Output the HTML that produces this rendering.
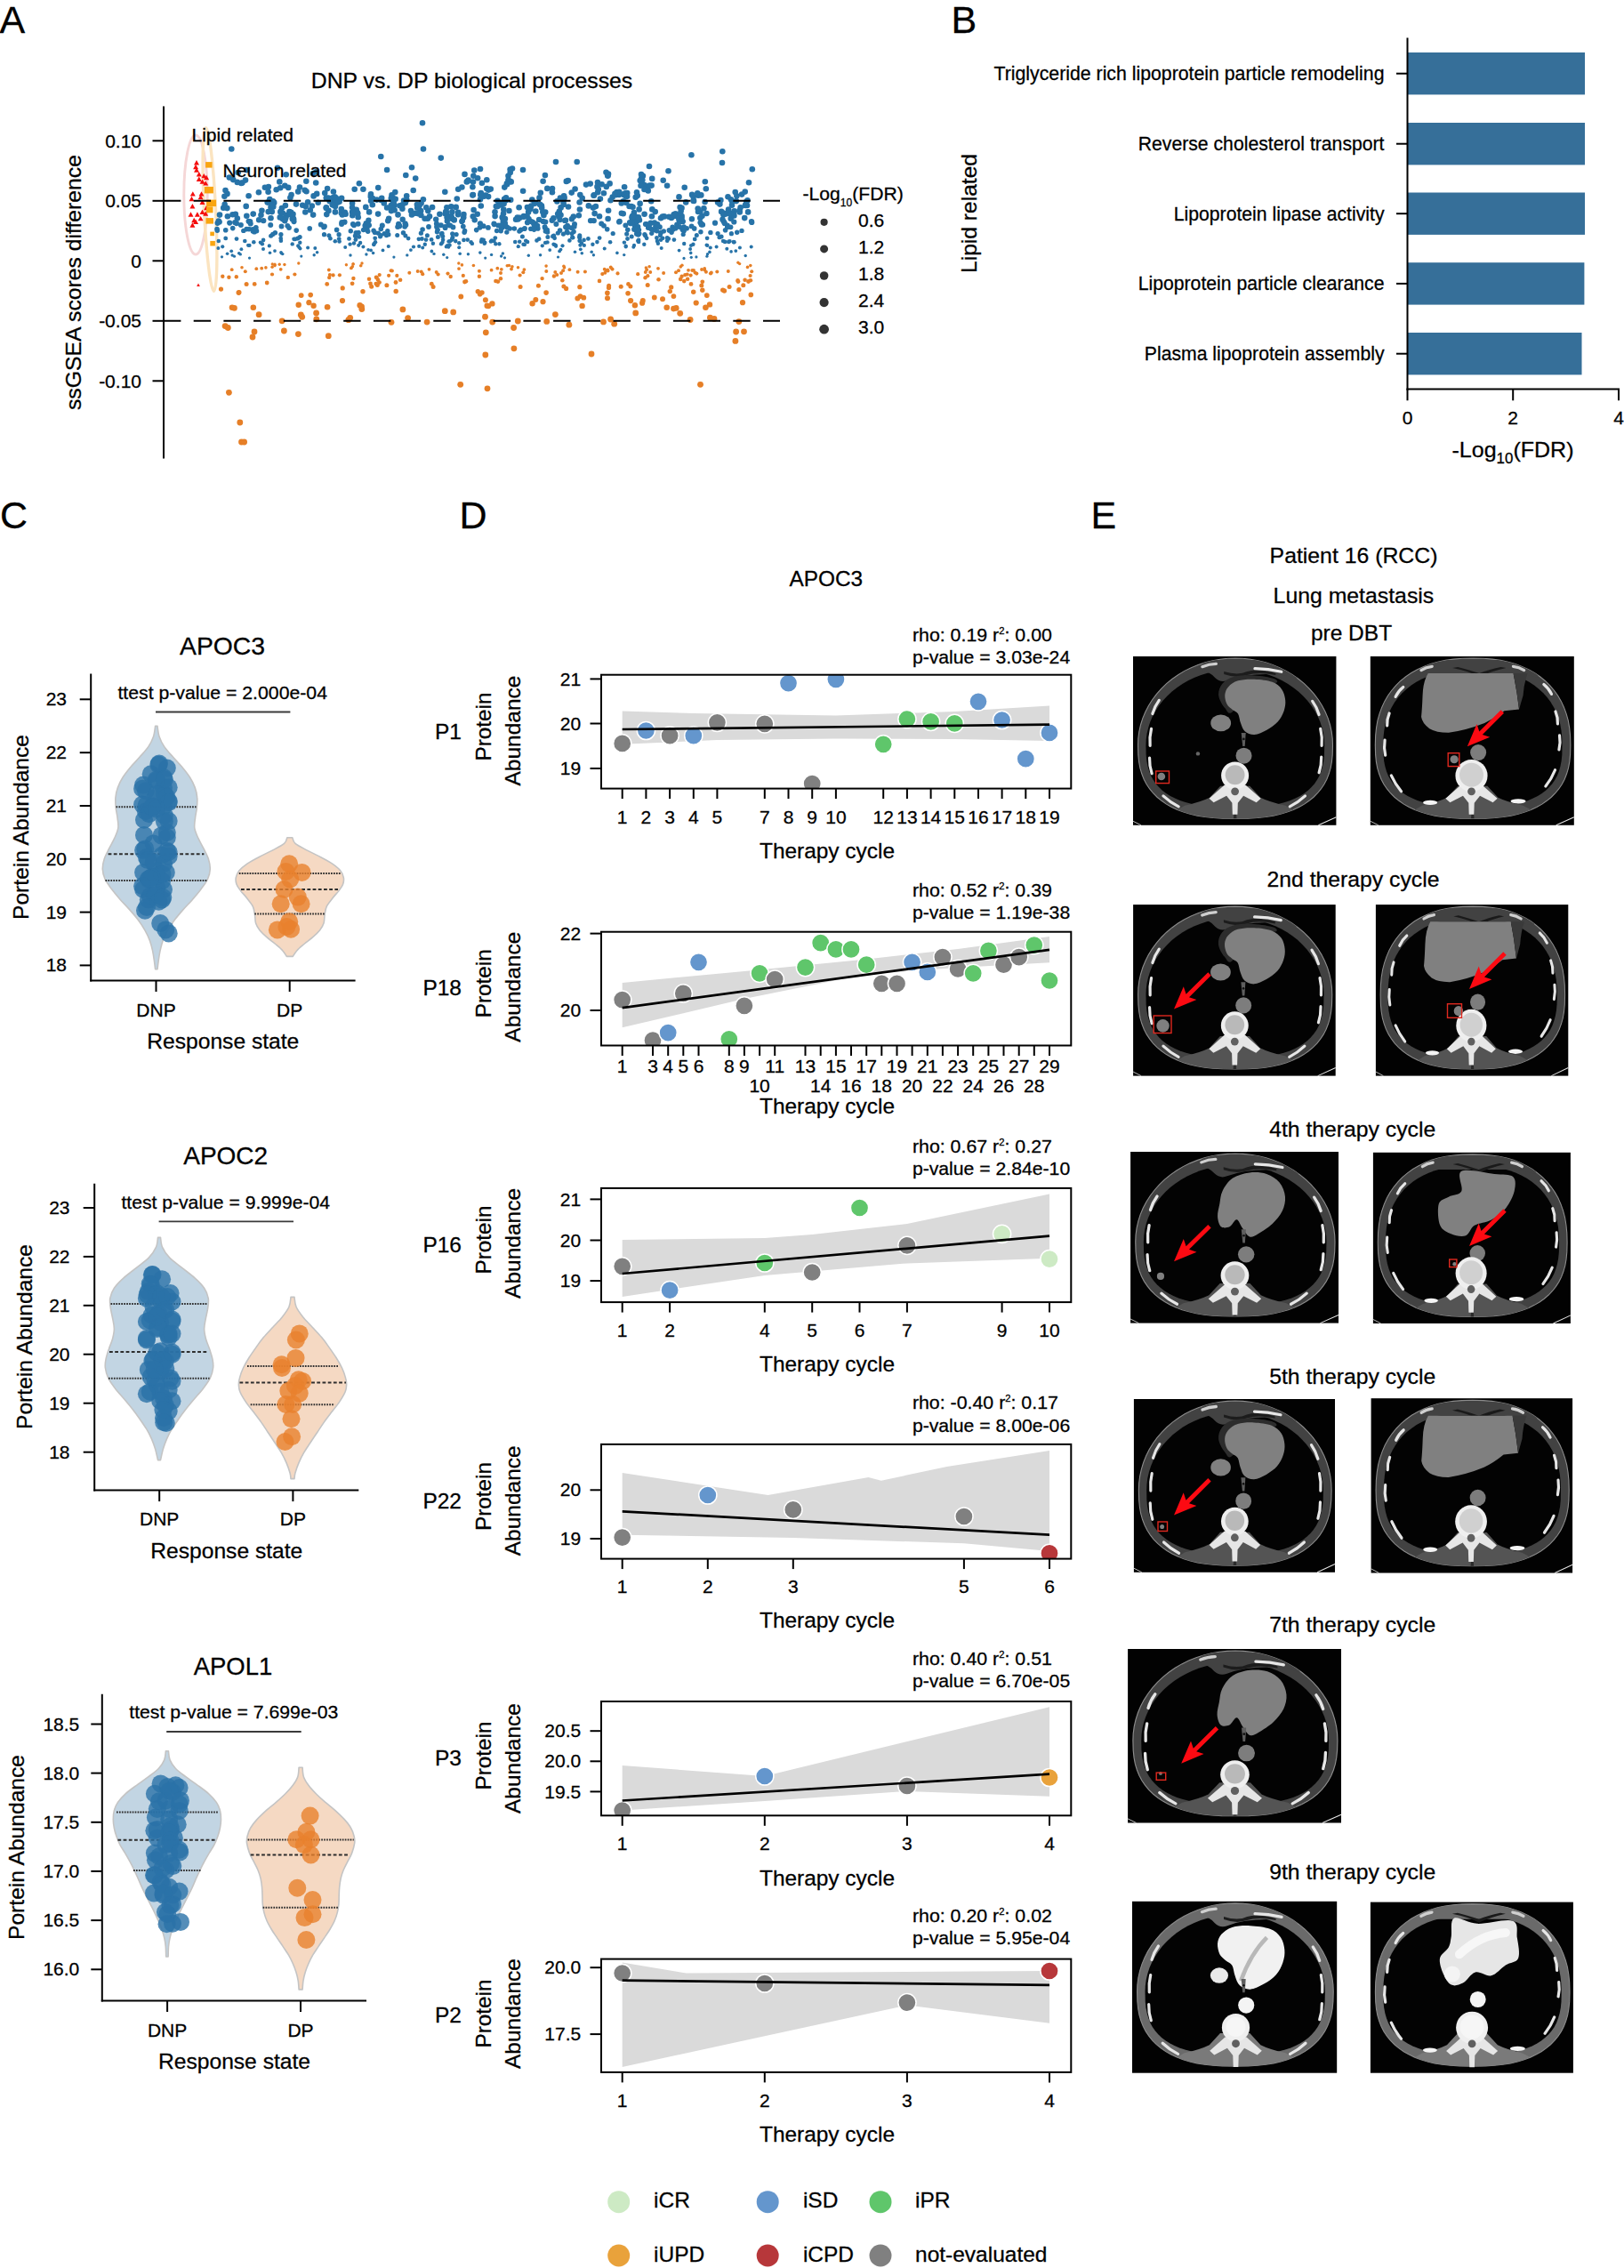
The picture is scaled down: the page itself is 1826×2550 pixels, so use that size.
<!DOCTYPE html>
<html lang="en"><head><meta charset="utf-8"><title>Figure</title>
<style>html,body{margin:0;padding:0;background:#fff}body{width:1826px;height:2550px;overflow:hidden}svg{display:block}text{font-family:"Liberation Sans",sans-serif;fill:#000;stroke:#000;stroke-width:.28px}</style></head><body>
<svg width="1826" height="2550" viewBox="0 0 1826 2550">
<defs><clipPath id="cp1"><rect x="676" y="758.7" width="528.3" height="127.9"/></clipPath><clipPath id="cp2"><rect x="676" y="1047.7" width="528.3" height="127.8"/></clipPath><clipPath id="cp3"><rect x="676" y="1335.9" width="528.3" height="128.2"/></clipPath><clipPath id="cp4"><rect x="676" y="1623.9" width="528.3" height="128.7"/></clipPath><clipPath id="cp5"><rect x="676" y="1913" width="528.3" height="128.3"/></clipPath><clipPath id="cp6"><rect x="676" y="2202.6" width="528.3" height="127.3"/></clipPath><clipPath id="ct1"><path d="M224.1 100L223.8 110.8L223 118.7L221.7 125.8L219.8 132.2L217.4 138.3L214.5 143.9L211 149.1L207.1 153.9L202.6 158.4L197.6 162.5L192.2 166.3L186.2 169.6L179.8 172.6L172.9 175.2L165.5 177.4L157.5 179.3L148.9 180.7L139.6 181.7L129.1 182.3L114.8 182.5L100.5 182.3L90 181.7L80.7 180.7L72.1 179.3L64.1 177.4L56.7 175.2L49.8 172.6L43.4 169.6L37.4 166.3L32 162.5L27 158.4L22.5 153.9L18.6 149.1L15.1 143.9L12.2 138.3L9.8 132.2L7.9 125.8L6.6 118.7L5.8 110.8L5.5 100L5.8 92.3L6.8 84.7L8.5 77.1L10.8 69.7L13.8 62.5L17.4 55.5L21.6 48.8L26.4 42.4L31.7 36.4L37.5 30.7L43.8 25.5L50.6 20.7L57.7 16.4L65.2 12.7L73 9.5L81 6.8L89.3 4.7L97.7 3.2L106.2 2.3L114.8 2L123.4 2.3L131.9 3.2L140.3 4.7L148.6 6.8L156.6 9.5L164.4 12.7L171.9 16.4L179 20.7L185.8 25.5L192.1 30.7L197.9 36.4L203.2 42.4L208 48.8L212.2 55.5L215.8 62.5L218.8 69.7L221.1 77.1L222.8 84.7L223.8 92.3Z"/></clipPath><clipPath id="ct2"><path d="M224.1 100L223.8 110.8L223 118.7L221.7 125.8L219.8 132.2L217.4 138.3L214.5 143.9L211 149.1L207.1 153.9L202.6 158.4L197.6 162.5L192.2 166.3L186.2 169.6L179.8 172.6L172.9 175.2L165.5 177.4L157.5 179.3L148.9 180.7L139.6 181.7L129.1 182.3L114.8 182.5L100.5 182.3L90 181.7L80.7 180.7L72.1 179.3L64.1 177.4L56.7 175.2L49.8 172.6L43.4 169.6L37.4 166.3L32 162.5L27 158.4L22.5 153.9L18.6 149.1L15.1 143.9L12.2 138.3L9.8 132.2L7.9 125.8L6.6 118.7L5.8 110.8L5.5 100L5.8 89.3L6.7 80.5L8.1 72.3L10.2 64.7L12.8 57.5L15.9 50.7L19.6 44.3L23.9 38.3L28.7 32.7L33.9 27.5L39.7 22.8L45.9 18.5L52.6 14.7L59.8 11.4L67.4 8.5L75.4 6.2L84 4.4L93 3.1L102.8 2.3L114.8 2L126.8 2.3L136.6 3.1L145.6 4.4L154.2 6.2L162.2 8.5L169.8 11.4L177 14.7L183.7 18.5L189.9 22.8L195.7 27.5L200.9 32.7L205.7 38.3L210 44.3L213.7 50.7L216.8 57.5L219.4 64.7L221.5 72.3L222.9 80.5L223.8 89.3Z"/></clipPath><clipPath id="ct3"><path d="M224.1 100L223.8 110.8L223 118.7L221.7 125.8L219.8 132.2L217.4 138.3L214.5 143.9L211 149.1L207.1 153.9L202.6 158.4L197.6 162.5L192.2 166.3L186.2 169.6L179.8 172.6L172.9 175.2L165.5 177.4L157.5 179.3L148.9 180.7L139.6 181.7L129.1 182.3L114.8 182.5L100.5 182.3L90 181.7L80.7 180.7L72.1 179.3L64.1 177.4L56.7 175.2L49.8 172.6L43.4 169.6L37.4 166.3L32 162.5L27 158.4L22.5 153.9L18.6 149.1L15.1 143.9L12.2 138.3L9.8 132.2L7.9 125.8L6.6 118.7L5.8 110.8L5.5 100L5.8 92.3L6.8 84.7L8.5 77.1L10.8 69.7L13.8 62.5L17.4 55.5L21.6 48.8L26.4 42.4L31.7 36.4L37.5 30.7L43.8 25.5L50.6 20.7L57.7 16.4L65.2 12.7L73 9.5L81 6.8L89.3 4.7L97.7 3.2L106.2 2.3L114.8 2L123.4 2.3L131.9 3.2L140.3 4.7L148.6 6.8L156.6 9.5L164.4 12.7L171.9 16.4L179 20.7L185.8 25.5L192.1 30.7L197.9 36.4L203.2 42.4L208 48.8L212.2 55.5L215.8 62.5L218.8 69.7L221.1 77.1L222.8 84.7L223.8 92.3Z"/></clipPath><clipPath id="ct4"><path d="M224.1 100L223.8 110.8L223 118.7L221.7 125.8L219.8 132.2L217.4 138.3L214.5 143.9L211 149.1L207.1 153.9L202.6 158.4L197.6 162.5L192.2 166.3L186.2 169.6L179.8 172.6L172.9 175.2L165.5 177.4L157.5 179.3L148.9 180.7L139.6 181.7L129.1 182.3L114.8 182.5L100.5 182.3L90 181.7L80.7 180.7L72.1 179.3L64.1 177.4L56.7 175.2L49.8 172.6L43.4 169.6L37.4 166.3L32 162.5L27 158.4L22.5 153.9L18.6 149.1L15.1 143.9L12.2 138.3L9.8 132.2L7.9 125.8L6.6 118.7L5.8 110.8L5.5 100L5.8 89.3L6.7 80.5L8.1 72.3L10.2 64.7L12.8 57.5L15.9 50.7L19.6 44.3L23.9 38.3L28.7 32.7L33.9 27.5L39.7 22.8L45.9 18.5L52.6 14.7L59.8 11.4L67.4 8.5L75.4 6.2L84 4.4L93 3.1L102.8 2.3L114.8 2L126.8 2.3L136.6 3.1L145.6 4.4L154.2 6.2L162.2 8.5L169.8 11.4L177 14.7L183.7 18.5L189.9 22.8L195.7 27.5L200.9 32.7L205.7 38.3L210 44.3L213.7 50.7L216.8 57.5L219.4 64.7L221.5 72.3L222.9 80.5L223.8 89.3Z"/></clipPath><clipPath id="ct5"><path d="M224.1 100L223.8 110.8L223 118.7L221.7 125.8L219.8 132.2L217.4 138.3L214.5 143.9L211 149.1L207.1 153.9L202.6 158.4L197.6 162.5L192.2 166.3L186.2 169.6L179.8 172.6L172.9 175.2L165.5 177.4L157.5 179.3L148.9 180.7L139.6 181.7L129.1 182.3L114.8 182.5L100.5 182.3L90 181.7L80.7 180.7L72.1 179.3L64.1 177.4L56.7 175.2L49.8 172.6L43.4 169.6L37.4 166.3L32 162.5L27 158.4L22.5 153.9L18.6 149.1L15.1 143.9L12.2 138.3L9.8 132.2L7.9 125.8L6.6 118.7L5.8 110.8L5.5 100L5.8 92.3L6.8 84.7L8.5 77.1L10.8 69.7L13.8 62.5L17.4 55.5L21.6 48.8L26.4 42.4L31.7 36.4L37.5 30.7L43.8 25.5L50.6 20.7L57.7 16.4L65.2 12.7L73 9.5L81 6.8L89.3 4.7L97.7 3.2L106.2 2.3L114.8 2L123.4 2.3L131.9 3.2L140.3 4.7L148.6 6.8L156.6 9.5L164.4 12.7L171.9 16.4L179 20.7L185.8 25.5L192.1 30.7L197.9 36.4L203.2 42.4L208 48.8L212.2 55.5L215.8 62.5L218.8 69.7L221.1 77.1L222.8 84.7L223.8 92.3Z"/></clipPath><clipPath id="ct6"><path d="M224.1 100L223.8 110.8L223 118.7L221.7 125.8L219.8 132.2L217.4 138.3L214.5 143.9L211 149.1L207.1 153.9L202.6 158.4L197.6 162.5L192.2 166.3L186.2 169.6L179.8 172.6L172.9 175.2L165.5 177.4L157.5 179.3L148.9 180.7L139.6 181.7L129.1 182.3L114.8 182.5L100.5 182.3L90 181.7L80.7 180.7L72.1 179.3L64.1 177.4L56.7 175.2L49.8 172.6L43.4 169.6L37.4 166.3L32 162.5L27 158.4L22.5 153.9L18.6 149.1L15.1 143.9L12.2 138.3L9.8 132.2L7.9 125.8L6.6 118.7L5.8 110.8L5.5 100L5.8 89.3L6.7 80.5L8.1 72.3L10.2 64.7L12.8 57.5L15.9 50.7L19.6 44.3L23.9 38.3L28.7 32.7L33.9 27.5L39.7 22.8L45.9 18.5L52.6 14.7L59.8 11.4L67.4 8.5L75.4 6.2L84 4.4L93 3.1L102.8 2.3L114.8 2L126.8 2.3L136.6 3.1L145.6 4.4L154.2 6.2L162.2 8.5L169.8 11.4L177 14.7L183.7 18.5L189.9 22.8L195.7 27.5L200.9 32.7L205.7 38.3L210 44.3L213.7 50.7L216.8 57.5L219.4 64.7L221.5 72.3L222.9 80.5L223.8 89.3Z"/></clipPath><clipPath id="ct7"><path d="M224.1 100L223.8 110.8L223 118.7L221.7 125.8L219.8 132.2L217.4 138.3L214.5 143.9L211 149.1L207.1 153.9L202.6 158.4L197.6 162.5L192.2 166.3L186.2 169.6L179.8 172.6L172.9 175.2L165.5 177.4L157.5 179.3L148.9 180.7L139.6 181.7L129.1 182.3L114.8 182.5L100.5 182.3L90 181.7L80.7 180.7L72.1 179.3L64.1 177.4L56.7 175.2L49.8 172.6L43.4 169.6L37.4 166.3L32 162.5L27 158.4L22.5 153.9L18.6 149.1L15.1 143.9L12.2 138.3L9.8 132.2L7.9 125.8L6.6 118.7L5.8 110.8L5.5 100L5.8 92.3L6.8 84.7L8.5 77.1L10.8 69.7L13.8 62.5L17.4 55.5L21.6 48.8L26.4 42.4L31.7 36.4L37.5 30.7L43.8 25.5L50.6 20.7L57.7 16.4L65.2 12.7L73 9.5L81 6.8L89.3 4.7L97.7 3.2L106.2 2.3L114.8 2L123.4 2.3L131.9 3.2L140.3 4.7L148.6 6.8L156.6 9.5L164.4 12.7L171.9 16.4L179 20.7L185.8 25.5L192.1 30.7L197.9 36.4L203.2 42.4L208 48.8L212.2 55.5L215.8 62.5L218.8 69.7L221.1 77.1L222.8 84.7L223.8 92.3Z"/></clipPath><clipPath id="ct8"><path d="M224.1 100L223.8 110.8L223 118.7L221.7 125.8L219.8 132.2L217.4 138.3L214.5 143.9L211 149.1L207.1 153.9L202.6 158.4L197.6 162.5L192.2 166.3L186.2 169.6L179.8 172.6L172.9 175.2L165.5 177.4L157.5 179.3L148.9 180.7L139.6 181.7L129.1 182.3L114.8 182.5L100.5 182.3L90 181.7L80.7 180.7L72.1 179.3L64.1 177.4L56.7 175.2L49.8 172.6L43.4 169.6L37.4 166.3L32 162.5L27 158.4L22.5 153.9L18.6 149.1L15.1 143.9L12.2 138.3L9.8 132.2L7.9 125.8L6.6 118.7L5.8 110.8L5.5 100L5.8 89.3L6.7 80.5L8.1 72.3L10.2 64.7L12.8 57.5L15.9 50.7L19.6 44.3L23.9 38.3L28.7 32.7L33.9 27.5L39.7 22.8L45.9 18.5L52.6 14.7L59.8 11.4L67.4 8.5L75.4 6.2L84 4.4L93 3.1L102.8 2.3L114.8 2L126.8 2.3L136.6 3.1L145.6 4.4L154.2 6.2L162.2 8.5L169.8 11.4L177 14.7L183.7 18.5L189.9 22.8L195.7 27.5L200.9 32.7L205.7 38.3L210 44.3L213.7 50.7L216.8 57.5L219.4 64.7L221.5 72.3L222.9 80.5L223.8 89.3Z"/></clipPath><clipPath id="ct9"><path d="M224.1 100L223.8 110.8L223 118.7L221.7 125.8L219.8 132.2L217.4 138.3L214.5 143.9L211 149.1L207.1 153.9L202.6 158.4L197.6 162.5L192.2 166.3L186.2 169.6L179.8 172.6L172.9 175.2L165.5 177.4L157.5 179.3L148.9 180.7L139.6 181.7L129.1 182.3L114.8 182.5L100.5 182.3L90 181.7L80.7 180.7L72.1 179.3L64.1 177.4L56.7 175.2L49.8 172.6L43.4 169.6L37.4 166.3L32 162.5L27 158.4L22.5 153.9L18.6 149.1L15.1 143.9L12.2 138.3L9.8 132.2L7.9 125.8L6.6 118.7L5.8 110.8L5.5 100L5.8 92.3L6.8 84.7L8.5 77.1L10.8 69.7L13.8 62.5L17.4 55.5L21.6 48.8L26.4 42.4L31.7 36.4L37.5 30.7L43.8 25.5L50.6 20.7L57.7 16.4L65.2 12.7L73 9.5L81 6.8L89.3 4.7L97.7 3.2L106.2 2.3L114.8 2L123.4 2.3L131.9 3.2L140.3 4.7L148.6 6.8L156.6 9.5L164.4 12.7L171.9 16.4L179 20.7L185.8 25.5L192.1 30.7L197.9 36.4L203.2 42.4L208 48.8L212.2 55.5L215.8 62.5L218.8 69.7L221.1 77.1L222.8 84.7L223.8 92.3Z"/></clipPath><clipPath id="ct10"><path d="M224.1 100L223.8 110.8L223 118.7L221.7 125.8L219.8 132.2L217.4 138.3L214.5 143.9L211 149.1L207.1 153.9L202.6 158.4L197.6 162.5L192.2 166.3L186.2 169.6L179.8 172.6L172.9 175.2L165.5 177.4L157.5 179.3L148.9 180.7L139.6 181.7L129.1 182.3L114.8 182.5L100.5 182.3L90 181.7L80.7 180.7L72.1 179.3L64.1 177.4L56.7 175.2L49.8 172.6L43.4 169.6L37.4 166.3L32 162.5L27 158.4L22.5 153.9L18.6 149.1L15.1 143.9L12.2 138.3L9.8 132.2L7.9 125.8L6.6 118.7L5.8 110.8L5.5 100L5.8 92.3L6.8 84.7L8.5 77.1L10.8 69.7L13.8 62.5L17.4 55.5L21.6 48.8L26.4 42.4L31.7 36.4L37.5 30.7L43.8 25.5L50.6 20.7L57.7 16.4L65.2 12.7L73 9.5L81 6.8L89.3 4.7L97.7 3.2L106.2 2.3L114.8 2L123.4 2.3L131.9 3.2L140.3 4.7L148.6 6.8L156.6 9.5L164.4 12.7L171.9 16.4L179 20.7L185.8 25.5L192.1 30.7L197.9 36.4L203.2 42.4L208 48.8L212.2 55.5L215.8 62.5L218.8 69.7L221.1 77.1L222.8 84.7L223.8 92.3Z"/></clipPath><clipPath id="ct11"><path d="M224.1 100L223.8 110.8L223 118.7L221.7 125.8L219.8 132.2L217.4 138.3L214.5 143.9L211 149.1L207.1 153.9L202.6 158.4L197.6 162.5L192.2 166.3L186.2 169.6L179.8 172.6L172.9 175.2L165.5 177.4L157.5 179.3L148.9 180.7L139.6 181.7L129.1 182.3L114.8 182.5L100.5 182.3L90 181.7L80.7 180.7L72.1 179.3L64.1 177.4L56.7 175.2L49.8 172.6L43.4 169.6L37.4 166.3L32 162.5L27 158.4L22.5 153.9L18.6 149.1L15.1 143.9L12.2 138.3L9.8 132.2L7.9 125.8L6.6 118.7L5.8 110.8L5.5 100L5.8 89.3L6.7 80.5L8.1 72.3L10.2 64.7L12.8 57.5L15.9 50.7L19.6 44.3L23.9 38.3L28.7 32.7L33.9 27.5L39.7 22.8L45.9 18.5L52.6 14.7L59.8 11.4L67.4 8.5L75.4 6.2L84 4.4L93 3.1L102.8 2.3L114.8 2L126.8 2.3L136.6 3.1L145.6 4.4L154.2 6.2L162.2 8.5L169.8 11.4L177 14.7L183.7 18.5L189.9 22.8L195.7 27.5L200.9 32.7L205.7 38.3L210 44.3L213.7 50.7L216.8 57.5L219.4 64.7L221.5 72.3L222.9 80.5L223.8 89.3Z"/></clipPath></defs>
<rect width="1826" height="2550" fill="#fff"/>
<g id="panelA">
<text x="-0.5" y="36.5" font-size="43">A</text>
<text x="530.5" y="98.5" font-size="24.5" text-anchor="middle" textLength="361.5" lengthAdjust="spacingAndGlyphs">DNP vs. DP biological processes</text>
<ellipse cx="220" cy="219" rx="13.2" ry="67" fill="none" stroke="#f5d7d7" stroke-width="2.9"/>
<ellipse cx="236" cy="235.5" rx="6.5" ry="92" fill="none" stroke="#fbe4c0" stroke-width="3.4" transform="rotate(-2.8 236 235.5)"/>
<g fill="#2773a8"><circle cx="251.2" cy="233.7" r="3.3"/><circle cx="244.3" cy="259.3" r="2.7"/><circle cx="252.7" cy="229.9" r="3.3"/><circle cx="244.6" cy="250.8" r="3.1"/><circle cx="261.5" cy="241.3" r="3.3"/><circle cx="245.8" cy="248.4" r="3.2"/><circle cx="264.2" cy="250" r="3.1"/><circle cx="255.9" cy="243.3" r="3.3"/><circle cx="255.5" cy="217.9" r="3.3"/><circle cx="257.8" cy="199.6" r="3.3"/><circle cx="272.4" cy="205.6" r="3.3"/><circle cx="271.2" cy="205.9" r="3.3"/><circle cx="253.5" cy="214" r="3.3"/><circle cx="276" cy="202.6" r="3.3"/><circle cx="266.8" cy="204.9" r="3.3"/><circle cx="267.7" cy="194" r="3.3"/><circle cx="262.2" cy="202.1" r="3.3"/><circle cx="288.6" cy="259.8" r="2.7"/><circle cx="270.9" cy="253.1" r="3"/><circle cx="279.6" cy="248.8" r="3.1"/><circle cx="281.7" cy="251.4" r="3"/><circle cx="268.7" cy="284.7" r="1.8"/><circle cx="284.1" cy="257.7" r="2.8"/><circle cx="292.9" cy="272.6" r="2.2"/><circle cx="284.7" cy="240.6" r="3.3"/><circle cx="284.3" cy="260.1" r="2.7"/><circle cx="294.9" cy="274.2" r="2.2"/><circle cx="281.2" cy="249.1" r="3.1"/><circle cx="287.8" cy="255.8" r="2.9"/><circle cx="286" cy="260.9" r="2.7"/><circle cx="303.5" cy="227.7" r="3.3"/><circle cx="287.5" cy="258.6" r="2.8"/><circle cx="315.7" cy="237.7" r="3.3"/><circle cx="300.7" cy="227.6" r="3.3"/><circle cx="319.8" cy="246" r="3.2"/><circle cx="307" cy="226.2" r="3.3"/><circle cx="320.3" cy="248.2" r="3.2"/><circle cx="296.2" cy="248.1" r="3.2"/><circle cx="301.7" cy="238.1" r="3.3"/><circle cx="323.3" cy="253.9" r="2.9"/><circle cx="291.1" cy="247.2" r="3.2"/><circle cx="294.4" cy="236.8" r="3.3"/><circle cx="304.5" cy="233" r="3.3"/><circle cx="285.3" cy="272.3" r="2.3"/><circle cx="320.3" cy="208.7" r="3.3"/><circle cx="321.7" cy="196.2" r="3.3"/><circle cx="324.2" cy="210.9" r="3.3"/><circle cx="326.4" cy="222.3" r="3.3"/><circle cx="315.2" cy="211.3" r="3.3"/><circle cx="308.2" cy="227.9" r="3.3"/><circle cx="307.3" cy="232.4" r="3.3"/><circle cx="310.7" cy="213.2" r="3.3"/><circle cx="307" cy="227.9" r="3.3"/><circle cx="305.8" cy="238.1" r="3.3"/><circle cx="314.3" cy="204.4" r="3.3"/><circle cx="306.4" cy="230.3" r="3.3"/><circle cx="317.9" cy="246.2" r="3.2"/><circle cx="325" cy="256.1" r="2.9"/><circle cx="325.4" cy="238" r="3.3"/><circle cx="322.5" cy="241.9" r="3.3"/><circle cx="320.9" cy="245.3" r="3.3"/><circle cx="315.9" cy="270.8" r="2.3"/><circle cx="335" cy="268.1" r="2.4"/><circle cx="326.6" cy="241.2" r="3.3"/><circle cx="316" cy="283.7" r="1.8"/><circle cx="333.2" cy="259.1" r="2.8"/><circle cx="344.5" cy="215.3" r="3.3"/><circle cx="335.2" cy="215.4" r="3.3"/><circle cx="348.8" cy="236.3" r="3.3"/><circle cx="346.1" cy="227.3" r="3.3"/><circle cx="343.7" cy="232" r="3.3"/><circle cx="333" cy="229.6" r="3.3"/><circle cx="328.9" cy="246" r="3.3"/><circle cx="328.9" cy="246.3" r="3.2"/><circle cx="342.7" cy="213.8" r="3.3"/><circle cx="348.2" cy="256.9" r="2.8"/><circle cx="352.6" cy="220.4" r="3.3"/><circle cx="368.1" cy="212.1" r="3.3"/><circle cx="378.8" cy="226.4" r="3.3"/><circle cx="369.2" cy="222.6" r="3.3"/><circle cx="374.9" cy="215.5" r="3.3"/><circle cx="379.2" cy="226.4" r="3.3"/><circle cx="374.2" cy="222.2" r="3.3"/><circle cx="350.8" cy="231.5" r="3.3"/><circle cx="374.5" cy="228" r="3.3"/><circle cx="381.6" cy="226.8" r="3.3"/><circle cx="367.3" cy="241.1" r="3.3"/><circle cx="385.7" cy="239.8" r="3.3"/><circle cx="383.8" cy="239.4" r="3.3"/><circle cx="387.5" cy="249.7" r="3.1"/><circle cx="377" cy="232.1" r="3.3"/><circle cx="366.8" cy="222.6" r="3.3"/><circle cx="379.4" cy="227.7" r="3.3"/><circle cx="376.4" cy="221.4" r="3.3"/><circle cx="384.9" cy="241.5" r="3.3"/><circle cx="383.8" cy="235" r="3.3"/><circle cx="370.7" cy="226.3" r="3.3"/><circle cx="369.4" cy="236.9" r="3.3"/><circle cx="373.8" cy="230.2" r="3.3"/><circle cx="366.8" cy="233.9" r="3.3"/><circle cx="374.8" cy="230.4" r="3.3"/><circle cx="377.8" cy="222.6" r="3.3"/><circle cx="381.6" cy="271.5" r="2.3"/><circle cx="381.2" cy="268.6" r="2.4"/><circle cx="402.7" cy="244.2" r="3.3"/><circle cx="400.7" cy="235.8" r="3.3"/><circle cx="396.1" cy="238.4" r="3.3"/><circle cx="396.1" cy="228.5" r="3.3"/><circle cx="402.3" cy="240.1" r="3.3"/><circle cx="387.8" cy="238.9" r="3.3"/><circle cx="388.6" cy="240.7" r="3.3"/><circle cx="396.3" cy="242.3" r="3.3"/><circle cx="401.6" cy="238.7" r="3.3"/><circle cx="397.7" cy="239.8" r="3.3"/><circle cx="421.7" cy="267.8" r="2.4"/><circle cx="415.1" cy="238.4" r="3.3"/><circle cx="403.1" cy="261.4" r="2.7"/><circle cx="411.3" cy="232.9" r="3.3"/><circle cx="399.8" cy="265.4" r="2.5"/><circle cx="399.3" cy="265.1" r="2.5"/><circle cx="402.6" cy="251.7" r="3"/><circle cx="398" cy="273.5" r="2.2"/><circle cx="420.5" cy="274.2" r="2.2"/><circle cx="400.2" cy="261.6" r="2.7"/><circle cx="399.9" cy="269.5" r="2.4"/><circle cx="420.1" cy="259.2" r="2.7"/><circle cx="422" cy="272.3" r="2.3"/><circle cx="423.7" cy="224.6" r="3.3"/><circle cx="419" cy="223" r="3.3"/><circle cx="429.2" cy="222.8" r="3.3"/><circle cx="410.5" cy="257.6" r="2.8"/><circle cx="410.4" cy="253.8" r="3"/><circle cx="418.8" cy="230.3" r="3.3"/><circle cx="411.6" cy="251.2" r="3.1"/><circle cx="436.2" cy="248.2" r="3.2"/><circle cx="412.7" cy="257.5" r="2.8"/><circle cx="417" cy="218.4" r="3.3"/><circle cx="417.1" cy="225.7" r="3.3"/><circle cx="413.4" cy="251.1" r="3.1"/><circle cx="431.8" cy="228.4" r="3.3"/><circle cx="416.8" cy="221" r="3.3"/><circle cx="425.2" cy="211.1" r="3.3"/><circle cx="428.6" cy="224.9" r="3.3"/><circle cx="442.5" cy="226" r="3.3"/><circle cx="448.1" cy="251.7" r="3"/><circle cx="428.3" cy="257.5" r="2.8"/><circle cx="435.1" cy="233.5" r="3.3"/><circle cx="440.5" cy="219.4" r="3.3"/><circle cx="429.8" cy="253.6" r="3"/><circle cx="439.8" cy="223" r="3.3"/><circle cx="441.7" cy="222.6" r="3.3"/><circle cx="444.7" cy="223.7" r="3.3"/><circle cx="439.7" cy="231" r="3.3"/><circle cx="440.8" cy="224.7" r="3.3"/><circle cx="437.2" cy="245.8" r="3.3"/><circle cx="439.9" cy="237.1" r="3.3"/><circle cx="444.3" cy="216.1" r="3.3"/><circle cx="449.5" cy="231.2" r="3.3"/><circle cx="443.6" cy="230.7" r="3.3"/><circle cx="454.1" cy="225.5" r="3.3"/><circle cx="462" cy="237.1" r="3.3"/><circle cx="455.8" cy="228" r="3.3"/><circle cx="448.3" cy="252.5" r="3"/><circle cx="446.7" cy="264.5" r="2.5"/><circle cx="449.2" cy="253.8" r="3"/><circle cx="447.1" cy="255.1" r="2.9"/><circle cx="463" cy="241.4" r="3.3"/><circle cx="452.4" cy="234.8" r="3.3"/><circle cx="457.2" cy="220.2" r="3.3"/><circle cx="449" cy="254.4" r="2.9"/><circle cx="470.9" cy="268.8" r="2.4"/><circle cx="471.2" cy="276.9" r="2.1"/><circle cx="473.2" cy="237" r="3.3"/><circle cx="469.2" cy="233.7" r="3.3"/><circle cx="475.9" cy="224.3" r="3.3"/><circle cx="466.7" cy="239.8" r="3.3"/><circle cx="473.6" cy="228.4" r="3.3"/><circle cx="471.5" cy="231.2" r="3.3"/><circle cx="469.9" cy="240.1" r="3.3"/><circle cx="481.3" cy="236.9" r="3.3"/><circle cx="479.3" cy="233.3" r="3.3"/><circle cx="473.4" cy="242" r="3.3"/><circle cx="508.4" cy="245.9" r="3.3"/><circle cx="510.7" cy="247.1" r="3.2"/><circle cx="507.5" cy="243.3" r="3.3"/><circle cx="480.9" cy="245.7" r="3.3"/><circle cx="508.4" cy="238.3" r="3.3"/><circle cx="507.2" cy="232.2" r="3.3"/><circle cx="510.7" cy="247.4" r="3.2"/><circle cx="502.4" cy="233.2" r="3.3"/><circle cx="504.3" cy="252.9" r="3"/><circle cx="500.7" cy="240.2" r="3.3"/><circle cx="501.6" cy="239" r="3.3"/><circle cx="503.6" cy="243" r="3.3"/><circle cx="502.8" cy="248.4" r="3.2"/><circle cx="501.2" cy="238" r="3.3"/><circle cx="490.9" cy="251.4" r="3"/><circle cx="491" cy="255.1" r="2.9"/><circle cx="494.4" cy="240.8" r="3.3"/><circle cx="502.6" cy="244.6" r="3.3"/><circle cx="519.2" cy="249" r="3.1"/><circle cx="519.9" cy="248.1" r="3.2"/><circle cx="509.5" cy="255.5" r="2.9"/><circle cx="522.6" cy="259.5" r="2.7"/><circle cx="503" cy="276" r="2.1"/><circle cx="504.3" cy="277.8" r="2"/><circle cx="521.2" cy="244.6" r="3.3"/><circle cx="520.8" cy="254.6" r="2.9"/><circle cx="515.1" cy="241.2" r="3.3"/><circle cx="515.2" cy="238.8" r="3.3"/><circle cx="532.3" cy="197.8" r="3.3"/><circle cx="531.9" cy="219.1" r="3.3"/><circle cx="524.8" cy="204.4" r="3.3"/><circle cx="522.5" cy="195.9" r="3.3"/><circle cx="537.1" cy="200.3" r="3.3"/><circle cx="551.7" cy="212.6" r="3.3"/><circle cx="519.4" cy="210.5" r="3.3"/><circle cx="549.1" cy="221.1" r="3.3"/><circle cx="541.9" cy="205.8" r="3.3"/><circle cx="533.3" cy="191.6" r="3.3"/><circle cx="515.2" cy="212.7" r="3.3"/><circle cx="532" cy="204.5" r="3.3"/><circle cx="526.1" cy="203.6" r="3.3"/><circle cx="526.6" cy="202.5" r="3.3"/><circle cx="547.3" cy="202.2" r="3.3"/><circle cx="547.3" cy="212.1" r="3.3"/><circle cx="544.8" cy="220.1" r="3.3"/><circle cx="567.9" cy="250.8" r="3.1"/><circle cx="546.2" cy="219.5" r="3.3"/><circle cx="540.4" cy="219.2" r="3.3"/><circle cx="561.7" cy="228.5" r="3.3"/><circle cx="540.8" cy="217.1" r="3.3"/><circle cx="540" cy="224.2" r="3.3"/><circle cx="549.3" cy="213.6" r="3.3"/><circle cx="566.3" cy="235.5" r="3.3"/><circle cx="563.6" cy="230.4" r="3.3"/><circle cx="564.7" cy="244.4" r="3.3"/><circle cx="565.7" cy="248.5" r="3.2"/><circle cx="531.8" cy="243.3" r="3.3"/><circle cx="557.8" cy="232" r="3.3"/><circle cx="555.8" cy="252.2" r="3"/><circle cx="559.4" cy="225.7" r="3.3"/><circle cx="568.9" cy="225.3" r="3.3"/><circle cx="567.1" cy="223.9" r="3.3"/><circle cx="559.5" cy="232.1" r="3.3"/><circle cx="556.6" cy="243.1" r="3.3"/><circle cx="556.5" cy="238.3" r="3.3"/><circle cx="573.7" cy="194.1" r="3.3"/><circle cx="566.6" cy="229.1" r="3.3"/><circle cx="571.5" cy="197.7" r="3.3"/><circle cx="569.9" cy="206.2" r="3.3"/><circle cx="576" cy="189.5" r="3.3"/><circle cx="572.9" cy="204.3" r="3.3"/><circle cx="573" cy="203.5" r="3.3"/><circle cx="571.5" cy="202.6" r="3.3"/><circle cx="566" cy="240.2" r="3.3"/><circle cx="567.3" cy="210.6" r="3.3"/><circle cx="574.7" cy="204.4" r="3.3"/><circle cx="569" cy="222.3" r="3.3"/><circle cx="570.1" cy="207.3" r="3.3"/><circle cx="573.6" cy="190.6" r="3.3"/><circle cx="583.6" cy="233.3" r="3.3"/><circle cx="565.2" cy="255.4" r="2.9"/><circle cx="584.6" cy="244.7" r="3.3"/><circle cx="602" cy="251.6" r="3"/><circle cx="603.5" cy="270.4" r="2.3"/><circle cx="580" cy="246.7" r="3.2"/><circle cx="588.9" cy="243.1" r="3.3"/><circle cx="594.1" cy="238.4" r="3.3"/><circle cx="593" cy="250.2" r="3.1"/><circle cx="596.8" cy="257.2" r="2.8"/><circle cx="573.2" cy="257" r="2.8"/><circle cx="597.3" cy="249" r="3.1"/><circle cx="592.9" cy="233.1" r="3.3"/><circle cx="581.8" cy="244.6" r="3.3"/><circle cx="592.6" cy="243.1" r="3.3"/><circle cx="594.6" cy="246.1" r="3.2"/><circle cx="589" cy="243.8" r="3.3"/><circle cx="602" cy="228.2" r="3.3"/><circle cx="614" cy="258.5" r="2.8"/><circle cx="602.3" cy="237.5" r="3.3"/><circle cx="596.5" cy="235" r="3.3"/><circle cx="607.8" cy="216.7" r="3.3"/><circle cx="598.3" cy="224.6" r="3.3"/><circle cx="607.1" cy="229.9" r="3.3"/><circle cx="601" cy="228.7" r="3.3"/><circle cx="613.2" cy="238.5" r="3.3"/><circle cx="613.3" cy="249.5" r="3.1"/><circle cx="612.5" cy="255.1" r="2.9"/><circle cx="615.9" cy="266.6" r="2.5"/><circle cx="606.1" cy="247" r="3.2"/><circle cx="604.8" cy="256.9" r="2.8"/><circle cx="612.8" cy="256.1" r="2.9"/><circle cx="608.9" cy="231.2" r="3.3"/><circle cx="604.3" cy="253.8" r="3"/><circle cx="611.4" cy="241.9" r="3.3"/><circle cx="615.6" cy="261" r="2.7"/><circle cx="610.3" cy="238.2" r="3.3"/><circle cx="642.7" cy="216.6" r="3.3"/><circle cx="636.8" cy="203.9" r="3.3"/><circle cx="620.9" cy="216.3" r="3.3"/><circle cx="615.3" cy="211.9" r="3.3"/><circle cx="609.2" cy="233.8" r="3.3"/><circle cx="634.1" cy="220.2" r="3.3"/><circle cx="621" cy="212" r="3.3"/><circle cx="638" cy="253.7" r="3"/><circle cx="627.3" cy="262" r="2.6"/><circle cx="636" cy="247.7" r="3.2"/><circle cx="630.5" cy="241.7" r="3.3"/><circle cx="629.6" cy="247.1" r="3.2"/><circle cx="637.3" cy="260.5" r="2.7"/><circle cx="637" cy="255.6" r="2.9"/><circle cx="624.8" cy="275.7" r="2.1"/><circle cx="635.2" cy="247.9" r="3.2"/><circle cx="642.9" cy="246.3" r="3.2"/><circle cx="634.6" cy="222.5" r="3.3"/><circle cx="638.7" cy="203.1" r="3.3"/><circle cx="633.5" cy="226.9" r="3.3"/><circle cx="633.7" cy="229.9" r="3.3"/><circle cx="629.6" cy="259.1" r="2.8"/><circle cx="639" cy="232.5" r="3.3"/><circle cx="646" cy="252.1" r="3"/><circle cx="644.1" cy="267.2" r="2.4"/><circle cx="654" cy="273.5" r="2.2"/><circle cx="643.1" cy="262.6" r="2.6"/><circle cx="652.4" cy="275.7" r="2.1"/><circle cx="651.7" cy="266.7" r="2.5"/><circle cx="645.1" cy="260.4" r="2.7"/><circle cx="645.7" cy="254.8" r="2.9"/><circle cx="643.3" cy="267.1" r="2.4"/><circle cx="669.9" cy="232.1" r="3.3"/><circle cx="668" cy="219.4" r="3.3"/><circle cx="651.6" cy="227.5" r="3.3"/><circle cx="651.9" cy="235.5" r="3.3"/><circle cx="659" cy="207.6" r="3.3"/><circle cx="654.7" cy="222.8" r="3.3"/><circle cx="663.7" cy="206.6" r="3.3"/><circle cx="683.6" cy="197.6" r="3.3"/><circle cx="676.6" cy="207.3" r="3.3"/><circle cx="672.1" cy="216.2" r="3.3"/><circle cx="672" cy="205.1" r="3.3"/><circle cx="684" cy="195.5" r="3.3"/><circle cx="674.9" cy="223.6" r="3.3"/><circle cx="681.5" cy="193.7" r="3.3"/><circle cx="671.5" cy="209.9" r="3.3"/><circle cx="698.9" cy="239.8" r="3.3"/><circle cx="666.9" cy="233.6" r="3.3"/><circle cx="693.5" cy="216.1" r="3.3"/><circle cx="696.1" cy="219" r="3.3"/><circle cx="667.5" cy="219.8" r="3.3"/><circle cx="696.2" cy="215.8" r="3.3"/><circle cx="688.7" cy="221.6" r="3.3"/><circle cx="682.7" cy="257.7" r="2.8"/><circle cx="701.9" cy="217.7" r="3.3"/><circle cx="693" cy="219.1" r="3.3"/><circle cx="684.1" cy="236.7" r="3.3"/><circle cx="702.1" cy="210.3" r="3.3"/><circle cx="704.1" cy="217.1" r="3.3"/><circle cx="691.4" cy="217.8" r="3.3"/><circle cx="705.2" cy="217" r="3.3"/><circle cx="686.5" cy="225.2" r="3.3"/><circle cx="709.8" cy="232" r="3.3"/><circle cx="696.1" cy="249.5" r="3.1"/><circle cx="703.8" cy="220.7" r="3.3"/><circle cx="700.7" cy="240.3" r="3.3"/><circle cx="701.4" cy="219" r="3.3"/><circle cx="707.6" cy="232" r="3.3"/><circle cx="714.8" cy="243.9" r="3.3"/><circle cx="718.1" cy="269.9" r="2.3"/><circle cx="711.5" cy="232.8" r="3.3"/><circle cx="698.8" cy="228.5" r="3.3"/><circle cx="704.2" cy="227.9" r="3.3"/><circle cx="713.8" cy="254.4" r="2.9"/><circle cx="705.1" cy="220.7" r="3.3"/><circle cx="712.9" cy="257.9" r="2.8"/><circle cx="709.3" cy="251.2" r="3.1"/><circle cx="708" cy="250.2" r="3.1"/><circle cx="711.4" cy="243.9" r="3.3"/><circle cx="711" cy="247.8" r="3.2"/><circle cx="715.5" cy="249.8" r="3.1"/><circle cx="705.8" cy="258.2" r="2.8"/><circle cx="717.5" cy="254.9" r="2.9"/><circle cx="704.7" cy="263.1" r="2.6"/><circle cx="717.3" cy="270.7" r="2.3"/><circle cx="712.9" cy="239.1" r="3.3"/><circle cx="715.8" cy="249" r="3.1"/><circle cx="714.7" cy="221.7" r="3.3"/><circle cx="722.9" cy="197.8" r="3.3"/><circle cx="719.7" cy="203.1" r="3.3"/><circle cx="728" cy="210.2" r="3.3"/><circle cx="732.2" cy="226.2" r="3.3"/><circle cx="728.8" cy="214.4" r="3.3"/><circle cx="711.2" cy="242.7" r="3.3"/><circle cx="724.9" cy="208.2" r="3.3"/><circle cx="723.7" cy="207.9" r="3.3"/><circle cx="720.5" cy="208.7" r="3.3"/><circle cx="724.5" cy="213" r="3.3"/><circle cx="721.2" cy="200.3" r="3.3"/><circle cx="721" cy="196.1" r="3.3"/><circle cx="722.3" cy="202.6" r="3.3"/><circle cx="716" cy="216.2" r="3.3"/><circle cx="725.7" cy="265.1" r="2.5"/><circle cx="731.6" cy="250.7" r="3.1"/><circle cx="732.9" cy="243.2" r="3.3"/><circle cx="724.9" cy="263.5" r="2.6"/><circle cx="737" cy="254.7" r="2.9"/><circle cx="724.3" cy="274.8" r="2.2"/><circle cx="732.7" cy="262.3" r="2.6"/><circle cx="725.9" cy="251.9" r="3"/><circle cx="739.3" cy="252" r="3"/><circle cx="738.5" cy="259.8" r="2.7"/><circle cx="726.9" cy="252.1" r="3"/><circle cx="772.2" cy="256.7" r="2.8"/><circle cx="765.6" cy="237.6" r="3.3"/><circle cx="743" cy="245.3" r="3.3"/><circle cx="767.8" cy="249.1" r="3.1"/><circle cx="742.4" cy="264.8" r="2.5"/><circle cx="744.9" cy="243.6" r="3.3"/><circle cx="746.9" cy="243.4" r="3.3"/><circle cx="738.4" cy="267.5" r="2.4"/><circle cx="767.3" cy="258.3" r="2.8"/><circle cx="755.1" cy="261.2" r="2.7"/><circle cx="759.5" cy="242.7" r="3.3"/><circle cx="768.9" cy="259.4" r="2.7"/><circle cx="769" cy="255.2" r="2.9"/><circle cx="754.9" cy="244.9" r="3.3"/><circle cx="760.2" cy="240.7" r="3.3"/><circle cx="767.5" cy="249" r="3.1"/><circle cx="763.5" cy="221.4" r="3.3"/><circle cx="759.5" cy="240.5" r="3.3"/><circle cx="756.2" cy="255.3" r="2.9"/><circle cx="766.5" cy="233.9" r="3.3"/><circle cx="757.6" cy="241.4" r="3.3"/><circle cx="764.6" cy="233" r="3.3"/><circle cx="765.1" cy="242.5" r="3.3"/><circle cx="758.7" cy="240.9" r="3.3"/><circle cx="787.3" cy="245.1" r="3.3"/><circle cx="780.1" cy="225.9" r="3.3"/><circle cx="761.1" cy="252.5" r="3"/><circle cx="763.6" cy="247.7" r="3.2"/><circle cx="771.2" cy="227.4" r="3.3"/><circle cx="778.1" cy="218.9" r="3.3"/><circle cx="766.6" cy="243.1" r="3.3"/><circle cx="764.5" cy="249.6" r="3.1"/><circle cx="788.6" cy="252.7" r="3"/><circle cx="763.3" cy="245.6" r="3.3"/><circle cx="779.6" cy="221.2" r="3.3"/><circle cx="787.5" cy="250.3" r="3.1"/><circle cx="785" cy="238" r="3.3"/><circle cx="795.3" cy="276" r="2.1"/><circle cx="794.6" cy="275.5" r="2.1"/><circle cx="776.7" cy="284.4" r="1.8"/><circle cx="780.7" cy="256.9" r="2.8"/><circle cx="777" cy="276" r="2.1"/><circle cx="811.1" cy="237.9" r="3.3"/><circle cx="819" cy="237.8" r="3.3"/><circle cx="794.4" cy="240" r="3.3"/><circle cx="789.5" cy="242.7" r="3.3"/><circle cx="821.9" cy="240.5" r="3.3"/><circle cx="787.9" cy="260.7" r="2.7"/><circle cx="820.2" cy="239.6" r="3.3"/><circle cx="816.2" cy="240.4" r="3.3"/><circle cx="823" cy="230.8" r="3.3"/><circle cx="821.9" cy="224.3" r="3.3"/><circle cx="813.4" cy="239.6" r="3.3"/><circle cx="819.1" cy="235.5" r="3.3"/><circle cx="818.5" cy="221.2" r="3.3"/><circle cx="813.4" cy="241.6" r="3.3"/><circle cx="812.4" cy="246.8" r="3.2"/><circle cx="825.6" cy="237.3" r="3.3"/><circle cx="827.8" cy="226.1" r="3.3"/><circle cx="824.9" cy="240.5" r="3.3"/><circle cx="838" cy="230.9" r="3.3"/><circle cx="832.6" cy="233.3" r="3.3"/><circle cx="844.9" cy="249.1" r="3.1"/><circle cx="831.5" cy="236.7" r="3.3"/><circle cx="841.1" cy="238.4" r="3.3"/><circle cx="824" cy="241.7" r="3.3"/><circle cx="837.7" cy="215.6" r="3.3"/><circle cx="821.8" cy="240.9" r="3.3"/><circle cx="817.8" cy="253.5" r="3"/><circle cx="828.4" cy="220.3" r="3.3"/><circle cx="821.7" cy="245.7" r="3.3"/><circle cx="840" cy="231" r="3.3"/><circle cx="839.2" cy="226.9" r="3.3"/><circle cx="840.5" cy="225.3" r="3.3"/><circle cx="838.2" cy="230.7" r="3.3"/><circle cx="303.3" cy="224" r="3.3"/><circle cx="366.8" cy="233.2" r="3.3"/><circle cx="435.8" cy="259.7" r="2.7"/><circle cx="398" cy="253.3" r="3"/><circle cx="413.7" cy="260.2" r="2.7"/><circle cx="436.8" cy="277" r="2.1"/><circle cx="825.3" cy="249.5" r="3.1"/><circle cx="261.7" cy="256.6" r="2.8"/><circle cx="492.4" cy="266.4" r="2.5"/><circle cx="668.6" cy="240.1" r="3.3"/><circle cx="567.9" cy="246" r="3.3"/><circle cx="297.9" cy="210.8" r="3.3"/><circle cx="738.2" cy="254.9" r="2.9"/><circle cx="365" cy="254.5" r="2.9"/><circle cx="703.4" cy="253.4" r="3"/><circle cx="539.5" cy="255.8" r="2.9"/><circle cx="539.9" cy="251.3" r="3.1"/><circle cx="541.7" cy="269.5" r="2.4"/><circle cx="452.7" cy="246.7" r="3.2"/><circle cx="813.1" cy="271" r="2.3"/><circle cx="414.4" cy="247.7" r="3.2"/><circle cx="544" cy="220.8" r="3.3"/><circle cx="309.4" cy="261.7" r="2.7"/><circle cx="718.9" cy="262.6" r="2.6"/><circle cx="664.1" cy="248.1" r="3.2"/><circle cx="457.8" cy="286.9" r="1.7"/><circle cx="485.4" cy="282.5" r="1.9"/><circle cx="779.6" cy="225.8" r="3.3"/><circle cx="258.2" cy="250.6" r="3.1"/><circle cx="787.3" cy="238.2" r="3.3"/><circle cx="545.7" cy="290.1" r="1.6"/><circle cx="384.1" cy="222.7" r="3.3"/><circle cx="521.4" cy="241.1" r="3.3"/><circle cx="633.4" cy="263.1" r="2.6"/><circle cx="453.5" cy="261.7" r="2.7"/><circle cx="752.2" cy="243.7" r="3.3"/><circle cx="642.9" cy="256.2" r="2.9"/><circle cx="508" cy="269.5" r="2.4"/><circle cx="710.2" cy="266" r="2.5"/><circle cx="522.1" cy="261.2" r="2.7"/><circle cx="777.6" cy="254.4" r="2.9"/><circle cx="425.1" cy="240.6" r="3.3"/><circle cx="667.7" cy="248.1" r="3.2"/><circle cx="337.2" cy="266.6" r="2.5"/><circle cx="392.5" cy="268.4" r="2.4"/><circle cx="340.2" cy="230.8" r="3.3"/><circle cx="441.2" cy="232.3" r="3.3"/><circle cx="683.2" cy="197.6" r="3.3"/><circle cx="304.5" cy="245.2" r="3.3"/><circle cx="475.1" cy="258" r="2.8"/><circle cx="837.2" cy="245.1" r="3.3"/><circle cx="505.7" cy="275.7" r="2.1"/><circle cx="628.3" cy="243.3" r="3.3"/><circle cx="477.6" cy="245.8" r="3.3"/><circle cx="263.5" cy="288.2" r="1.6"/><circle cx="661.8" cy="231.4" r="3.3"/><circle cx="545.3" cy="272.7" r="2.2"/><circle cx="328.7" cy="274.4" r="2.2"/><circle cx="607.6" cy="286.7" r="1.7"/><circle cx="791.4" cy="234.2" r="3.3"/><circle cx="502.7" cy="289.6" r="1.6"/><circle cx="497.4" cy="272.6" r="2.2"/><circle cx="381.1" cy="263.7" r="2.6"/><circle cx="710.5" cy="244.4" r="3.3"/><circle cx="757.9" cy="269.6" r="2.4"/><circle cx="517.2" cy="285.2" r="1.8"/><circle cx="432.1" cy="262.7" r="2.6"/><circle cx="496.4" cy="263" r="2.6"/><circle cx="715.6" cy="262.9" r="2.6"/><circle cx="394" cy="287" r="1.7"/><circle cx="498.8" cy="286.2" r="1.7"/><circle cx="490.2" cy="246.6" r="3.2"/><circle cx="650.8" cy="242.3" r="3.3"/><circle cx="638.3" cy="261.7" r="2.7"/><circle cx="713" cy="275.9" r="2.1"/><circle cx="831.7" cy="238.4" r="3.3"/><circle cx="266" cy="268.6" r="2.4"/><circle cx="715.2" cy="259.2" r="2.7"/><circle cx="811.1" cy="266" r="2.5"/><circle cx="590" cy="256.8" r="2.8"/><circle cx="569.8" cy="261.1" r="2.7"/><circle cx="629.1" cy="282.4" r="1.9"/><circle cx="743.7" cy="278.9" r="2"/><circle cx="815.6" cy="258.7" r="2.8"/><circle cx="369.9" cy="264.7" r="2.5"/><circle cx="703.7" cy="276.5" r="2.1"/><circle cx="316.9" cy="234.1" r="3.3"/><circle cx="277.2" cy="257.6" r="2.8"/><circle cx="408.7" cy="258.5" r="2.8"/><circle cx="495.8" cy="253.3" r="3"/><circle cx="497" cy="262.3" r="2.6"/><circle cx="403.2" cy="275.8" r="2.1"/><circle cx="378.6" cy="258.4" r="2.8"/><circle cx="561.4" cy="274.3" r="2.2"/><circle cx="727.1" cy="267.8" r="2.4"/><circle cx="321.1" cy="245.6" r="3.3"/><circle cx="712.1" cy="243.6" r="3.3"/><circle cx="526.4" cy="285.8" r="1.7"/><circle cx="582.5" cy="246.6" r="3.2"/><circle cx="456.3" cy="197" r="3.3"/><circle cx="628.8" cy="237.8" r="3.3"/><circle cx="525.7" cy="269.6" r="2.4"/><circle cx="574.2" cy="224.8" r="3.3"/><circle cx="457.3" cy="224.7" r="3.3"/><circle cx="756.8" cy="257.9" r="2.8"/><circle cx="396.1" cy="233.3" r="3.3"/><circle cx="500.4" cy="254.8" r="2.9"/><circle cx="679" cy="253.9" r="2.9"/><circle cx="412.9" cy="254.9" r="2.9"/><circle cx="532.6" cy="236.1" r="3.3"/><circle cx="501.8" cy="277.4" r="2.1"/><circle cx="461.9" cy="281.1" r="1.9"/><circle cx="804" cy="250.7" r="3.1"/><circle cx="743.1" cy="261.7" r="2.7"/><circle cx="790.1" cy="252.8" r="3"/><circle cx="745.1" cy="267.8" r="2.4"/><circle cx="625.4" cy="252" r="3"/><circle cx="817.9" cy="255.2" r="2.9"/><circle cx="639.2" cy="255.5" r="2.9"/><circle cx="329.2" cy="244.9" r="3.3"/><circle cx="384.1" cy="252" r="3"/><circle cx="335.2" cy="276.4" r="2.1"/><circle cx="789.1" cy="251.9" r="3"/><circle cx="781.2" cy="268.9" r="2.4"/><circle cx="610.5" cy="248.8" r="3.1"/><circle cx="782.9" cy="288.9" r="1.6"/><circle cx="719" cy="247.4" r="3.2"/><circle cx="661.4" cy="268.4" r="2.4"/><circle cx="563.6" cy="256.8" r="2.8"/><circle cx="776.1" cy="280.1" r="2"/><circle cx="578.3" cy="257" r="2.8"/><circle cx="327.2" cy="238.8" r="3.3"/><circle cx="540.8" cy="231.5" r="3.3"/><circle cx="330.2" cy="246.3" r="3.2"/><circle cx="539.8" cy="284.1" r="1.8"/><circle cx="764.2" cy="255.2" r="2.9"/><circle cx="247" cy="241.6" r="3.3"/><circle cx="582.8" cy="277.2" r="2.1"/><circle cx="644.8" cy="243.5" r="3.3"/><circle cx="496" cy="274.2" r="2.2"/><circle cx="823.2" cy="226.4" r="3.3"/><circle cx="627.2" cy="240.6" r="3.3"/><circle cx="260.2" cy="282.3" r="1.9"/><circle cx="805.6" cy="277.6" r="2"/><circle cx="442.6" cy="228.2" r="3.3"/><circle cx="535.7" cy="258.6" r="2.8"/><circle cx="785.1" cy="219.8" r="3.3"/><circle cx="620.7" cy="247.8" r="3.2"/><circle cx="447.5" cy="241.4" r="3.3"/><circle cx="529.6" cy="272.2" r="2.3"/><circle cx="560.4" cy="253.5" r="3"/><circle cx="505.9" cy="271.2" r="2.3"/><circle cx="498.1" cy="269.7" r="2.3"/><circle cx="743" cy="269.8" r="2.3"/><circle cx="486.9" cy="273.8" r="2.2"/><circle cx="548.9" cy="255.9" r="2.9"/><circle cx="831.9" cy="278.5" r="2"/><circle cx="442.9" cy="289.1" r="1.6"/><circle cx="434.5" cy="264.8" r="2.5"/><circle cx="626.4" cy="226.4" r="3.3"/><circle cx="716.7" cy="219.9" r="3.3"/><circle cx="777.9" cy="246.3" r="3.2"/><circle cx="572.4" cy="237" r="3.3"/><circle cx="246.8" cy="249.5" r="3.1"/><circle cx="357.7" cy="227.8" r="3.3"/><circle cx="640.4" cy="270.4" r="2.3"/><circle cx="719.6" cy="228.9" r="3.3"/><circle cx="615.5" cy="272.4" r="2.2"/><circle cx="621.6" cy="265.7" r="2.5"/><circle cx="654.3" cy="284.7" r="1.8"/><circle cx="371.4" cy="268.2" r="2.4"/><circle cx="703.7" cy="277.5" r="2.1"/><circle cx="304.2" cy="252.9" r="3"/><circle cx="710.8" cy="249.8" r="3.1"/><circle cx="795.1" cy="267.8" r="2.4"/><circle cx="739.9" cy="273.8" r="2.2"/><circle cx="718.1" cy="271.9" r="2.3"/><circle cx="425.4" cy="262.2" r="2.6"/><circle cx="497.8" cy="265.7" r="2.5"/><circle cx="630.6" cy="233.4" r="3.3"/><circle cx="807.1" cy="227.5" r="3.3"/><circle cx="266.8" cy="245.5" r="3.3"/><circle cx="314.8" cy="244.4" r="3.3"/><circle cx="797.9" cy="283.4" r="1.8"/><circle cx="512.7" cy="232.9" r="3.3"/><circle cx="600.6" cy="253.5" r="3"/><circle cx="809.4" cy="229.6" r="3.3"/><circle cx="492.1" cy="258.6" r="2.8"/><circle cx="304.6" cy="265.3" r="2.5"/><circle cx="334.7" cy="268" r="2.4"/><circle cx="252.4" cy="220.7" r="3.3"/><circle cx="316.5" cy="254.5" r="2.9"/><circle cx="826.7" cy="216.1" r="3.3"/><circle cx="320.9" cy="231.1" r="3.3"/><circle cx="253.7" cy="258.8" r="2.8"/><circle cx="686.1" cy="272.3" r="2.3"/><circle cx="356.2" cy="217.9" r="3.3"/><circle cx="674" cy="243.2" r="3.3"/><circle cx="759.7" cy="256.7" r="2.8"/><circle cx="622.7" cy="265.1" r="2.5"/><circle cx="671.4" cy="272.1" r="2.3"/><circle cx="825.4" cy="242.4" r="3.3"/><circle cx="676.2" cy="251.6" r="3"/><circle cx="636" cy="255.2" r="2.9"/><circle cx="736.7" cy="238.1" r="3.3"/><circle cx="683.6" cy="246" r="3.3"/><circle cx="343.3" cy="238.5" r="3.3"/><circle cx="279.1" cy="275.8" r="2.1"/><circle cx="465" cy="277.5" r="2.1"/><circle cx="651.8" cy="266.7" r="2.5"/><circle cx="330.5" cy="249.1" r="3.1"/><circle cx="632.5" cy="276.3" r="2.1"/><circle cx="623.3" cy="275.2" r="2.1"/><circle cx="717.9" cy="244.3" r="3.3"/><circle cx="813.7" cy="249.1" r="3.1"/><circle cx="419.6" cy="284.5" r="1.8"/><circle cx="279.6" cy="220.2" r="3.3"/><circle cx="742.8" cy="261.3" r="2.7"/><circle cx="443.6" cy="236.3" r="3.3"/><circle cx="606.1" cy="268.7" r="2.4"/><circle cx="501.9" cy="238.5" r="3.3"/><circle cx="656.6" cy="269.9" r="2.3"/><circle cx="606.5" cy="222.4" r="3.3"/><circle cx="414.1" cy="280.8" r="1.9"/><circle cx="244" cy="257.5" r="2.8"/><circle cx="597.3" cy="231.5" r="3.3"/><circle cx="735.9" cy="250.4" r="3.1"/><circle cx="746.3" cy="259.9" r="2.7"/><circle cx="733.3" cy="235.4" r="3.3"/><circle cx="408.4" cy="277.6" r="2"/><circle cx="757.1" cy="243.3" r="3.3"/><circle cx="794.9" cy="288.2" r="1.6"/><circle cx="452.5" cy="230.4" r="3.3"/><circle cx="724.6" cy="240.7" r="3.3"/><circle cx="364.1" cy="255.4" r="2.9"/><circle cx="384.4" cy="250.2" r="3.1"/><circle cx="652.3" cy="270.7" r="2.3"/><circle cx="396.9" cy="252.1" r="3"/><circle cx="696.7" cy="248.9" r="3.1"/><circle cx="296" cy="280.1" r="2"/><circle cx="730.2" cy="253.2" r="3"/><circle cx="593.1" cy="272" r="2.3"/><circle cx="784.7" cy="234.6" r="3.3"/><circle cx="530.9" cy="273.9" r="2.2"/><circle cx="599" cy="249.9" r="3.1"/><circle cx="352.1" cy="241.6" r="3.3"/><circle cx="666.4" cy="274.8" r="2.2"/><circle cx="486.1" cy="233" r="3.3"/><circle cx="555.4" cy="251.4" r="3"/><circle cx="845.3" cy="249.9" r="3.1"/><circle cx="468.9" cy="230" r="3.3"/><circle cx="718.6" cy="235.4" r="3.3"/><circle cx="337.3" cy="272.8" r="2.2"/><circle cx="556.8" cy="267.6" r="2.4"/><circle cx="255.4" cy="234.1" r="3.3"/><circle cx="536.7" cy="240.8" r="3.3"/><circle cx="585.6" cy="258.4" r="2.8"/><circle cx="500.3" cy="215.7" r="3.3"/><circle cx="814.7" cy="250.9" r="3.1"/><circle cx="824.9" cy="272.1" r="2.3"/><circle cx="265.9" cy="251.1" r="3.1"/><circle cx="293.5" cy="241.7" r="3.3"/><circle cx="273.8" cy="259.4" r="2.7"/><circle cx="815.1" cy="271.9" r="2.3"/><circle cx="792.6" cy="227" r="3.3"/><circle cx="483" cy="243.3" r="3.3"/><circle cx="315.4" cy="238.4" r="3.3"/><circle cx="583.9" cy="260" r="2.7"/><circle cx="629.9" cy="222.6" r="3.3"/><circle cx="480.4" cy="264.7" r="2.5"/><circle cx="513.8" cy="223.5" r="3.3"/><circle cx="842" cy="205.2" r="3.3"/><circle cx="376.9" cy="238.4" r="3.3"/><circle cx="455.6" cy="251.3" r="3.1"/><circle cx="788.3" cy="219.4" r="3.3"/><circle cx="271.4" cy="280.2" r="1.9"/><circle cx="718" cy="263.8" r="2.6"/><circle cx="838.2" cy="287.5" r="1.7"/><circle cx="276.7" cy="231.9" r="3.3"/><circle cx="810.4" cy="225.1" r="3.3"/><circle cx="651.8" cy="264.8" r="2.5"/><circle cx="700.8" cy="226.2" r="3.3"/><circle cx="306.7" cy="263.4" r="2.6"/><circle cx="318" cy="239.7" r="3.3"/><circle cx="533.7" cy="247.2" r="3.2"/><circle cx="329.5" cy="240.7" r="3.3"/><circle cx="652.3" cy="219.1" r="3.3"/><circle cx="360.8" cy="252.6" r="3"/><circle cx="264.8" cy="240.9" r="3.3"/><circle cx="807.1" cy="262.6" r="2.6"/><circle cx="766.5" cy="245.9" r="3.3"/><circle cx="513.1" cy="263.6" r="2.6"/><circle cx="301.6" cy="215.7" r="3.3"/><circle cx="622.5" cy="274.6" r="2.2"/><circle cx="516.2" cy="278.3" r="2"/><circle cx="531.4" cy="219.4" r="3.3"/><circle cx="622.4" cy="245.4" r="3.3"/><circle cx="277.3" cy="242.8" r="3.3"/><circle cx="674.1" cy="267.6" r="2.4"/><circle cx="768.9" cy="259.7" r="2.7"/><circle cx="403.9" cy="206.3" r="3.3"/><circle cx="337" cy="210.6" r="3.3"/><circle cx="750.1" cy="208.7" r="3.3"/><circle cx="344.3" cy="203.8" r="3.3"/><circle cx="435.1" cy="191" r="3.3"/><circle cx="312" cy="188.7" r="3.3"/><circle cx="277.3" cy="191.3" r="3.3"/><circle cx="646.6" cy="212.5" r="3.3"/><circle cx="531.4" cy="210.2" r="3.3"/><circle cx="398.7" cy="212.8" r="3.3"/><circle cx="463" cy="188.3" r="3.3"/><circle cx="845.8" cy="190.3" r="3.3"/><circle cx="301.9" cy="210.1" r="3.3"/><circle cx="784.3" cy="217.3" r="3.3"/><circle cx="681.8" cy="209.9" r="3.3"/><circle cx="834.1" cy="218.6" r="3.3"/><circle cx="730.4" cy="208.5" r="3.3"/><circle cx="327.6" cy="219" r="3.3"/><circle cx="745.7" cy="202.7" r="3.3"/><circle cx="355.2" cy="205.5" r="3.3"/><circle cx="793.8" cy="212.3" r="3.3"/><circle cx="588.1" cy="214.8" r="3.3"/><circle cx="351.8" cy="195.1" r="3.3"/><circle cx="672.8" cy="212.9" r="3.3"/><circle cx="290.9" cy="216.3" r="3.3"/><circle cx="610.6" cy="203.7" r="3.3"/><circle cx="408.4" cy="212.7" r="3.3"/><circle cx="612.9" cy="197.1" r="3.3"/><circle cx="733.2" cy="200.9" r="3.3"/><circle cx="365.2" cy="217" r="3.3"/><circle cx="685.6" cy="206.4" r="3.3"/><circle cx="678.9" cy="217.3" r="3.3"/><circle cx="732.6" cy="208.6" r="3.3"/><circle cx="751.5" cy="192.2" r="3.3"/><circle cx="540.8" cy="218.6" r="3.3"/><circle cx="792.8" cy="204.3" r="3.3"/><circle cx="769.7" cy="210.8" r="3.3"/><circle cx="355.4" cy="193.2" r="3.3"/><circle cx="464.7" cy="214" r="3.3"/><circle cx="467.2" cy="200.6" r="3.3"/><circle cx="245.8" cy="271" r="2.3"/><circle cx="512.2" cy="271.1" r="2.3"/><circle cx="315.9" cy="263.6" r="2.6"/><circle cx="736.2" cy="257.9" r="2.8"/><circle cx="436.9" cy="263.7" r="2.6"/><circle cx="473.4" cy="262.2" r="2.6"/><circle cx="280" cy="257.6" r="2.8"/><circle cx="819.2" cy="271.9" r="2.3"/><circle cx="553" cy="270.5" r="2.3"/><circle cx="567.5" cy="289.8" r="1.6"/><circle cx="827.3" cy="282.1" r="1.9"/><circle cx="353.2" cy="286.7" r="1.7"/><circle cx="394.3" cy="259.7" r="2.7"/><circle cx="261.2" cy="287" r="1.7"/><circle cx="665.2" cy="283.2" r="1.8"/><circle cx="253.7" cy="267.9" r="2.4"/><circle cx="591.2" cy="270.8" r="2.3"/><circle cx="667.4" cy="286.7" r="1.7"/><circle cx="768.2" cy="263.5" r="2.6"/><circle cx="270.3" cy="285.9" r="1.7"/><circle cx="541.1" cy="271.7" r="2.3"/><circle cx="411.9" cy="286" r="1.7"/><circle cx="488" cy="285.4" r="1.7"/><circle cx="600.5" cy="258.1" r="2.8"/><circle cx="331.9" cy="268.9" r="2.4"/><circle cx="693.9" cy="284.4" r="1.8"/><circle cx="741.9" cy="255.2" r="2.9"/><circle cx="477.8" cy="274.7" r="2.2"/><circle cx="750.2" cy="270.7" r="2.3"/><circle cx="482" cy="255" r="2.9"/><circle cx="712.3" cy="277.8" r="2"/><circle cx="388.2" cy="277.9" r="2"/><circle cx="506.1" cy="253.5" r="3"/><circle cx="728.8" cy="256.1" r="2.9"/><circle cx="735.3" cy="258.6" r="2.8"/><circle cx="275.3" cy="271" r="2.3"/><circle cx="821.5" cy="255.3" r="2.9"/><circle cx="393.6" cy="274.6" r="2.2"/><circle cx="625.1" cy="276.8" r="2.1"/><circle cx="563.6" cy="288" r="1.7"/><circle cx="504.6" cy="271.5" r="2.3"/><circle cx="255.6" cy="285.3" r="1.8"/><circle cx="828.7" cy="261.2" r="2.7"/><circle cx="808.9" cy="266.7" r="2.5"/><circle cx="731.8" cy="257.2" r="2.8"/><circle cx="777.3" cy="289.3" r="1.6"/><circle cx="630.5" cy="280.6" r="1.9"/><circle cx="652.8" cy="280.3" r="1.9"/><circle cx="570.5" cy="255.7" r="2.9"/><circle cx="618.2" cy="281.1" r="1.9"/><circle cx="557.3" cy="274.2" r="2.2"/><circle cx="817.3" cy="279.7" r="2"/><circle cx="427.5" cy="266.1" r="2.5"/><circle cx="315.7" cy="268.1" r="2.4"/><circle cx="820.5" cy="271.2" r="2.3"/><circle cx="405.1" cy="273" r="2.2"/><circle cx="565.4" cy="285" r="1.8"/><circle cx="317.8" cy="285.6" r="1.7"/><circle cx="420.3" cy="275.2" r="2.1"/><circle cx="417.1" cy="281.4" r="1.9"/><circle cx="296.1" cy="269.9" r="2.3"/><circle cx="750.2" cy="267.5" r="2.4"/><circle cx="587.4" cy="266" r="2.5"/><circle cx="364.5" cy="263.7" r="2.6"/><circle cx="521.4" cy="269.9" r="2.3"/><circle cx="613.1" cy="272.9" r="2.2"/><circle cx="430.5" cy="281.4" r="1.9"/><circle cx="376.8" cy="271.2" r="2.3"/><circle cx="474.4" cy="268.5" r="2.4"/><circle cx="250.2" cy="277.3" r="2.1"/><circle cx="763.6" cy="281.6" r="1.9"/><circle cx="579.2" cy="272" r="2.3"/><circle cx="415" cy="253.3" r="3"/><circle cx="421.5" cy="261.4" r="2.7"/><circle cx="338.8" cy="288.1" r="1.6"/><circle cx="769.2" cy="274" r="2.2"/><circle cx="280.5" cy="275.9" r="2.1"/><circle cx="508.7" cy="262.8" r="2.6"/><circle cx="309" cy="282.1" r="1.9"/><circle cx="822.4" cy="262.7" r="2.6"/><circle cx="336.3" cy="277.9" r="2"/><circle cx="455.9" cy="265.1" r="2.5"/><circle cx="615.2" cy="258.5" r="2.8"/><circle cx="739" cy="271" r="2.3"/><circle cx="689.2" cy="262.5" r="2.6"/><circle cx="701.9" cy="272.6" r="2.2"/><circle cx="717.1" cy="263.8" r="2.6"/><circle cx="795.5" cy="285.8" r="1.7"/><circle cx="769" cy="290.4" r="1.6"/><circle cx="705.5" cy="268.5" r="2.4"/><circle cx="543.7" cy="254.2" r="2.9"/><circle cx="588.5" cy="274.8" r="2.2"/><circle cx="716.3" cy="257.6" r="2.8"/><circle cx="609.8" cy="276.3" r="2.1"/><circle cx="516.2" cy="273.3" r="2.2"/><circle cx="679.7" cy="279.5" r="2"/><circle cx="479" cy="269.6" r="2.4"/><circle cx="475.2" cy="278.4" r="2"/><circle cx="718.4" cy="258.5" r="2.8"/><circle cx="544.7" cy="273.8" r="2.2"/><circle cx="354.3" cy="279.1" r="2"/><circle cx="330.6" cy="268.8" r="2.4"/><circle cx="594.3" cy="287.3" r="1.7"/><circle cx="798.8" cy="278.4" r="2"/><circle cx="752.4" cy="258.9" r="2.8"/><circle cx="822.1" cy="282.9" r="1.8"/><circle cx="500.6" cy="256.2" r="2.9"/><circle cx="249.5" cy="288.8" r="1.6"/><circle cx="584.2" cy="271.8" r="2.3"/><circle cx="798.9" cy="261.4" r="2.7"/><circle cx="568.3" cy="252.9" r="3"/><circle cx="555.5" cy="271" r="2.3"/><circle cx="656.9" cy="275.9" r="2.1"/><circle cx="459.1" cy="268.1" r="2.4"/><circle cx="455.1" cy="254.8" r="2.9"/><circle cx="651.6" cy="270.7" r="2.3"/><circle cx="302.8" cy="276.4" r="2.1"/><circle cx="485.1" cy="269.4" r="2.4"/><circle cx="589.7" cy="257.3" r="2.8"/><circle cx="825.5" cy="272.2" r="2.3"/><circle cx="508.9" cy="267" r="2.5"/><circle cx="844.7" cy="277.6" r="2"/><circle cx="563.2" cy="259.8" r="2.7"/><circle cx="346.1" cy="278.6" r="2"/><circle cx="834" cy="259.4" r="2.7"/><circle cx="552.6" cy="286.4" r="1.7"/><circle cx="783.3" cy="264.5" r="2.5"/><circle cx="738.6" cy="253.2" r="3"/><circle cx="779.4" cy="274.7" r="2.2"/><circle cx="337.5" cy="279.6" r="2"/><circle cx="552" cy="271.5" r="2.3"/><circle cx="356.6" cy="283.7" r="1.8"/><circle cx="623.6" cy="267.8" r="2.4"/><circle cx="456.3" cy="253" r="3"/><circle cx="627.5" cy="289" r="1.6"/><circle cx="491.5" cy="260.8" r="2.7"/><circle cx="428.3" cy="264.5" r="2.5"/><circle cx="245.4" cy="279.1" r="2"/><circle cx="751.7" cy="268.4" r="2.4"/><circle cx="646.5" cy="283.2" r="1.8"/><circle cx="543.7" cy="269.7" r="2.3"/><circle cx="403.7" cy="266.2" r="2.5"/><circle cx="564" cy="252.9" r="3"/><circle cx="590" cy="275.1" r="2.1"/><circle cx="316.4" cy="284.7" r="1.8"/><circle cx="701.7" cy="286.6" r="1.7"/><circle cx="303.5" cy="284.2" r="1.8"/><circle cx="558.6" cy="259.5" r="2.7"/><circle cx="613.3" cy="260.1" r="2.7"/><circle cx="280.5" cy="290.1" r="1.6"/><circle cx="475" cy="138.3" r="3.3"/><circle cx="476" cy="167.5" r="3.3"/><circle cx="260.3" cy="167.5" r="3.3"/><circle cx="428.3" cy="176" r="3.3"/><circle cx="495.8" cy="177.6" r="3.3"/><circle cx="777.4" cy="174.3" r="3.3"/><circle cx="812.3" cy="170.3" r="3.3"/><circle cx="625" cy="182" r="3.3"/><circle cx="648.7" cy="182" r="3.3"/><circle cx="812" cy="183" r="3.3"/><circle cx="730" cy="187" r="3.3"/><circle cx="540" cy="190" r="3.3"/><circle cx="588" cy="191" r="3.3"/></g>
<g fill="#e67f27"><circle cx="250.3" cy="310.8" r="2.2"/><circle cx="248.5" cy="325.1" r="2.6"/><circle cx="257.4" cy="311.7" r="2.2"/><circle cx="277.1" cy="319.6" r="2.5"/><circle cx="261" cy="345.8" r="3.3"/><circle cx="284.8" cy="345.7" r="3.3"/><circle cx="268.3" cy="329.1" r="2.8"/><circle cx="286.2" cy="319.4" r="2.4"/><circle cx="294.2" cy="301.7" r="1.9"/><circle cx="288.3" cy="302.2" r="1.9"/><circle cx="306.1" cy="300.2" r="1.8"/><circle cx="306.3" cy="297" r="1.7"/><circle cx="315.7" cy="302.8" r="1.9"/><circle cx="309" cy="298.6" r="1.8"/><circle cx="306" cy="308.5" r="2.1"/><circle cx="314.2" cy="297.3" r="1.7"/><circle cx="335.8" cy="296" r="1.7"/><circle cx="323.8" cy="311.9" r="2.2"/><circle cx="338.7" cy="332.1" r="2.9"/><circle cx="339.7" cy="356.3" r="3.4"/><circle cx="349.2" cy="331.6" r="2.8"/><circle cx="338.3" cy="353.9" r="3.4"/><circle cx="335.7" cy="342.8" r="3.2"/><circle cx="374.6" cy="309.4" r="2.1"/><circle cx="367.7" cy="319.4" r="2.4"/><circle cx="370.2" cy="312.1" r="2.2"/><circle cx="370.9" cy="309.1" r="2.1"/><circle cx="369.8" cy="303.5" r="1.9"/><circle cx="385" cy="338.1" r="3.1"/><circle cx="396.1" cy="318.8" r="2.4"/><circle cx="381.9" cy="309.3" r="2.1"/><circle cx="407" cy="296" r="1.7"/><circle cx="405.7" cy="298.8" r="1.8"/><circle cx="396.3" cy="299.8" r="1.8"/><circle cx="394.9" cy="301.4" r="1.9"/><circle cx="397.1" cy="297.1" r="1.7"/><circle cx="406.8" cy="347.6" r="3.4"/><circle cx="408" cy="327.8" r="2.7"/><circle cx="415" cy="313.8" r="2.3"/><circle cx="416.5" cy="318.9" r="2.4"/><circle cx="404.6" cy="343.3" r="3.2"/><circle cx="417.7" cy="322.2" r="2.5"/><circle cx="423.7" cy="311.9" r="2.2"/><circle cx="424.3" cy="320.6" r="2.5"/><circle cx="426.7" cy="309.1" r="2.1"/><circle cx="426.5" cy="317.6" r="2.4"/><circle cx="422.8" cy="319.1" r="2.4"/><circle cx="424.9" cy="314.6" r="2.3"/><circle cx="422.9" cy="311.7" r="2.2"/><circle cx="434.9" cy="320.8" r="2.5"/><circle cx="437.1" cy="309.8" r="2.1"/><circle cx="446.3" cy="309.9" r="2.1"/><circle cx="445" cy="317.5" r="2.4"/><circle cx="450.1" cy="314.7" r="2.3"/><circle cx="469.7" cy="304.9" r="2"/><circle cx="475.2" cy="308.2" r="2.1"/><circle cx="485.3" cy="319.2" r="2.4"/><circle cx="490.7" cy="306.1" r="2"/><circle cx="487.1" cy="322.5" r="2.5"/><circle cx="492.6" cy="308.5" r="2.1"/><circle cx="500.3" cy="349.7" r="3.4"/><circle cx="509.7" cy="350.9" r="3.4"/><circle cx="519.4" cy="297.9" r="1.8"/><circle cx="524" cy="316.2" r="2.3"/><circle cx="520.8" cy="309.9" r="2.1"/><circle cx="515.8" cy="296" r="1.7"/><circle cx="537.3" cy="327.8" r="2.7"/><circle cx="539.6" cy="330.7" r="2.8"/><circle cx="538.9" cy="310.8" r="2.2"/><circle cx="545.5" cy="356.2" r="3.4"/><circle cx="549" cy="344.1" r="3.2"/><circle cx="553.4" cy="341.4" r="3.2"/><circle cx="547.7" cy="343.8" r="3.2"/><circle cx="541.9" cy="329" r="2.8"/><circle cx="570.3" cy="298.8" r="1.8"/><circle cx="559.9" cy="316.6" r="2.4"/><circle cx="557.4" cy="316" r="2.3"/><circle cx="563" cy="313.2" r="2.2"/><circle cx="584.6" cy="309.5" r="2.1"/><circle cx="589.4" cy="303.1" r="1.9"/><circle cx="582.5" cy="300.8" r="1.8"/><circle cx="575" cy="302.5" r="1.9"/><circle cx="624.4" cy="353.6" r="3.4"/><circle cx="598.6" cy="341.2" r="3.2"/><circle cx="614.1" cy="329.1" r="2.8"/><circle cx="610.5" cy="339.2" r="3.1"/><circle cx="605.4" cy="321.3" r="2.5"/><circle cx="602.3" cy="336.9" r="3"/><circle cx="609.6" cy="313.1" r="2.2"/><circle cx="634.5" cy="300.9" r="1.8"/><circle cx="640.4" cy="303.2" r="1.9"/><circle cx="626.2" cy="309" r="2.1"/><circle cx="633.9" cy="299.2" r="1.8"/><circle cx="633.1" cy="304.2" r="2"/><circle cx="636.6" cy="324.4" r="2.6"/><circle cx="652.5" cy="333.1" r="2.9"/><circle cx="649.4" cy="335.5" r="3"/><circle cx="649.6" cy="305.7" r="2"/><circle cx="651.8" cy="322.7" r="2.6"/><circle cx="674" cy="315.9" r="2.3"/><circle cx="654.6" cy="343.9" r="3.2"/><circle cx="681.2" cy="304.1" r="1.9"/><circle cx="680.3" cy="306.8" r="2"/><circle cx="683.2" cy="303.3" r="1.9"/><circle cx="683.5" cy="304.6" r="2"/><circle cx="677.3" cy="308.1" r="2.1"/><circle cx="686.5" cy="300.8" r="1.8"/><circle cx="683" cy="335.3" r="3"/><circle cx="684.6" cy="321.2" r="2.5"/><circle cx="698.2" cy="322.2" r="2.5"/><circle cx="682.9" cy="329.4" r="2.8"/><circle cx="684.5" cy="323.5" r="2.6"/><circle cx="688.6" cy="302.7" r="1.9"/><circle cx="706.1" cy="329.8" r="2.8"/><circle cx="708.9" cy="322" r="2.5"/><circle cx="706.5" cy="319.4" r="2.4"/><circle cx="722.8" cy="337.9" r="3"/><circle cx="709.1" cy="338.1" r="3.1"/><circle cx="713.9" cy="343.3" r="3.2"/><circle cx="730.1" cy="299.8" r="1.8"/><circle cx="728.3" cy="310.2" r="2.1"/><circle cx="727.2" cy="303.2" r="1.9"/><circle cx="726.4" cy="301" r="1.8"/><circle cx="728.2" cy="320.4" r="2.5"/><circle cx="731.2" cy="306.1" r="2"/><circle cx="725.5" cy="312.2" r="2.2"/><circle cx="735.8" cy="334.5" r="2.9"/><circle cx="757.4" cy="347.1" r="3.3"/><circle cx="753.3" cy="327.6" r="2.7"/><circle cx="760.3" cy="346.4" r="3.3"/><circle cx="754.7" cy="322.9" r="2.6"/><circle cx="749.7" cy="345.7" r="3.3"/><circle cx="745" cy="336.3" r="3"/><circle cx="765.2" cy="313.9" r="2.3"/><circle cx="763" cy="304.2" r="2"/><circle cx="757.4" cy="333.1" r="2.9"/><circle cx="766.6" cy="310.8" r="2.2"/><circle cx="760" cy="306.2" r="2"/><circle cx="769.2" cy="316.1" r="2.3"/><circle cx="772.7" cy="308.5" r="2.1"/><circle cx="780" cy="303.8" r="1.9"/><circle cx="778.3" cy="304" r="1.9"/><circle cx="773.1" cy="313.7" r="2.3"/><circle cx="766.9" cy="298.3" r="1.8"/><circle cx="770.2" cy="309.2" r="2.1"/><circle cx="789.8" cy="316.8" r="2.4"/><circle cx="788.8" cy="321.1" r="2.5"/><circle cx="793.4" cy="345.7" r="3.3"/><circle cx="779.7" cy="328.3" r="2.7"/><circle cx="794.8" cy="332.1" r="2.9"/><circle cx="782.7" cy="340.5" r="3.1"/><circle cx="789.8" cy="326.2" r="2.7"/><circle cx="799" cy="307.5" r="2.1"/><circle cx="792.3" cy="303.5" r="1.9"/><circle cx="814.4" cy="327" r="2.7"/><circle cx="806.3" cy="305.6" r="2"/><circle cx="818.8" cy="304.9" r="2"/><circle cx="820.1" cy="322.6" r="2.5"/><circle cx="812.7" cy="326.1" r="2.7"/><circle cx="837.6" cy="314.7" r="2.3"/><circle cx="830" cy="316.6" r="2.4"/><circle cx="829.5" cy="315.4" r="2.3"/><circle cx="840.5" cy="300.4" r="1.8"/><circle cx="835.8" cy="320.8" r="2.5"/><circle cx="830.9" cy="325.5" r="2.6"/><circle cx="835" cy="340.2" r="3.1"/><circle cx="844.3" cy="331.4" r="2.8"/><circle cx="352.6" cy="343.8" r="3.2"/><circle cx="799.8" cy="306.5" r="2"/><circle cx="263.5" cy="346.4" r="3.3"/><circle cx="391.8" cy="359.7" r="3.4"/><circle cx="545.9" cy="337.2" r="3"/><circle cx="452.9" cy="347.9" r="3.4"/><circle cx="522.5" cy="317" r="2.4"/><circle cx="789" cy="303" r="1.9"/><circle cx="686.8" cy="300.2" r="1.8"/><circle cx="633.9" cy="322" r="2.5"/><circle cx="765.3" cy="299.9" r="1.8"/><circle cx="585.1" cy="322.6" r="2.5"/><circle cx="798.4" cy="357.2" r="3.4"/><circle cx="622.9" cy="310.5" r="2.2"/><circle cx="397.4" cy="313" r="2.2"/><circle cx="506.7" cy="311" r="2.2"/><circle cx="368.1" cy="345.2" r="3.3"/><circle cx="632.3" cy="315.3" r="2.3"/><circle cx="843.6" cy="310" r="2.1"/><circle cx="588.3" cy="306.2" r="2"/><circle cx="764.7" cy="352.3" r="3.4"/><circle cx="406.6" cy="344.7" r="3.3"/><circle cx="740.5" cy="314.3" r="2.3"/><circle cx="445.2" cy="327.5" r="2.7"/><circle cx="781.5" cy="306.5" r="2"/><circle cx="656.3" cy="334.7" r="2.9"/><circle cx="518.3" cy="333.5" r="2.9"/><circle cx="776.6" cy="309.6" r="2.1"/><circle cx="777" cy="319.4" r="2.4"/><circle cx="714.7" cy="351.9" r="3.4"/><circle cx="355.6" cy="352" r="3.4"/><circle cx="843.9" cy="315.3" r="2.3"/><circle cx="260.7" cy="303.2" r="1.9"/><circle cx="831.6" cy="296.6" r="1.7"/><circle cx="793.9" cy="305.8" r="2"/><circle cx="688.3" cy="302.3" r="1.9"/><circle cx="347.4" cy="340.2" r="3.1"/><circle cx="300.2" cy="318" r="2.4"/><circle cx="798" cy="342.4" r="3.2"/><circle cx="776.1" cy="359.5" r="3.4"/><circle cx="265.8" cy="311.2" r="2.2"/><circle cx="722.1" cy="340.7" r="3.1"/><circle cx="268.8" cy="328.7" r="2.7"/><circle cx="385.2" cy="323.9" r="2.6"/><circle cx="309" cy="297.3" r="1.7"/><circle cx="841.5" cy="316.5" r="2.4"/><circle cx="774" cy="303.8" r="1.9"/><circle cx="538.9" cy="304.8" r="2"/><circle cx="503.5" cy="307.6" r="2.1"/><circle cx="657.9" cy="305.6" r="2"/><circle cx="690.7" cy="364.2" r="3.4"/><circle cx="317.1" cy="360.8" r="3.4"/><circle cx="546.3" cy="373.8" r="3.4"/><circle cx="458.6" cy="357.6" r="3.4"/><circle cx="827.6" cy="373" r="3.4"/><circle cx="686.6" cy="359" r="3.4"/><circle cx="355.8" cy="358.8" r="3.4"/><circle cx="291.1" cy="353.7" r="3.4"/><circle cx="553.7" cy="362.1" r="3.4"/><circle cx="582.3" cy="361" r="3.4"/><circle cx="256.3" cy="368.5" r="3.4"/><circle cx="639.9" cy="365.2" r="3.4"/><circle cx="577.6" cy="368.5" r="3.4"/><circle cx="836.5" cy="372.8" r="3.4"/><circle cx="678.5" cy="361.9" r="3.4"/><circle cx="440" cy="362.3" r="3.4"/><circle cx="830.8" cy="361.6" r="3.4"/><circle cx="480.1" cy="362.1" r="3.4"/><circle cx="335.4" cy="375.6" r="3.4"/><circle cx="253.1" cy="366.6" r="3.4"/><circle cx="803" cy="358.5" r="3.4"/><circle cx="614.7" cy="361.4" r="3.4"/><circle cx="393.7" cy="357.3" r="3.4"/><circle cx="319.4" cy="372" r="3.4"/><circle cx="717.2" cy="308.2" r="2.1"/><circle cx="275.8" cy="305.2" r="2"/><circle cx="440.9" cy="304.5" r="2"/><circle cx="575.9" cy="299.8" r="1.8"/><circle cx="829.9" cy="295.3" r="1.7"/><circle cx="694.5" cy="307.4" r="2.1"/><circle cx="552.6" cy="303.7" r="1.9"/><circle cx="843.8" cy="298.6" r="1.8"/><circle cx="624.3" cy="305.9" r="2"/><circle cx="473.7" cy="305.4" r="2"/><circle cx="482.5" cy="302.8" r="1.9"/><circle cx="614.3" cy="304.9" r="2"/><circle cx="439.6" cy="304.2" r="2"/><circle cx="572.4" cy="298.5" r="1.8"/><circle cx="614.1" cy="299.1" r="1.8"/><circle cx="792.2" cy="302" r="1.9"/><circle cx="679.7" cy="302.7" r="1.9"/><circle cx="532.4" cy="298.5" r="1.8"/><circle cx="331.4" cy="308.5" r="2.1"/><circle cx="563.8" cy="302.8" r="1.9"/><circle cx="563" cy="306.9" r="2"/><circle cx="389.4" cy="297.8" r="1.7"/><circle cx="740" cy="301.8" r="1.9"/><circle cx="631" cy="307.1" r="2"/><circle cx="783.3" cy="307.6" r="2.1"/><circle cx="272" cy="300.7" r="1.8"/><circle cx="746.1" cy="306.9" r="2"/><circle cx="319.9" cy="297.5" r="1.7"/><circle cx="397.1" cy="296.8" r="1.7"/><circle cx="460.3" cy="306.7" r="2"/><circle cx="559.3" cy="301.7" r="1.9"/><circle cx="298.9" cy="300.9" r="1.8"/><circle cx="845.2" cy="305.2" r="2"/><circle cx="516" cy="302.1" r="1.9"/><circle cx="725.8" cy="306.1" r="2"/><circle cx="257.4" cy="441.3" r="3.4"/><circle cx="269.8" cy="475" r="3.4"/><circle cx="271.5" cy="497" r="3.4"/><circle cx="274.6" cy="497" r="3.4"/><circle cx="517.7" cy="432.3" r="3.4"/><circle cx="548" cy="436.8" r="3.4"/><circle cx="545.8" cy="399" r="3.4"/><circle cx="577.9" cy="391.8" r="3.4"/><circle cx="665" cy="398" r="3.4"/><circle cx="787.5" cy="432.3" r="3.4"/><circle cx="826.9" cy="383.4" r="3.4"/><circle cx="369.3" cy="377.7" r="3.4"/><circle cx="284" cy="379" r="3.4"/><circle cx="286" cy="373" r="3.4"/></g>
<g fill="#f40d0d"><path d="M221 180.1L224 185.5L218 185.5Z"/><path d="M220.1 184.8L223.1 190.2L217.1 190.2Z"/><path d="M221 188.4L224 193.8L218 193.8Z"/><path d="M223.8 193.1L226.8 198.5L220.8 198.5Z"/><path d="M229.3 194.9L232.3 200.3L226.3 200.3Z"/><path d="M232.1 196.8L235.1 202.2L229.1 202.2Z"/><path d="M223.8 198.6L226.8 204L220.8 204Z"/><path d="M227.5 201.4L230.5 206.8L224.5 206.8Z"/><path d="M231.2 203.2L234.2 208.6L228.2 208.6Z"/><path d="M216.8 215.2L219.8 220.6L213.8 220.6Z"/><path d="M226.5 215.2L229.5 220.6L223.5 220.6Z"/><path d="M215.5 220.8L218.5 226.2L212.5 226.2Z"/><path d="M225.6 218.9L228.6 224.3L222.6 224.3Z"/><path d="M227.5 224.5L230.5 229.9L224.5 229.9Z"/><path d="M216.4 229.1L219.4 234.5L213.4 234.5Z"/><path d="M232.1 230.9L235.1 236.3L229.1 236.3Z"/><path d="M227.5 235.6L230.5 241L224.5 241Z"/><path d="M214.5 238.3L217.5 243.7L211.5 243.7Z"/><path d="M221.9 238.3L224.9 243.7L218.9 243.7Z"/><path d="M231.2 237.4L234.2 242.8L228.2 242.8Z"/><path d="M218.2 244.8L221.2 250.2L215.2 250.2Z"/><path d="M225.6 242.9L228.6 248.3L222.6 248.3Z"/><path d="M216.4 250.3L219.4 255.7L213.4 255.7Z"/><path d="M220.1 246.6L223.1 252L217.1 252Z"/><path d="M223 318.5L224.8 322L221.2 322Z"/></g>
<g fill="#f9a510"><rect x="231.1" y="182.1" width="7.5" height="6.5"/><rect x="229.9" y="209.9" width="10" height="7.5"/><rect x="232.1" y="224.6" width="11" height="7.5"/><rect x="232" y="232.3" width="7.5" height="7"/><rect x="231.5" y="245.1" width="8.5" height="6.5"/><rect x="236.3" y="260.6" width="4.6" height="4.6"/><rect x="236.3" y="270.9" width="5.6" height="5.6"/></g>
<line x1="184" y1="225.8" x2="877" y2="225.8" stroke="#000" stroke-width="2" stroke-dasharray="19.4 14.3"/>
<line x1="184" y1="360.8" x2="877" y2="360.8" stroke="#000" stroke-width="2" stroke-dasharray="19.4 14.3"/>
<line x1="184" y1="119.5" x2="184" y2="515.5" stroke="#000" stroke-width="2"/>
<line x1="171.5" y1="158.3" x2="184" y2="158.3" stroke="#000" stroke-width="2"/>
<text x="159" y="165.9" font-size="21" text-anchor="end">0.10</text>
<line x1="171.5" y1="225.8" x2="184" y2="225.8" stroke="#000" stroke-width="2"/>
<text x="159" y="233.4" font-size="21" text-anchor="end">0.05</text>
<line x1="171.5" y1="293.3" x2="184" y2="293.3" stroke="#000" stroke-width="2"/>
<text x="159" y="300.9" font-size="21" text-anchor="end">0</text>
<line x1="171.5" y1="360.8" x2="184" y2="360.8" stroke="#000" stroke-width="2"/>
<text x="159" y="368.4" font-size="21" text-anchor="end">-0.05</text>
<line x1="171.5" y1="428.3" x2="184" y2="428.3" stroke="#000" stroke-width="2"/>
<text x="159" y="435.9" font-size="21" text-anchor="end">-0.10</text>
<text transform="translate(90.5 317.5) rotate(-90)" font-size="24.5" text-anchor="middle" textLength="287" lengthAdjust="spacingAndGlyphs">ssGSEA scores difference</text>
<text x="215.5" y="158.7" font-size="21" textLength="114.5" lengthAdjust="spacingAndGlyphs">Lipid related</text>
<text x="250.6" y="198.5" font-size="21">Neuron related</text>
<text x="902.5" y="225" font-size="21" textLength="113.2" lengthAdjust="spacingAndGlyphs">-Log<tspan font-size="12" dy="6.5">10</tspan><tspan dy="-6.5">(FDR)</tspan></text>
<circle cx="926.6" cy="249.8" r="4.1" fill="#333"/>
<text x="965" y="255" font-size="21">0.6</text>
<circle cx="926.6" cy="279.9" r="4.5" fill="#333"/>
<text x="965" y="285.1" font-size="21">1.2</text>
<circle cx="926.6" cy="310" r="4.8" fill="#333"/>
<text x="965" y="315.2" font-size="21">1.8</text>
<circle cx="926.6" cy="340.1" r="5.1" fill="#333"/>
<text x="965" y="345.3" font-size="21">2.4</text>
<circle cx="926.6" cy="370.2" r="5.4" fill="#333"/>
<text x="965" y="375.4" font-size="21">3.0</text>
</g>
<g id="panelB">
<text x="1069.5" y="37" font-size="43">B</text>
<rect x="1582.5" y="59" width="199.5" height="47.4" fill="#366f99"/>
<line x1="1570" y1="82.7" x2="1582.5" y2="82.7" stroke="#000" stroke-width="2"/>
<text x="1556.5" y="90.1" font-size="21.2" text-anchor="end" textLength="439" lengthAdjust="spacingAndGlyphs">Triglyceride rich lipoprotein particle remodeling</text>
<rect x="1582.5" y="138" width="199.5" height="47.4" fill="#366f99"/>
<line x1="1570" y1="161.7" x2="1582.5" y2="161.7" stroke="#000" stroke-width="2"/>
<text x="1556.5" y="169.1" font-size="21.2" text-anchor="end">Reverse cholesterol transport</text>
<rect x="1582.5" y="216.5" width="199.5" height="47.4" fill="#366f99"/>
<line x1="1570" y1="240.2" x2="1582.5" y2="240.2" stroke="#000" stroke-width="2"/>
<text x="1556.5" y="247.6" font-size="21.2" text-anchor="end">Lipoprotein lipase activity</text>
<rect x="1582.5" y="295.2" width="198.9" height="47.4" fill="#366f99"/>
<line x1="1570" y1="318.9" x2="1582.5" y2="318.9" stroke="#000" stroke-width="2"/>
<text x="1556.5" y="326.3" font-size="21.2" text-anchor="end">Lipoprotein particle clearance</text>
<rect x="1582.5" y="374" width="196" height="47.4" fill="#366f99"/>
<line x1="1570" y1="397.7" x2="1582.5" y2="397.7" stroke="#000" stroke-width="2"/>
<text x="1556.5" y="405.1" font-size="21.2" text-anchor="end">Plasma lipoprotein assembly</text>
<line x1="1582.5" y1="42.5" x2="1582.5" y2="438.5" stroke="#000" stroke-width="2"/>
<line x1="1581.5" y1="437.5" x2="1821" y2="437.5" stroke="#000" stroke-width="2"/>
<line x1="1582.5" y1="437.5" x2="1582.5" y2="450.3" stroke="#000" stroke-width="2"/>
<text x="1582.5" y="477" font-size="21" text-anchor="middle">0</text>
<line x1="1701.2" y1="437.5" x2="1701.2" y2="450.3" stroke="#000" stroke-width="2"/>
<text x="1701.2" y="477" font-size="21" text-anchor="middle">2</text>
<line x1="1820" y1="437.5" x2="1820" y2="450.3" stroke="#000" stroke-width="2"/>
<text x="1820" y="477" font-size="21" text-anchor="middle">4</text>
<text x="1632.5" y="513.8" font-size="24.5" textLength="137" lengthAdjust="spacingAndGlyphs">-Log<tspan font-size="16.5" dy="7">10</tspan><tspan dy="-7">(FDR)</tspan></text>
<text transform="translate(1098 240) rotate(-90)" font-size="24.5" text-anchor="middle" textLength="134" lengthAdjust="spacingAndGlyphs">Lipid related</text>
</g>
<g id="panelC">
<text x="0" y="594.4" font-size="43">C</text>
<path d="M177 816.3C177.3 818.3 177.8 824.3 179.1 828.2C180.4 832.1 182.2 835.8 184.8 839.6C187.4 843.4 191.1 847.3 194.4 851.1C197.7 854.9 201.6 858.7 204.8 862.5C208 866.4 211.1 870.2 213.5 874C215.9 877.8 217.8 881.6 219.2 885.4C220.6 889.3 221.4 893.1 221.7 896.9C222.1 900.7 221.7 904.5 221.3 908.3C220.9 912.2 219.9 916 219.5 919.8C219.1 923.6 218.2 927.4 218.8 931.2C219.4 935.1 221.3 938.9 223 942.7C224.7 946.5 227.1 950.3 229 954.2C230.9 958 233.1 961.8 234.3 965.6C235.5 969.4 236.4 973.2 236.3 977.1C236.2 980.9 235.2 984.7 233.5 988.5C231.8 992.3 228.7 996.1 225.8 1000C223 1003.8 219.7 1007.6 216.4 1011.4C213.1 1015.2 209.2 1019.1 205.8 1022.9C202.5 1026.7 199.2 1030.5 196.3 1034.3C193.5 1038.1 190.9 1042 188.7 1045.8C186.5 1049.6 184.7 1053.4 183.3 1057.2C181.9 1061 181 1064.9 180.1 1068.7C179.3 1072.5 178.7 1076.6 178.2 1080.1C177.7 1083.6 177.2 1088.1 177 1089.7L174.6 1089.7C174.4 1088.1 173.9 1083.6 173.4 1080.1C172.9 1076.6 172.3 1072.5 171.5 1068.7C170.7 1064.9 169.7 1061 168.3 1057.2C166.9 1053.4 165.1 1049.6 162.9 1045.8C160.7 1042 158.2 1038.1 155.3 1034.3C152.5 1030.5 149.2 1026.7 145.8 1022.9C142.5 1019.1 138.5 1015.2 135.2 1011.4C131.9 1007.6 128.7 1003.8 125.8 1000C123 996.1 119.9 992.3 118.1 988.5C116.4 984.7 115.4 980.9 115.3 977.1C115.2 973.2 116.1 969.4 117.3 965.6C118.5 961.8 120.7 958 122.6 954.2C124.5 950.3 126.9 946.5 128.6 942.7C130.3 938.9 132.2 935.1 132.8 931.2C133.4 927.4 132.5 923.6 132.1 919.8C131.7 916 130.7 912.2 130.3 908.3C129.9 904.5 129.6 900.7 129.9 896.9C130.2 893.1 131 889.3 132.4 885.4C133.8 881.6 135.7 877.8 138.1 874C140.5 870.2 143.6 866.4 146.8 862.5C150 858.7 153.9 854.9 157.2 851.1C160.5 847.3 164.2 843.4 166.8 839.6C169.4 835.8 171.2 832.1 172.5 828.2C173.8 824.3 174.3 818.3 174.6 816.3Z" fill="#c2d5e3" stroke="#c4c4c4" stroke-width="1.6" stroke-linejoin="round"/>
<path d="M328.8 941.7C329.3 942.9 329.2 946 332 948.4C334.8 950.8 340.6 953.5 345.4 956.1C350.2 958.6 355.8 961.2 360.6 963.7C365.4 966.2 370.3 968.8 374 971.3C377.7 973.9 380.8 976.4 382.8 979C384.9 981.5 385.8 984.1 386.3 986.6C386.8 989.1 386.5 991.7 385.6 994.2C384.7 996.8 382.6 999.3 380.7 1001.9C378.8 1004.4 376.4 1006.6 374.2 1009.5C372 1012.4 368.8 1015.9 367.3 1019.1C365.8 1022.2 365.7 1025.4 365.1 1028.6C364.6 1031.8 364.9 1035.3 364 1038.1C363.1 1041 361.7 1043.2 359.7 1045.8C357.7 1048.3 354.9 1050.9 352 1053.4C349.1 1056 345.5 1058.5 342.5 1061C339.5 1063.6 336.1 1066.3 333.9 1068.7C331.7 1071.1 330.1 1074.2 329.3 1075.4L322.3 1075.4C321.5 1074.2 319.9 1071.1 317.7 1068.7C315.5 1066.3 312.1 1063.6 309.1 1061C306.1 1058.5 302.5 1056 299.6 1053.4C296.7 1050.9 293.9 1048.3 291.9 1045.8C289.9 1043.2 288.5 1041 287.6 1038.1C286.7 1035.3 287.1 1031.8 286.5 1028.6C285.9 1025.4 285.8 1022.2 284.3 1019.1C282.8 1015.9 279.6 1012.4 277.4 1009.5C275.2 1006.6 272.8 1004.4 270.9 1001.9C269 999.3 266.9 996.8 266 994.2C265.1 991.7 264.8 989.1 265.3 986.6C265.8 984.1 266.8 981.5 268.8 979C270.9 976.4 273.9 973.9 277.6 971.3C281.3 968.8 286.2 966.2 291 963.7C295.8 961.2 301.4 958.6 306.2 956.1C311 953.5 316.8 950.8 319.6 948.4C322.4 946 322.3 942.9 322.8 941.7Z" fill="#f5d9c3" stroke="#c4c4c4" stroke-width="1.6" stroke-linejoin="round"/>
<line x1="130.5" y1="907.3" x2="220.5" y2="907.3" stroke="#2e2e2e" stroke-width="2" stroke-dasharray="1.7 1.25"/>
<line x1="121.6" y1="960.3" x2="229.4" y2="960.3" stroke="#2e2e2e" stroke-width="2" stroke-dasharray="3.8 2.4"/>
<line x1="118.5" y1="990" x2="232.5" y2="990" stroke="#2e2e2e" stroke-width="2" stroke-dasharray="1.7 1.25"/>
<line x1="268.8" y1="982" x2="382.7" y2="982" stroke="#2e2e2e" stroke-width="2" stroke-dasharray="1.7 1.25"/>
<line x1="271" y1="1000" x2="380" y2="1000" stroke="#2e2e2e" stroke-width="2" stroke-dasharray="3.8 2.4"/>
<line x1="286.3" y1="1027.4" x2="365.5" y2="1027.4" stroke="#2e2e2e" stroke-width="2" stroke-dasharray="1.7 1.25"/>
<g fill="#2a72a8" fill-opacity="0.8"><circle cx="178.3" cy="859.7" r="10"/><circle cx="187.8" cy="863.5" r="10"/><circle cx="169.7" cy="870.2" r="10"/><circle cx="184" cy="874" r="10"/><circle cx="161.1" cy="882.6" r="10"/><circle cx="184" cy="885.4" r="10"/><circle cx="163.9" cy="889.3" r="10"/><circle cx="184.9" cy="893.1" r="10"/><circle cx="189.7" cy="900.7" r="10"/><circle cx="160.1" cy="904.5" r="10"/><circle cx="184" cy="906.4" r="10"/><circle cx="163.9" cy="912.2" r="10"/><circle cx="184.9" cy="916.9" r="10"/><circle cx="162" cy="921.7" r="10"/><circle cx="184.9" cy="923.6" r="10"/><circle cx="162" cy="938.9" r="10"/><circle cx="187.8" cy="936" r="10"/><circle cx="187.8" cy="941.7" r="10"/><circle cx="172.5" cy="948.4" r="10"/><circle cx="161.1" cy="956.1" r="10"/><circle cx="189.7" cy="958" r="10"/><circle cx="164.9" cy="963.7" r="10"/><circle cx="182.1" cy="961.8" r="10"/><circle cx="189.7" cy="962.7" r="10"/><circle cx="172.5" cy="969.4" r="10"/><circle cx="184" cy="971.3" r="10"/><circle cx="161.1" cy="980.9" r="10"/><circle cx="176.4" cy="979" r="10"/><circle cx="186.8" cy="980.9" r="10"/><circle cx="166.8" cy="988.5" r="10"/><circle cx="182.1" cy="990.4" r="10"/><circle cx="161.1" cy="1000" r="10"/><circle cx="176.4" cy="998.1" r="10"/><circle cx="184" cy="1000" r="10"/><circle cx="168.7" cy="1007.6" r="10"/><circle cx="182.1" cy="1011.4" r="10"/><circle cx="166.8" cy="1011.4" r="10"/><circle cx="163" cy="1023.8" r="10"/><circle cx="180.2" cy="1038.1" r="10"/><circle cx="186.3" cy="1045.4" r="10"/><circle cx="176.4" cy="877.8" r="10"/><circle cx="174.4" cy="896.9" r="10"/><circle cx="172.5" cy="906.4" r="10"/><circle cx="176.4" cy="984.7" r="10"/><circle cx="175.4" cy="1005.7" r="10"/><circle cx="179" cy="858.6" r="10"/><circle cx="175.6" cy="876.8" r="10"/><circle cx="160.1" cy="886.7" r="10"/><circle cx="189.7" cy="885.2" r="10"/><circle cx="187.3" cy="896.2" r="10"/><circle cx="189.7" cy="902.1" r="10"/><circle cx="164.6" cy="905.3" r="10"/><circle cx="175.9" cy="909.5" r="10"/><circle cx="167.7" cy="915.3" r="10"/><circle cx="189.7" cy="923.1" r="10"/><circle cx="181.5" cy="939.4" r="10"/><circle cx="163.3" cy="954.4" r="10"/><circle cx="187.8" cy="956.7" r="10"/><circle cx="166.3" cy="967.1" r="10"/><circle cx="182.5" cy="982.9" r="10"/><circle cx="170.5" cy="986.1" r="10"/><circle cx="160.1" cy="996.3" r="10"/><circle cx="173.9" cy="1006.8" r="10"/><circle cx="178.5" cy="1013.7" r="10"/><circle cx="165" cy="1020" r="10"/><circle cx="189.7" cy="1049.4" r="10"/><circle cx="184.9" cy="876.2" r="10"/><circle cx="176.2" cy="893" r="10"/><circle cx="171" cy="907.4" r="10"/><circle cx="168.5" cy="987.8" r="10"/><circle cx="183.3" cy="1009" r="10"/></g>
<g fill="#e8812d" fill-opacity="0.8"><circle cx="325.2" cy="971.3" r="10"/><circle cx="339.5" cy="980.9" r="10"/><circle cx="321.4" cy="979.9" r="10"/><circle cx="326.2" cy="988.5" r="10"/><circle cx="319.5" cy="1000" r="10"/><circle cx="334.8" cy="1008.6" r="10"/><circle cx="315.7" cy="1016.2" r="10"/><circle cx="338.6" cy="1016.2" r="10"/><circle cx="325.2" cy="1036.2" r="10"/><circle cx="311.9" cy="1045.4" r="10"/><circle cx="327.1" cy="1044.8" r="10"/><circle cx="322.4" cy="1042" r="10"/></g>
<line x1="102.2" y1="757.5" x2="102.2" y2="1103.5" stroke="#000" stroke-width="2"/>
<line x1="101.2" y1="1102.5" x2="399.6" y2="1102.5" stroke="#000" stroke-width="2"/>
<line x1="89.7" y1="786.3" x2="102.2" y2="786.3" stroke="#000" stroke-width="2"/>
<text x="75" y="793.3" font-size="21" text-anchor="end">23</text>
<line x1="89.7" y1="846.2" x2="102.2" y2="846.2" stroke="#000" stroke-width="2"/>
<text x="75" y="853.2" font-size="21" text-anchor="end">22</text>
<line x1="89.7" y1="906" x2="102.2" y2="906" stroke="#000" stroke-width="2"/>
<text x="75" y="913" font-size="21" text-anchor="end">21</text>
<line x1="89.7" y1="965.8" x2="102.2" y2="965.8" stroke="#000" stroke-width="2"/>
<text x="75" y="972.8" font-size="21" text-anchor="end">20</text>
<line x1="89.7" y1="1025.6" x2="102.2" y2="1025.6" stroke="#000" stroke-width="2"/>
<text x="75" y="1032.6" font-size="21" text-anchor="end">19</text>
<line x1="89.7" y1="1085.4" x2="102.2" y2="1085.4" stroke="#000" stroke-width="2"/>
<text x="75" y="1092.4" font-size="21" text-anchor="end">18</text>
<line x1="175.5" y1="1102.5" x2="175.5" y2="1115" stroke="#000" stroke-width="2"/>
<text x="175.5" y="1142.6" font-size="21" text-anchor="middle">DNP</text>
<line x1="325.7" y1="1102.5" x2="325.7" y2="1115" stroke="#000" stroke-width="2"/>
<text x="325.7" y="1142.6" font-size="21" text-anchor="middle">DP</text>
<text x="165.3" y="1178.5" font-size="24.5" textLength="171" lengthAdjust="spacingAndGlyphs">Response state</text>
<text transform="translate(32.3 930) rotate(-90)" font-size="24.5" text-anchor="middle" textLength="208" lengthAdjust="spacingAndGlyphs">Portein Abundance</text>
<text x="250" y="736.4" font-size="28" text-anchor="middle" textLength="96" lengthAdjust="spacingAndGlyphs">APOC3</text>
<text x="132.4" y="786.3" font-size="21" textLength="235.6" lengthAdjust="spacingAndGlyphs">ttest p-value = 2.000e-04</text>
<line x1="175" y1="800.5" x2="326.4" y2="800.5" stroke="#3a3a3a" stroke-width="1.8"/>
<path d="M180.5 1391.4C180.8 1393.2 180.9 1398.7 182.6 1402.4C184.3 1406.2 186.8 1410.1 190.5 1413.9C194.2 1417.7 199.8 1421.5 204.6 1425.4C209.3 1429.2 214.8 1433 219 1436.8C223.2 1440.6 227.1 1444.4 229.6 1448.3C232.1 1452.1 233.5 1455.9 234.2 1459.7C234.9 1463.5 234.1 1467.3 233.6 1471.2C233.1 1475 232 1478.8 231.3 1482.6C230.6 1486.4 229.6 1490.3 229.6 1494.1C229.6 1497.9 230.5 1501.7 231.5 1505.5C232.5 1509.3 234.4 1513.2 235.7 1517C236.9 1520.8 238.3 1524.9 239 1528.4C239.7 1531.9 240 1534.5 239.6 1538C239.2 1541.5 238.1 1545.6 236.3 1549.4C234.5 1553.2 231.5 1557.1 228.6 1560.9C225.7 1564.7 222.2 1568.5 219 1572.3C215.8 1576.1 212.5 1580 209.5 1583.8C206.5 1587.6 203.7 1591.4 201 1595.2C198.3 1599.1 195.6 1602.9 193.3 1606.7C191 1610.5 189.1 1614.3 187.4 1618.1C185.7 1622 184.5 1625.7 183.3 1629.6C182.2 1633.5 181 1639.6 180.5 1641.6L177.5 1641.6C177 1639.6 175.8 1633.5 174.7 1629.6C173.5 1625.7 172.3 1622 170.6 1618.1C168.9 1614.3 167 1610.5 164.7 1606.7C162.4 1602.9 159.7 1599.1 157 1595.2C154.3 1591.4 151.5 1587.6 148.5 1583.8C145.5 1580 142.2 1576.1 139 1572.3C135.8 1568.5 132.3 1564.7 129.4 1560.9C126.5 1557.1 123.5 1553.2 121.7 1549.4C119.9 1545.6 118.9 1541.5 118.4 1538C118 1534.5 118.3 1531.9 119 1528.4C119.7 1524.9 121 1520.8 122.3 1517C123.5 1513.2 125.5 1509.3 126.5 1505.5C127.5 1501.7 128.4 1497.9 128.4 1494.1C128.4 1490.3 127.4 1486.4 126.7 1482.6C126 1478.8 124.9 1475 124.4 1471.2C123.9 1467.3 123.1 1463.5 123.8 1459.7C124.5 1455.9 125.9 1452.1 128.4 1448.3C130.9 1444.4 134.8 1440.6 139 1436.8C143.2 1433 148.7 1429.2 153.4 1425.4C158.2 1421.5 163.8 1417.7 167.5 1413.9C171.2 1410.1 173.7 1406.2 175.4 1402.4C177.1 1398.7 177.2 1393.2 177.5 1391.4Z" fill="#c2d5e3" stroke="#c4c4c4" stroke-width="1.6" stroke-linejoin="round"/>
<path d="M331 1458.4C331.3 1460.2 331.4 1465.5 333 1469.3C334.6 1473 337.6 1476.9 340.6 1480.7C343.6 1484.5 347.7 1488.3 351.2 1492.2C354.7 1496 358.4 1499.8 361.6 1503.6C364.8 1507.4 367.5 1511.2 370.2 1515.1C372.9 1518.9 375.6 1522.7 378 1526.5C380.4 1530.3 382.7 1534.2 384.5 1538C386.3 1541.8 387.8 1546.2 388.6 1549.4C389.5 1552.6 389.7 1554.5 389.6 1557.1C389.5 1559.6 389.5 1561.5 388.2 1564.7C386.9 1567.9 384.2 1572.3 381.7 1576.1C379.1 1580 375.8 1583.8 372.9 1587.6C370 1591.4 367 1595.2 364.3 1599.1C361.6 1602.9 359.2 1606.7 356.7 1610.5C354.1 1614.3 351.5 1618.1 349 1622C346.5 1625.8 343.8 1629.6 341.6 1633.4C339.4 1637.2 337.5 1641 335.9 1644.9C334.3 1648.7 332.7 1653.4 331.9 1656.3C331.1 1659.3 331.1 1661.6 331 1662.6L327 1662.6C326.9 1661.6 326.9 1659.3 326.1 1656.3C325.3 1653.4 323.7 1648.7 322.1 1644.9C320.5 1641 318.6 1637.2 316.4 1633.4C314.2 1629.6 311.5 1625.8 309 1622C306.5 1618.1 303.9 1614.3 301.3 1610.5C298.8 1606.7 296.4 1602.9 293.7 1599.1C291 1595.2 288 1591.4 285.1 1587.6C282.2 1583.8 278.9 1580 276.3 1576.1C273.8 1572.3 271.1 1567.9 269.8 1564.7C268.5 1561.5 268.5 1559.6 268.4 1557.1C268.3 1554.5 268.5 1552.6 269.4 1549.4C270.2 1546.2 271.7 1541.8 273.5 1538C275.3 1534.2 277.6 1530.3 280 1526.5C282.4 1522.7 285.1 1518.9 287.8 1515.1C290.5 1511.2 293.2 1507.4 296.4 1503.6C299.6 1499.8 303.3 1496 306.8 1492.2C310.3 1488.3 314.4 1484.5 317.4 1480.7C320.4 1476.9 323.4 1473 325 1469.3C326.6 1465.5 326.7 1460.2 327 1458.4Z" fill="#f5d9c3" stroke="#c4c4c4" stroke-width="1.6" stroke-linejoin="round"/>
<line x1="124.5" y1="1466" x2="233" y2="1466" stroke="#2e2e2e" stroke-width="2" stroke-dasharray="1.7 1.25"/>
<line x1="123" y1="1519.9" x2="233" y2="1519.9" stroke="#2e2e2e" stroke-width="2" stroke-dasharray="3.8 2.4"/>
<line x1="122" y1="1549.7" x2="235.5" y2="1549.7" stroke="#2e2e2e" stroke-width="2" stroke-dasharray="1.7 1.25"/>
<line x1="278" y1="1535.9" x2="380.8" y2="1535.9" stroke="#2e2e2e" stroke-width="2" stroke-dasharray="1.7 1.25"/>
<line x1="269.5" y1="1554.6" x2="389" y2="1554.6" stroke="#2e2e2e" stroke-width="2" stroke-dasharray="3.8 2.4"/>
<line x1="281.7" y1="1579.3" x2="376.2" y2="1579.3" stroke="#2e2e2e" stroke-width="2" stroke-dasharray="1.7 1.25"/>
<g fill="#2a72a8" fill-opacity="0.8"><circle cx="171.6" cy="1433" r="10"/><circle cx="182.1" cy="1438.3" r="10"/><circle cx="168.7" cy="1443.5" r="10"/><circle cx="166.8" cy="1452.1" r="10"/><circle cx="176.4" cy="1454" r="10"/><circle cx="191.6" cy="1454" r="10"/><circle cx="164.9" cy="1459.7" r="10"/><circle cx="180.2" cy="1461.6" r="10"/><circle cx="193.5" cy="1463.5" r="10"/><circle cx="172.5" cy="1469.3" r="10"/><circle cx="184" cy="1473.1" r="10"/><circle cx="170.6" cy="1478.8" r="10"/><circle cx="193.5" cy="1483.6" r="10"/><circle cx="168.7" cy="1484.5" r="10"/><circle cx="180.2" cy="1486.4" r="10"/><circle cx="189.7" cy="1499.8" r="10"/><circle cx="164.9" cy="1506.5" r="10"/><circle cx="176.4" cy="1494.1" r="10"/><circle cx="189.7" cy="1503.6" r="10"/><circle cx="176.4" cy="1520.8" r="10"/><circle cx="193.5" cy="1522.7" r="10"/><circle cx="172.5" cy="1528.4" r="10"/><circle cx="185.9" cy="1530.3" r="10"/><circle cx="166.8" cy="1539.9" r="10"/><circle cx="180.2" cy="1541.8" r="10"/><circle cx="191.6" cy="1549.4" r="10"/><circle cx="174.4" cy="1551.3" r="10"/><circle cx="168.7" cy="1564.7" r="10"/><circle cx="189.7" cy="1562.8" r="10"/><circle cx="184" cy="1572.3" r="10"/><circle cx="193.5" cy="1575.2" r="10"/><circle cx="185.9" cy="1580" r="10"/><circle cx="189.7" cy="1586.6" r="10"/><circle cx="184" cy="1594.3" r="10"/><circle cx="186.8" cy="1600" r="10"/><circle cx="178.3" cy="1476.9" r="10"/><circle cx="182.1" cy="1536.1" r="10"/><circle cx="176.4" cy="1557.1" r="10"/><circle cx="180.2" cy="1564.7" r="10"/><circle cx="170.9" cy="1433.2" r="10"/><circle cx="169.7" cy="1444.5" r="10"/><circle cx="175.2" cy="1455.8" r="10"/><circle cx="188.2" cy="1458" r="10"/><circle cx="165.7" cy="1455.6" r="10"/><circle cx="181.5" cy="1457.6" r="10"/><circle cx="186.2" cy="1472.8" r="10"/><circle cx="193.5" cy="1485.6" r="10"/><circle cx="164.9" cy="1486" r="10"/><circle cx="189" cy="1500.6" r="10"/><circle cx="164.9" cy="1504.9" r="10"/><circle cx="178" cy="1492.4" r="10"/><circle cx="193.5" cy="1499.6" r="10"/><circle cx="180.4" cy="1519.2" r="10"/><circle cx="193.5" cy="1520.5" r="10"/><circle cx="171.4" cy="1530.1" r="10"/><circle cx="182.8" cy="1528.9" r="10"/><circle cx="186.3" cy="1539" r="10"/><circle cx="193.5" cy="1552.7" r="10"/><circle cx="169.7" cy="1548.1" r="10"/><circle cx="164.9" cy="1567.3" r="10"/><circle cx="180.2" cy="1574.9" r="10"/><circle cx="183.4" cy="1584.9" r="10"/><circle cx="184.2" cy="1599.3" r="10"/><circle cx="176.7" cy="1480.4" r="10"/><circle cx="173.6" cy="1539.8" r="10"/></g>
<g fill="#e8812d" fill-opacity="0.8"><circle cx="336.7" cy="1499.4" r="10"/><circle cx="332.9" cy="1506.5" r="10"/><circle cx="332.5" cy="1526.9" r="10"/><circle cx="316.6" cy="1534.2" r="10"/><circle cx="317" cy="1538" r="10"/><circle cx="335.7" cy="1551.3" r="10"/><circle cx="340.1" cy="1552.9" r="10"/><circle cx="331.9" cy="1558" r="10"/><circle cx="324.3" cy="1563.7" r="10"/><circle cx="336.7" cy="1566.6" r="10"/><circle cx="321.4" cy="1579" r="10"/><circle cx="329.1" cy="1579" r="10"/><circle cx="327.5" cy="1595.2" r="10"/><circle cx="328.1" cy="1615.3" r="10"/><circle cx="320.5" cy="1621" r="10"/></g>
<line x1="106.2" y1="1330.8" x2="106.2" y2="1676.6" stroke="#000" stroke-width="2"/>
<line x1="105.2" y1="1675.6" x2="403.3" y2="1675.6" stroke="#000" stroke-width="2"/>
<line x1="93.7" y1="1358" x2="106.2" y2="1358" stroke="#000" stroke-width="2"/>
<text x="78.5" y="1365" font-size="21" text-anchor="end">23</text>
<line x1="93.7" y1="1412.9" x2="106.2" y2="1412.9" stroke="#000" stroke-width="2"/>
<text x="78.5" y="1419.9" font-size="21" text-anchor="end">22</text>
<line x1="93.7" y1="1467.8" x2="106.2" y2="1467.8" stroke="#000" stroke-width="2"/>
<text x="78.5" y="1474.8" font-size="21" text-anchor="end">21</text>
<line x1="93.7" y1="1522.7" x2="106.2" y2="1522.7" stroke="#000" stroke-width="2"/>
<text x="78.5" y="1529.7" font-size="21" text-anchor="end">20</text>
<line x1="93.7" y1="1577.7" x2="106.2" y2="1577.7" stroke="#000" stroke-width="2"/>
<text x="78.5" y="1584.7" font-size="21" text-anchor="end">19</text>
<line x1="93.7" y1="1632.7" x2="106.2" y2="1632.7" stroke="#000" stroke-width="2"/>
<text x="78.5" y="1639.7" font-size="21" text-anchor="end">18</text>
<line x1="179.2" y1="1675.6" x2="179.2" y2="1688.1" stroke="#000" stroke-width="2"/>
<text x="179.2" y="1715" font-size="21" text-anchor="middle">DNP</text>
<line x1="329.4" y1="1675.6" x2="329.4" y2="1688.1" stroke="#000" stroke-width="2"/>
<text x="329.4" y="1715" font-size="21" text-anchor="middle">DP</text>
<text x="169.3" y="1751.7" font-size="24.5" textLength="171" lengthAdjust="spacingAndGlyphs">Response state</text>
<text transform="translate(35.8 1503) rotate(-90)" font-size="24.5" text-anchor="middle" textLength="208" lengthAdjust="spacingAndGlyphs">Portein Abundance</text>
<text x="253.7" y="1309.3" font-size="28" text-anchor="middle" textLength="95" lengthAdjust="spacingAndGlyphs">APOC2</text>
<text x="136.4" y="1358.5" font-size="21" textLength="234.6" lengthAdjust="spacingAndGlyphs">ttest p-value = 9.999e-04</text>
<line x1="178.6" y1="1373.3" x2="330" y2="1373.3" stroke="#3a3a3a" stroke-width="1.8"/>
<path d="M189.4 1968.7C189.7 1970.4 189.7 1975.4 191 1978.6C192.3 1981.9 194.3 1985 197.3 1988.2C200.3 1991.4 204.7 1994.5 208.9 1997.7C213.1 2000.9 218 2004.1 222.3 2007.3C226.6 2010.4 231.2 2013.6 234.7 2016.8C238.2 2020 241.2 2023.2 243.3 2026.4C245.4 2029.5 246.6 2032.7 247.5 2035.9C248.4 2039.1 248.5 2042.3 248.5 2045.4C248.5 2048.6 248.1 2051.8 247.5 2055C246.9 2058.2 246 2061.3 244.9 2064.5C243.8 2067.7 242.5 2070.9 240.9 2074.1C239.3 2077.3 237 2080.4 235.1 2083.6C233.2 2086.8 231.4 2090 229.7 2093.2C228 2096.3 226.4 2099.5 224.9 2102.7C223.4 2105.9 221.9 2109.1 220.5 2112.2C219.1 2115.4 217.8 2118.6 216.3 2121.8C214.8 2125 213.2 2128.2 211.6 2131.3C210 2134.5 208.4 2137.7 206.8 2140.9C205.2 2144.1 203.5 2147.2 202 2150.4C200.5 2153.6 199 2156.8 197.6 2160C196.2 2163.1 194.9 2166.3 193.8 2169.5C192.7 2172.7 191.7 2175.9 191 2179.1C190.3 2182.2 189.8 2185.1 189.5 2188.6C189.2 2192.1 189.2 2198.1 189.1 2200L186.7 2200C186.6 2198.1 186.6 2192.1 186.3 2188.6C186 2185.1 185.5 2182.2 184.8 2179.1C184.1 2175.9 183.1 2172.7 182 2169.5C180.9 2166.3 179.6 2163.1 178.2 2160C176.8 2156.8 175.3 2153.6 173.8 2150.4C172.3 2147.2 170.6 2144.1 169 2140.9C167.4 2137.7 165.8 2134.5 164.2 2131.3C162.6 2128.2 161 2125 159.5 2121.8C158 2118.6 156.7 2115.4 155.3 2112.2C153.9 2109.1 152.4 2105.9 150.9 2102.7C149.4 2099.5 147.8 2096.3 146.1 2093.2C144.4 2090 142.6 2086.8 140.7 2083.6C138.8 2080.4 136.5 2077.3 134.9 2074.1C133.3 2070.9 132 2067.7 130.9 2064.5C129.8 2061.3 128.9 2058.2 128.3 2055C127.7 2051.8 127.3 2048.6 127.3 2045.4C127.3 2042.3 127.4 2039.1 128.3 2035.9C129.2 2032.7 130.4 2029.5 132.5 2026.4C134.6 2023.2 137.6 2020 141.1 2016.8C144.6 2013.6 149.2 2010.4 153.5 2007.3C157.8 2004.1 162.7 2000.9 166.9 1997.7C171.1 1994.5 175.5 1991.4 178.5 1988.2C181.5 1985 183.5 1981.9 184.8 1978.6C186.1 1975.4 186.1 1970.4 186.4 1968.7Z" fill="#c2d5e3" stroke="#c4c4c4" stroke-width="1.6" stroke-linejoin="round"/>
<path d="M340.1 1987.2C340.3 1989 340.3 1994.4 341.4 1997.7C342.5 2001.1 344.6 2004.1 346.9 2007.3C349.2 2010.4 352.2 2013.6 355.3 2016.8C358.4 2020 362.1 2023.2 365.8 2026.4C369.5 2029.5 373.7 2032.7 377.2 2035.9C380.7 2039.1 384.1 2042.3 387 2045.4C389.9 2048.6 392.6 2051.8 394.4 2055C396.3 2058.2 397.4 2061.7 398.1 2064.5C398.8 2067.4 399.1 2069 398.7 2072.2C398.3 2075.3 396.9 2080.1 395.6 2083.6C394.3 2087.1 392.4 2090 390.8 2093.2C389.2 2096.3 387.4 2099.5 386.1 2102.7C384.8 2105.9 383.8 2109.1 383.1 2112.2C382.4 2115.4 382 2118.6 381.7 2121.8C381.4 2125 381.3 2128.2 381.2 2131.3C381.1 2134.5 381.2 2137.7 380.9 2140.9C380.6 2144.1 380.1 2147.2 379.3 2150.4C378.5 2153.6 377.4 2156.8 376 2160C374.6 2163.1 372.7 2166.3 370.8 2169.5C368.9 2172.7 366.6 2175.9 364.5 2179.1C362.4 2182.2 360.1 2185.4 358 2188.6C355.9 2191.8 353.6 2195 351.7 2198.1C349.9 2201.3 348.3 2204.5 346.9 2207.7C345.5 2210.9 344.3 2214 343.3 2217.2C342.3 2220.4 341.5 2223.5 341 2226.8C340.5 2230 340.2 2235.2 340.1 2236.9L336.1 2236.9C336 2235.2 335.7 2230 335.2 2226.8C334.7 2223.5 333.9 2220.4 332.9 2217.2C331.9 2214 330.7 2210.9 329.3 2207.7C327.9 2204.5 326.4 2201.3 324.5 2198.1C322.6 2195 320.3 2191.8 318.2 2188.6C316.1 2185.4 313.8 2182.2 311.7 2179.1C309.6 2175.9 307.3 2172.7 305.4 2169.5C303.5 2166.3 301.6 2163.1 300.2 2160C298.8 2156.8 297.7 2153.6 296.9 2150.4C296.1 2147.2 295.6 2144.1 295.3 2140.9C295 2137.7 295.1 2134.5 295 2131.3C294.9 2128.2 294.8 2125 294.5 2121.8C294.2 2118.6 293.8 2115.4 293.1 2112.2C292.4 2109.1 291.4 2105.9 290.1 2102.7C288.8 2099.5 287 2096.3 285.4 2093.2C283.8 2090 281.9 2087.1 280.6 2083.6C279.3 2080.1 277.9 2075.3 277.5 2072.2C277.1 2069 277.4 2067.4 278.1 2064.5C278.8 2061.7 279.9 2058.2 281.8 2055C283.7 2051.8 286.3 2048.6 289.2 2045.4C292.1 2042.3 295.5 2039.1 299 2035.9C302.5 2032.7 306.8 2029.5 310.4 2026.4C314.1 2023.2 317.8 2020 320.9 2016.8C324.1 2013.6 327 2010.4 329.3 2007.3C331.6 2004.1 333.7 2001.1 334.8 1997.7C335.9 1994.4 335.9 1989 336.1 1987.2Z" fill="#f5d9c3" stroke="#c4c4c4" stroke-width="1.6" stroke-linejoin="round"/>
<line x1="131" y1="2037.4" x2="244.8" y2="2037.4" stroke="#2e2e2e" stroke-width="2" stroke-dasharray="1.7 1.25"/>
<line x1="132.4" y1="2068.8" x2="242.3" y2="2068.8" stroke="#2e2e2e" stroke-width="2" stroke-dasharray="3.8 2.4"/>
<line x1="150" y1="2103" x2="226.3" y2="2103" stroke="#2e2e2e" stroke-width="2" stroke-dasharray="1.7 1.25"/>
<line x1="278.6" y1="2068.5" x2="397.8" y2="2068.5" stroke="#2e2e2e" stroke-width="2" stroke-dasharray="1.7 1.25"/>
<line x1="281.7" y1="2085.4" x2="392.5" y2="2085.4" stroke="#2e2e2e" stroke-width="2" stroke-dasharray="3.8 2.4"/>
<line x1="295.6" y1="2144.8" x2="380.2" y2="2144.8" stroke="#2e2e2e" stroke-width="2" stroke-dasharray="1.7 1.25"/>
<g fill="#2a72a8" fill-opacity="0.8"><circle cx="180.6" cy="2005.4" r="10"/><circle cx="197.4" cy="2007.3" r="10"/><circle cx="173.9" cy="2016.8" r="10"/><circle cx="194" cy="2014.9" r="10"/><circle cx="186.4" cy="2024.4" r="10"/><circle cx="201.6" cy="2028.3" r="10"/><circle cx="176.8" cy="2034" r="10"/><circle cx="190.2" cy="2034" r="10"/><circle cx="201.6" cy="2035.9" r="10"/><circle cx="174.9" cy="2043.5" r="10"/><circle cx="190.2" cy="2045.4" r="10"/><circle cx="199.7" cy="2051.2" r="10"/><circle cx="176.8" cy="2056.9" r="10"/><circle cx="192.1" cy="2056.9" r="10"/><circle cx="176.8" cy="2066.4" r="10"/><circle cx="195.9" cy="2066.4" r="10"/><circle cx="186.4" cy="2074.1" r="10"/><circle cx="201.6" cy="2079.8" r="10"/><circle cx="173.9" cy="2083.6" r="10"/><circle cx="190.2" cy="2083.6" r="10"/><circle cx="174.9" cy="2091.2" r="10"/><circle cx="192.1" cy="2095.1" r="10"/><circle cx="186.4" cy="2102.7" r="10"/><circle cx="173.9" cy="2108.4" r="10"/><circle cx="180.6" cy="2116.1" r="10"/><circle cx="190.2" cy="2121.8" r="10"/><circle cx="201.6" cy="2126.6" r="10"/><circle cx="173" cy="2128.5" r="10"/><circle cx="183.5" cy="2130.4" r="10"/><circle cx="194" cy="2140.9" r="10"/><circle cx="188.3" cy="2152.3" r="10"/><circle cx="194" cy="2162.8" r="10"/><circle cx="203" cy="2160.9" r="10"/><circle cx="188.4" cy="2008.9" r="10"/><circle cx="201.6" cy="2010.1" r="10"/><circle cx="190.4" cy="2013.6" r="10"/><circle cx="178.9" cy="2025.2" r="10"/><circle cx="203" cy="2024.4" r="10"/><circle cx="191.3" cy="2053.2" r="10"/><circle cx="173.4" cy="2058.3" r="10"/><circle cx="190.6" cy="2060.6" r="10"/><circle cx="191.6" cy="2069.5" r="10"/><circle cx="191.2" cy="2072.8" r="10"/><circle cx="202.2" cy="2082.5" r="10"/><circle cx="179" cy="2087.2" r="10"/><circle cx="194.3" cy="2098.1" r="10"/><circle cx="182.4" cy="2100.8" r="10"/><circle cx="173" cy="2108.2" r="10"/><circle cx="182.5" cy="2118.7" r="10"/><circle cx="194.2" cy="2130.5" r="10"/><circle cx="183.5" cy="2128.8" r="10"/><circle cx="191.4" cy="2142.1" r="10"/><circle cx="185.9" cy="2149.7" r="10"/><circle cx="187.5" cy="2163.3" r="10"/></g>
<g fill="#e8812d" fill-opacity="0.8"><circle cx="348.6" cy="2041.6" r="10"/><circle cx="344.4" cy="2059.8" r="10"/><circle cx="333.3" cy="2068.3" r="10"/><circle cx="349.5" cy="2068.3" r="10"/><circle cx="341.9" cy="2074.1" r="10"/><circle cx="349.5" cy="2085.5" r="10"/><circle cx="334.3" cy="2122.7" r="10"/><circle cx="351.5" cy="2136.1" r="10"/><circle cx="351.5" cy="2152.3" r="10"/><circle cx="342.5" cy="2156.1" r="10"/><circle cx="344.4" cy="2181" r="10"/></g>
<line x1="114.8" y1="1904.7" x2="114.8" y2="2250.5" stroke="#000" stroke-width="2"/>
<line x1="113.8" y1="2249.5" x2="412" y2="2249.5" stroke="#000" stroke-width="2"/>
<line x1="102.3" y1="1938.5" x2="114.8" y2="1938.5" stroke="#000" stroke-width="2"/>
<text x="89.3" y="1945.5" font-size="21" text-anchor="end">18.5</text>
<line x1="102.3" y1="1993.6" x2="114.8" y2="1993.6" stroke="#000" stroke-width="2"/>
<text x="89.3" y="2000.6" font-size="21" text-anchor="end">18.0</text>
<line x1="102.3" y1="2048.8" x2="114.8" y2="2048.8" stroke="#000" stroke-width="2"/>
<text x="89.3" y="2055.8" font-size="21" text-anchor="end">17.5</text>
<line x1="102.3" y1="2103.9" x2="114.8" y2="2103.9" stroke="#000" stroke-width="2"/>
<text x="89.3" y="2110.9" font-size="21" text-anchor="end">17.0</text>
<line x1="102.3" y1="2159.1" x2="114.8" y2="2159.1" stroke="#000" stroke-width="2"/>
<text x="89.3" y="2166.1" font-size="21" text-anchor="end">16.5</text>
<line x1="102.3" y1="2214.3" x2="114.8" y2="2214.3" stroke="#000" stroke-width="2"/>
<text x="89.3" y="2221.3" font-size="21" text-anchor="end">16.0</text>
<line x1="188.1" y1="2249.5" x2="188.1" y2="2262" stroke="#000" stroke-width="2"/>
<text x="188.1" y="2289.5" font-size="21" text-anchor="middle">DNP</text>
<line x1="338" y1="2249.5" x2="338" y2="2262" stroke="#000" stroke-width="2"/>
<text x="338" y="2289.5" font-size="21" text-anchor="middle">DP</text>
<text x="178" y="2325.5" font-size="24.5" textLength="171" lengthAdjust="spacingAndGlyphs">Response state</text>
<text transform="translate(26.8 2077) rotate(-90)" font-size="24.5" text-anchor="middle" textLength="208" lengthAdjust="spacingAndGlyphs">Portein Abundance</text>
<text x="262" y="1883" font-size="28" text-anchor="middle" textLength="88.6" lengthAdjust="spacingAndGlyphs">APOL1</text>
<text x="145.3" y="1931.7" font-size="21" textLength="235" lengthAdjust="spacingAndGlyphs">ttest p-value = 7.699e-03</text>
<line x1="187.2" y1="1947" x2="338.7" y2="1947" stroke="#3a3a3a" stroke-width="1.8"/>
</g>
<g id="panelD">
<text x="516.5" y="594" font-size="43">D</text>
<text x="928.8" y="658.6" font-size="24.5" text-anchor="middle" textLength="82.5" lengthAdjust="spacingAndGlyphs">APOC3</text>
<g clip-path="url(#cp1)">
<path d="M699.7 799.4L779.8 802L939.9 804.5L1073.3 800L1180 793.6L1180 833L1073.3 831L939.9 830.6L806.4 832L699.7 836.8Z" fill="#dadada"/>
<g stroke="#fff" stroke-width="1.5"><circle cx="699.7" cy="835.9" r="10.1" fill="#808080"/><circle cx="726.4" cy="821.5" r="10.1" fill="#6496cd"/><circle cx="753.1" cy="827.2" r="10.1" fill="#808080"/><circle cx="779.8" cy="827.2" r="10.1" fill="#6496cd"/><circle cx="806.4" cy="812.3" r="10.1" fill="#808080"/><circle cx="859.8" cy="813.8" r="10.1" fill="#808080"/><circle cx="886.5" cy="768.1" r="10.1" fill="#6496cd"/><circle cx="913.2" cy="881" r="10.1" fill="#808080"/><circle cx="939.9" cy="763.8" r="10.1" fill="#6496cd"/><circle cx="993.2" cy="836.8" r="10.1" fill="#5fc66b"/><circle cx="1019.9" cy="808.5" r="10.1" fill="#5fc66b"/><circle cx="1046.6" cy="811.4" r="10.1" fill="#5fc66b"/><circle cx="1073.3" cy="813.3" r="10.1" fill="#5fc66b"/><circle cx="1100" cy="788.8" r="10.1" fill="#6496cd"/><circle cx="1126.6" cy="809.5" r="10.1" fill="#6496cd"/><circle cx="1153.3" cy="853.2" r="10.1" fill="#6496cd"/><circle cx="1180" cy="823.9" r="10.1" fill="#6496cd"/></g>
<line x1="699.7" y1="820" x2="1180" y2="814.7" stroke="#000" stroke-width="2.7"/>
</g>
<rect x="676" y="758.7" width="528.3" height="127.9" fill="none" stroke="#000" stroke-width="2"/>
<line x1="663.5" y1="763.4" x2="676" y2="763.4" stroke="#000" stroke-width="2"/>
<text x="653.2" y="770.5" font-size="21" text-anchor="end">21</text>
<line x1="663.5" y1="813.5" x2="676" y2="813.5" stroke="#000" stroke-width="2"/>
<text x="653.2" y="820.6" font-size="21" text-anchor="end">20</text>
<line x1="663.5" y1="864" x2="676" y2="864" stroke="#000" stroke-width="2"/>
<text x="653.2" y="871.1" font-size="21" text-anchor="end">19</text>
<line x1="699.7" y1="886.6" x2="699.7" y2="898.1" stroke="#000" stroke-width="2"/>
<line x1="726.4" y1="886.6" x2="726.4" y2="898.1" stroke="#000" stroke-width="2"/>
<line x1="753.1" y1="886.6" x2="753.1" y2="898.1" stroke="#000" stroke-width="2"/>
<line x1="779.8" y1="886.6" x2="779.8" y2="898.1" stroke="#000" stroke-width="2"/>
<line x1="806.4" y1="886.6" x2="806.4" y2="898.1" stroke="#000" stroke-width="2"/>
<line x1="859.8" y1="886.6" x2="859.8" y2="898.1" stroke="#000" stroke-width="2"/>
<line x1="886.5" y1="886.6" x2="886.5" y2="898.1" stroke="#000" stroke-width="2"/>
<line x1="913.2" y1="886.6" x2="913.2" y2="898.1" stroke="#000" stroke-width="2"/>
<line x1="939.9" y1="886.6" x2="939.9" y2="898.1" stroke="#000" stroke-width="2"/>
<line x1="993.2" y1="886.6" x2="993.2" y2="898.1" stroke="#000" stroke-width="2"/>
<line x1="1019.9" y1="886.6" x2="1019.9" y2="898.1" stroke="#000" stroke-width="2"/>
<line x1="1046.6" y1="886.6" x2="1046.6" y2="898.1" stroke="#000" stroke-width="2"/>
<line x1="1073.3" y1="886.6" x2="1073.3" y2="898.1" stroke="#000" stroke-width="2"/>
<line x1="1100" y1="886.6" x2="1100" y2="898.1" stroke="#000" stroke-width="2"/>
<line x1="1126.6" y1="886.6" x2="1126.6" y2="898.1" stroke="#000" stroke-width="2"/>
<line x1="1153.3" y1="886.6" x2="1153.3" y2="898.1" stroke="#000" stroke-width="2"/>
<line x1="1180" y1="886.6" x2="1180" y2="898.1" stroke="#000" stroke-width="2"/>
<text x="699.7" y="925.7" font-size="21" text-anchor="middle">1</text>
<text x="726.4" y="925.7" font-size="21" text-anchor="middle">2</text>
<text x="753.1" y="925.7" font-size="21" text-anchor="middle">3</text>
<text x="779.8" y="925.7" font-size="21" text-anchor="middle">4</text>
<text x="806.4" y="925.7" font-size="21" text-anchor="middle">5</text>
<text x="859.8" y="925.7" font-size="21" text-anchor="middle">7</text>
<text x="886.5" y="925.7" font-size="21" text-anchor="middle">8</text>
<text x="913.2" y="925.7" font-size="21" text-anchor="middle">9</text>
<text x="939.9" y="925.7" font-size="21" text-anchor="middle">10</text>
<text x="993.2" y="925.7" font-size="21" text-anchor="middle">12</text>
<text x="1019.9" y="925.7" font-size="21" text-anchor="middle">13</text>
<text x="1046.6" y="925.7" font-size="21" text-anchor="middle">14</text>
<text x="1073.3" y="925.7" font-size="21" text-anchor="middle">15</text>
<text x="1100" y="925.7" font-size="21" text-anchor="middle">16</text>
<text x="1126.6" y="925.7" font-size="21" text-anchor="middle">17</text>
<text x="1153.3" y="925.7" font-size="21" text-anchor="middle">18</text>
<text x="1180" y="925.7" font-size="21" text-anchor="middle">19</text>
<text x="930" y="965" font-size="24.5" text-anchor="middle" textLength="152" lengthAdjust="spacingAndGlyphs">Therapy cycle</text>
<text x="1025.9" y="721" font-size="21" textLength="157" lengthAdjust="spacingAndGlyphs">rho: 0.19 r<tspan font-size="11" dy="-8">2</tspan><tspan dy="8">: 0.00</tspan></text>
<text x="1025.9" y="745.6" font-size="21" textLength="177.3" lengthAdjust="spacingAndGlyphs">p-value = 3.03e-24</text>
<text x="519" y="830.6" font-size="24.5" text-anchor="end">P1</text>
<text transform="translate(552 817) rotate(-90)" font-size="24.5" text-anchor="middle" textLength="77" lengthAdjust="spacingAndGlyphs">Protein</text>
<text transform="translate(585 821.5) rotate(-90)" font-size="24.5" text-anchor="middle" textLength="124" lengthAdjust="spacingAndGlyphs">Abundance</text>
<g clip-path="url(#cp2)">
<path d="M699.7 1104.9L836.9 1092L974.2 1078.5L1077.1 1067L1180 1053L1180 1082.3L1077.1 1088L974.2 1095.3L836.9 1123L699.7 1155.3Z" fill="#dadada"/>
<g stroke="#fff" stroke-width="1.5"><circle cx="699.7" cy="1124.1" r="10.1" fill="#808080"/><circle cx="734" cy="1169.7" r="10.1" fill="#808080"/><circle cx="751.2" cy="1161.1" r="10.1" fill="#6496cd"/><circle cx="768.3" cy="1116.9" r="10.1" fill="#808080"/><circle cx="785.5" cy="1081.8" r="10.1" fill="#6496cd"/><circle cx="819.8" cy="1168.3" r="10.1" fill="#5fc66b"/><circle cx="836.9" cy="1130.8" r="10.1" fill="#808080"/><circle cx="854.1" cy="1094.3" r="10.1" fill="#5fc66b"/><circle cx="871.2" cy="1101" r="10.1" fill="#808080"/><circle cx="905.5" cy="1087.6" r="10.1" fill="#5fc66b"/><circle cx="922.7" cy="1060.2" r="10.1" fill="#5fc66b"/><circle cx="939.9" cy="1067.4" r="10.1" fill="#5fc66b"/><circle cx="957" cy="1067.4" r="10.1" fill="#5fc66b"/><circle cx="974.2" cy="1084.7" r="10.1" fill="#5fc66b"/><circle cx="991.3" cy="1105.8" r="10.1" fill="#808080"/><circle cx="1008.5" cy="1105.8" r="10.1" fill="#808080"/><circle cx="1025.6" cy="1081.8" r="10.1" fill="#6496cd"/><circle cx="1042.8" cy="1092.9" r="10.1" fill="#6496cd"/><circle cx="1059.9" cy="1076.1" r="10.1" fill="#808080"/><circle cx="1077.1" cy="1089.5" r="10.1" fill="#808080"/><circle cx="1094.2" cy="1094.3" r="10.1" fill="#5fc66b"/><circle cx="1111.4" cy="1068.9" r="10.1" fill="#5fc66b"/><circle cx="1128.5" cy="1084.7" r="10.1" fill="#808080"/><circle cx="1145.7" cy="1076.1" r="10.1" fill="#808080"/><circle cx="1162.8" cy="1062.6" r="10.1" fill="#5fc66b"/><circle cx="1180" cy="1102.5" r="10.1" fill="#5fc66b"/></g>
<line x1="699.7" y1="1133.2" x2="1180" y2="1067.9" stroke="#000" stroke-width="2.7"/>
</g>
<rect x="676" y="1047.7" width="528.3" height="127.8" fill="none" stroke="#000" stroke-width="2"/>
<line x1="663.5" y1="1049.6" x2="676" y2="1049.6" stroke="#000" stroke-width="2"/>
<text x="653.2" y="1056.7" font-size="21" text-anchor="end">22</text>
<line x1="663.5" y1="1136" x2="676" y2="1136" stroke="#000" stroke-width="2"/>
<text x="653.2" y="1143.1" font-size="21" text-anchor="end">20</text>
<line x1="699.7" y1="1175.5" x2="699.7" y2="1187" stroke="#000" stroke-width="2"/>
<line x1="734" y1="1175.5" x2="734" y2="1187" stroke="#000" stroke-width="2"/>
<line x1="751.2" y1="1175.5" x2="751.2" y2="1187" stroke="#000" stroke-width="2"/>
<line x1="768.3" y1="1175.5" x2="768.3" y2="1187" stroke="#000" stroke-width="2"/>
<line x1="785.5" y1="1175.5" x2="785.5" y2="1187" stroke="#000" stroke-width="2"/>
<line x1="819.8" y1="1175.5" x2="819.8" y2="1187" stroke="#000" stroke-width="2"/>
<line x1="836.9" y1="1175.5" x2="836.9" y2="1187" stroke="#000" stroke-width="2"/>
<line x1="871.2" y1="1175.5" x2="871.2" y2="1187" stroke="#000" stroke-width="2"/>
<line x1="905.5" y1="1175.5" x2="905.5" y2="1187" stroke="#000" stroke-width="2"/>
<line x1="939.9" y1="1175.5" x2="939.9" y2="1187" stroke="#000" stroke-width="2"/>
<line x1="974.2" y1="1175.5" x2="974.2" y2="1187" stroke="#000" stroke-width="2"/>
<line x1="1008.5" y1="1175.5" x2="1008.5" y2="1187" stroke="#000" stroke-width="2"/>
<line x1="1042.8" y1="1175.5" x2="1042.8" y2="1187" stroke="#000" stroke-width="2"/>
<line x1="1077.1" y1="1175.5" x2="1077.1" y2="1187" stroke="#000" stroke-width="2"/>
<line x1="1111.4" y1="1175.5" x2="1111.4" y2="1187" stroke="#000" stroke-width="2"/>
<line x1="1145.7" y1="1175.5" x2="1145.7" y2="1187" stroke="#000" stroke-width="2"/>
<line x1="1180" y1="1175.5" x2="1180" y2="1187" stroke="#000" stroke-width="2"/>
<line x1="854.1" y1="1175.5" x2="854.1" y2="1187" stroke="#000" stroke-width="2"/>
<line x1="922.7" y1="1175.5" x2="922.7" y2="1187" stroke="#000" stroke-width="2"/>
<line x1="957" y1="1175.5" x2="957" y2="1187" stroke="#000" stroke-width="2"/>
<line x1="991.3" y1="1175.5" x2="991.3" y2="1187" stroke="#000" stroke-width="2"/>
<line x1="1025.6" y1="1175.5" x2="1025.6" y2="1187" stroke="#000" stroke-width="2"/>
<line x1="1059.9" y1="1175.5" x2="1059.9" y2="1187" stroke="#000" stroke-width="2"/>
<line x1="1094.2" y1="1175.5" x2="1094.2" y2="1187" stroke="#000" stroke-width="2"/>
<line x1="1128.5" y1="1175.5" x2="1128.5" y2="1187" stroke="#000" stroke-width="2"/>
<line x1="1162.8" y1="1175.5" x2="1162.8" y2="1187" stroke="#000" stroke-width="2"/>
<text x="699.7" y="1205.7" font-size="21" text-anchor="middle">1</text>
<text x="734" y="1205.7" font-size="21" text-anchor="middle">3</text>
<text x="751.2" y="1205.7" font-size="21" text-anchor="middle">4</text>
<text x="768.3" y="1205.7" font-size="21" text-anchor="middle">5</text>
<text x="785.5" y="1205.7" font-size="21" text-anchor="middle">6</text>
<text x="819.8" y="1205.7" font-size="21" text-anchor="middle">8</text>
<text x="836.9" y="1205.7" font-size="21" text-anchor="middle">9</text>
<text x="871.2" y="1205.7" font-size="21" text-anchor="middle">11</text>
<text x="905.5" y="1205.7" font-size="21" text-anchor="middle">13</text>
<text x="939.9" y="1205.7" font-size="21" text-anchor="middle">15</text>
<text x="974.2" y="1205.7" font-size="21" text-anchor="middle">17</text>
<text x="1008.5" y="1205.7" font-size="21" text-anchor="middle">19</text>
<text x="1042.8" y="1205.7" font-size="21" text-anchor="middle">21</text>
<text x="1077.1" y="1205.7" font-size="21" text-anchor="middle">23</text>
<text x="1111.4" y="1205.7" font-size="21" text-anchor="middle">25</text>
<text x="1145.7" y="1205.7" font-size="21" text-anchor="middle">27</text>
<text x="1180" y="1205.7" font-size="21" text-anchor="middle">29</text>
<text x="854.1" y="1228.3" font-size="21" text-anchor="middle">10</text>
<text x="922.7" y="1228.3" font-size="21" text-anchor="middle">14</text>
<text x="957" y="1228.3" font-size="21" text-anchor="middle">16</text>
<text x="991.3" y="1228.3" font-size="21" text-anchor="middle">18</text>
<text x="1025.6" y="1228.3" font-size="21" text-anchor="middle">20</text>
<text x="1059.9" y="1228.3" font-size="21" text-anchor="middle">22</text>
<text x="1094.2" y="1228.3" font-size="21" text-anchor="middle">24</text>
<text x="1128.5" y="1228.3" font-size="21" text-anchor="middle">26</text>
<text x="1162.8" y="1228.3" font-size="21" text-anchor="middle">28</text>
<text x="930" y="1252.3" font-size="24.5" text-anchor="middle" textLength="152" lengthAdjust="spacingAndGlyphs">Therapy cycle</text>
<text x="1025.9" y="1007.9" font-size="21" textLength="157" lengthAdjust="spacingAndGlyphs">rho: 0.52 r<tspan font-size="11" dy="-8">2</tspan><tspan dy="8">: 0.39</tspan></text>
<text x="1025.9" y="1032.8" font-size="21" textLength="177.3" lengthAdjust="spacingAndGlyphs">p-value = 1.19e-38</text>
<text x="519" y="1119.3" font-size="24.5" text-anchor="end">P18</text>
<text transform="translate(552 1105.8) rotate(-90)" font-size="24.5" text-anchor="middle" textLength="77" lengthAdjust="spacingAndGlyphs">Protein</text>
<text transform="translate(585 1109.7) rotate(-90)" font-size="24.5" text-anchor="middle" textLength="124" lengthAdjust="spacingAndGlyphs">Abundance</text>
<g clip-path="url(#cp3)">
<path d="M699.7 1394L859.8 1392L913.2 1388L1019.9 1376L1180 1342.6L1180 1414.7L1019.9 1420.4L859.8 1433.9L699.7 1457.9Z" fill="#dadada"/>
<g stroke="#fff" stroke-width="1.5"><circle cx="699.7" cy="1423.8" r="10.1" fill="#808080"/><circle cx="753.1" cy="1450.7" r="10.1" fill="#6496cd"/><circle cx="859.8" cy="1420" r="10.1" fill="#5fc66b"/><circle cx="913.2" cy="1430.5" r="10.1" fill="#808080"/><circle cx="966.5" cy="1358" r="10.1" fill="#5fc66b"/><circle cx="1019.9" cy="1400.3" r="10.1" fill="#808080"/><circle cx="1126.6" cy="1387.3" r="10.1" fill="#cdeac4"/><circle cx="1180" cy="1415.6" r="10.1" fill="#cdeac4"/></g>
<line x1="699.7" y1="1432" x2="1180" y2="1389.7" stroke="#000" stroke-width="2.7"/>
</g>
<rect x="676" y="1335.9" width="528.3" height="128.2" fill="none" stroke="#000" stroke-width="2"/>
<line x1="663.5" y1="1348.4" x2="676" y2="1348.4" stroke="#000" stroke-width="2"/>
<text x="653.2" y="1355.5" font-size="21" text-anchor="end">21</text>
<line x1="663.5" y1="1394.5" x2="676" y2="1394.5" stroke="#000" stroke-width="2"/>
<text x="653.2" y="1401.6" font-size="21" text-anchor="end">20</text>
<line x1="663.5" y1="1440.1" x2="676" y2="1440.1" stroke="#000" stroke-width="2"/>
<text x="653.2" y="1447.2" font-size="21" text-anchor="end">19</text>
<line x1="699.7" y1="1464.1" x2="699.7" y2="1475.6" stroke="#000" stroke-width="2"/>
<line x1="753.1" y1="1464.1" x2="753.1" y2="1475.6" stroke="#000" stroke-width="2"/>
<line x1="859.8" y1="1464.1" x2="859.8" y2="1475.6" stroke="#000" stroke-width="2"/>
<line x1="913.2" y1="1464.1" x2="913.2" y2="1475.6" stroke="#000" stroke-width="2"/>
<line x1="966.5" y1="1464.1" x2="966.5" y2="1475.6" stroke="#000" stroke-width="2"/>
<line x1="1019.9" y1="1464.1" x2="1019.9" y2="1475.6" stroke="#000" stroke-width="2"/>
<line x1="1126.6" y1="1464.1" x2="1126.6" y2="1475.6" stroke="#000" stroke-width="2"/>
<line x1="1180" y1="1464.1" x2="1180" y2="1475.6" stroke="#000" stroke-width="2"/>
<text x="699.7" y="1502.6" font-size="21" text-anchor="middle">1</text>
<text x="753.1" y="1502.6" font-size="21" text-anchor="middle">2</text>
<text x="859.8" y="1502.6" font-size="21" text-anchor="middle">4</text>
<text x="913.2" y="1502.6" font-size="21" text-anchor="middle">5</text>
<text x="966.5" y="1502.6" font-size="21" text-anchor="middle">6</text>
<text x="1019.9" y="1502.6" font-size="21" text-anchor="middle">7</text>
<text x="1126.6" y="1502.6" font-size="21" text-anchor="middle">9</text>
<text x="1180" y="1502.6" font-size="21" text-anchor="middle">10</text>
<text x="930" y="1542" font-size="24.5" text-anchor="middle" textLength="152" lengthAdjust="spacingAndGlyphs">Therapy cycle</text>
<text x="1025.9" y="1296" font-size="21" textLength="157" lengthAdjust="spacingAndGlyphs">rho: 0.67 r<tspan font-size="11" dy="-8">2</tspan><tspan dy="8">: 0.27</tspan></text>
<text x="1025.9" y="1321" font-size="21" textLength="177.3" lengthAdjust="spacingAndGlyphs">p-value = 2.84e-10</text>
<text x="519" y="1407.5" font-size="24.5" text-anchor="end">P16</text>
<text transform="translate(552 1394) rotate(-90)" font-size="24.5" text-anchor="middle" textLength="77" lengthAdjust="spacingAndGlyphs">Protein</text>
<text transform="translate(585 1397.9) rotate(-90)" font-size="24.5" text-anchor="middle" textLength="124" lengthAdjust="spacingAndGlyphs">Abundance</text>
<g clip-path="url(#cp4)">
<path d="M699.7 1656L863.5 1681L976.4 1660.9L990.8 1664.7L1064.7 1648.9L1180 1631L1180 1744L1083.9 1735.3L891.8 1729L699.7 1725.7Z" fill="#dadada"/>
<g stroke="#fff" stroke-width="1.5"><circle cx="699.7" cy="1728.6" r="10.1" fill="#808080"/><circle cx="795.8" cy="1681" r="10.1" fill="#6496cd"/><circle cx="891.8" cy="1697.4" r="10.1" fill="#808080"/><circle cx="1083.9" cy="1705" r="10.1" fill="#808080"/><circle cx="1180" cy="1746.4" r="10.1" fill="#b7373a"/></g>
<line x1="699.7" y1="1699.3" x2="1180" y2="1725.7" stroke="#000" stroke-width="2.7"/>
</g>
<rect x="676" y="1623.9" width="528.3" height="128.7" fill="none" stroke="#000" stroke-width="2"/>
<line x1="663.5" y1="1675.3" x2="676" y2="1675.3" stroke="#000" stroke-width="2"/>
<text x="653.2" y="1682.4" font-size="21" text-anchor="end">20</text>
<line x1="663.5" y1="1730" x2="676" y2="1730" stroke="#000" stroke-width="2"/>
<text x="653.2" y="1737.1" font-size="21" text-anchor="end">19</text>
<line x1="699.7" y1="1752.6" x2="699.7" y2="1764.1" stroke="#000" stroke-width="2"/>
<line x1="795.8" y1="1752.6" x2="795.8" y2="1764.1" stroke="#000" stroke-width="2"/>
<line x1="891.8" y1="1752.6" x2="891.8" y2="1764.1" stroke="#000" stroke-width="2"/>
<line x1="1083.9" y1="1752.6" x2="1083.9" y2="1764.1" stroke="#000" stroke-width="2"/>
<line x1="1180" y1="1752.6" x2="1180" y2="1764.1" stroke="#000" stroke-width="2"/>
<text x="699.7" y="1790.5" font-size="21" text-anchor="middle">1</text>
<text x="795.8" y="1790.5" font-size="21" text-anchor="middle">2</text>
<text x="891.8" y="1790.5" font-size="21" text-anchor="middle">3</text>
<text x="1083.9" y="1790.5" font-size="21" text-anchor="middle">5</text>
<text x="1180" y="1790.5" font-size="21" text-anchor="middle">6</text>
<text x="930" y="1830" font-size="24.5" text-anchor="middle" textLength="152" lengthAdjust="spacingAndGlyphs">Therapy cycle</text>
<text x="1025.9" y="1584" font-size="21" textLength="164" lengthAdjust="spacingAndGlyphs">rho: -0.40 r<tspan font-size="11" dy="-8">2</tspan><tspan dy="8">: 0.17</tspan></text>
<text x="1025.9" y="1609.5" font-size="21" textLength="177.3" lengthAdjust="spacingAndGlyphs">p-value = 8.00e-06</text>
<text x="519" y="1696" font-size="24.5" text-anchor="end">P22</text>
<text transform="translate(552 1682.5) rotate(-90)" font-size="24.5" text-anchor="middle" textLength="77" lengthAdjust="spacingAndGlyphs">Protein</text>
<text transform="translate(585 1687.3) rotate(-90)" font-size="24.5" text-anchor="middle" textLength="124" lengthAdjust="spacingAndGlyphs">Abundance</text>
<g clip-path="url(#cp5)">
<path d="M699.7 1985L859.8 1997L1180 1919.3L1180 2019.7L1019.9 2013.9L859.8 2025L699.7 2035.5Z" fill="#dadada"/>
<g stroke="#fff" stroke-width="1.5"><circle cx="699.7" cy="2035.5" r="10.1" fill="#808080"/><circle cx="859.8" cy="1997" r="10.1" fill="#6496cd"/><circle cx="1019.9" cy="2008" r="10.1" fill="#808080"/><circle cx="1180" cy="1998.5" r="10.1" fill="#e9a23b"/></g>
<line x1="699.7" y1="2024.5" x2="1180" y2="1994.7" stroke="#000" stroke-width="2.7"/>
</g>
<rect x="676" y="1913" width="528.3" height="128.3" fill="none" stroke="#000" stroke-width="2"/>
<line x1="663.5" y1="1946.2" x2="676" y2="1946.2" stroke="#000" stroke-width="2"/>
<text x="653.2" y="1953.3" font-size="21" text-anchor="end">20.5</text>
<line x1="663.5" y1="1980.3" x2="676" y2="1980.3" stroke="#000" stroke-width="2"/>
<text x="653.2" y="1987.4" font-size="21" text-anchor="end">20.0</text>
<line x1="663.5" y1="2014.4" x2="676" y2="2014.4" stroke="#000" stroke-width="2"/>
<text x="653.2" y="2021.5" font-size="21" text-anchor="end">19.5</text>
<line x1="699.7" y1="2041.3" x2="699.7" y2="2052.8" stroke="#000" stroke-width="2"/>
<line x1="859.8" y1="2041.3" x2="859.8" y2="2052.8" stroke="#000" stroke-width="2"/>
<line x1="1019.9" y1="2041.3" x2="1019.9" y2="2052.8" stroke="#000" stroke-width="2"/>
<line x1="1180" y1="2041.3" x2="1180" y2="2052.8" stroke="#000" stroke-width="2"/>
<text x="699.7" y="2080.2" font-size="21" text-anchor="middle">1</text>
<text x="859.8" y="2080.2" font-size="21" text-anchor="middle">2</text>
<text x="1019.9" y="2080.2" font-size="21" text-anchor="middle">3</text>
<text x="1180" y="2080.2" font-size="21" text-anchor="middle">4</text>
<text x="930" y="2119.6" font-size="24.5" text-anchor="middle" textLength="152" lengthAdjust="spacingAndGlyphs">Therapy cycle</text>
<text x="1025.9" y="1872.2" font-size="21" textLength="157" lengthAdjust="spacingAndGlyphs">rho: 0.40 r<tspan font-size="11" dy="-8">2</tspan><tspan dy="8">: 0.51</tspan></text>
<text x="1025.9" y="1897.2" font-size="21" textLength="177.3" lengthAdjust="spacingAndGlyphs">p-value = 6.70e-05</text>
<text x="519" y="1985" font-size="24.5" text-anchor="end">P3</text>
<text transform="translate(552 1974) rotate(-90)" font-size="24.5" text-anchor="middle" textLength="77" lengthAdjust="spacingAndGlyphs">Protein</text>
<text transform="translate(585 1977) rotate(-90)" font-size="24.5" text-anchor="middle" textLength="124" lengthAdjust="spacingAndGlyphs">Abundance</text>
<g clip-path="url(#cp6)">
<path d="M699.7 2206.5L771.7 2218.5L1180 2216L1180 2274.7L1019.9 2254.5L699.7 2324Z" fill="#dadada"/>
<g stroke="#fff" stroke-width="1.5"><circle cx="699.7" cy="2218.5" r="10.1" fill="#808080"/><circle cx="859.8" cy="2230" r="10.1" fill="#808080"/><circle cx="1019.9" cy="2251.6" r="10.1" fill="#808080"/><circle cx="1180" cy="2216" r="10.1" fill="#b7373a"/></g>
<line x1="699.7" y1="2226.6" x2="1180" y2="2231.9" stroke="#000" stroke-width="2.7"/>
</g>
<rect x="676" y="2202.6" width="528.3" height="127.3" fill="none" stroke="#000" stroke-width="2"/>
<line x1="663.5" y1="2212.2" x2="676" y2="2212.2" stroke="#000" stroke-width="2"/>
<text x="653.2" y="2219.3" font-size="21" text-anchor="end">20.0</text>
<line x1="663.5" y1="2287.1" x2="676" y2="2287.1" stroke="#000" stroke-width="2"/>
<text x="653.2" y="2294.2" font-size="21" text-anchor="end">17.5</text>
<line x1="699.7" y1="2329.9" x2="699.7" y2="2341.4" stroke="#000" stroke-width="2"/>
<line x1="859.8" y1="2329.9" x2="859.8" y2="2341.4" stroke="#000" stroke-width="2"/>
<line x1="1019.9" y1="2329.9" x2="1019.9" y2="2341.4" stroke="#000" stroke-width="2"/>
<line x1="1180" y1="2329.9" x2="1180" y2="2341.4" stroke="#000" stroke-width="2"/>
<text x="699.7" y="2368.8" font-size="21" text-anchor="middle">1</text>
<text x="859.8" y="2368.8" font-size="21" text-anchor="middle">2</text>
<text x="1019.9" y="2368.8" font-size="21" text-anchor="middle">3</text>
<text x="1180" y="2368.8" font-size="21" text-anchor="middle">4</text>
<text x="930" y="2408.2" font-size="24.5" text-anchor="middle" textLength="152" lengthAdjust="spacingAndGlyphs">Therapy cycle</text>
<text x="1025.9" y="2161.3" font-size="21" textLength="157" lengthAdjust="spacingAndGlyphs">rho: 0.20 r<tspan font-size="11" dy="-8">2</tspan><tspan dy="8">: 0.02</tspan></text>
<text x="1025.9" y="2186.3" font-size="21" textLength="177.3" lengthAdjust="spacingAndGlyphs">p-value = 5.95e-04</text>
<text x="519" y="2273.7" font-size="24.5" text-anchor="end">P2</text>
<text transform="translate(552 2264) rotate(-90)" font-size="24.5" text-anchor="middle" textLength="77" lengthAdjust="spacingAndGlyphs">Protein</text>
<text transform="translate(585 2264) rotate(-90)" font-size="24.5" text-anchor="middle" textLength="124" lengthAdjust="spacingAndGlyphs">Abundance</text>
<circle cx="695.7" cy="2475.7" r="12.5" fill="#cdeac4"/>
<text x="735" y="2482.2" font-size="24.5">iCR</text>
<circle cx="863.2" cy="2475.7" r="12.5" fill="#6496cd"/>
<text x="902.9" y="2482.2" font-size="24.5">iSD</text>
<circle cx="990" cy="2475.7" r="12.5" fill="#5fc66b"/>
<text x="1029" y="2482.2" font-size="24.5">iPR</text>
<circle cx="695.7" cy="2536" r="12.5" fill="#e9a23b"/>
<text x="735" y="2542.5" font-size="24.5">iUPD</text>
<circle cx="863.2" cy="2536" r="12.5" fill="#b7373a"/>
<text x="902.9" y="2542.5" font-size="24.5">iCPD</text>
<circle cx="990" cy="2536" r="12.5" fill="#808080"/>
<text x="1029" y="2542.5" font-size="24.5">not-evaluated</text>
</g>
<g id="panelE">
<text x="1226.5" y="594.2" font-size="43">E</text>
<text x="1522" y="632.8" font-size="24.5" text-anchor="middle" textLength="188.8" lengthAdjust="spacingAndGlyphs" fill="#231815" stroke="#231815">Patient 16 (RCC)</text>
<text x="1521.9" y="677.5" font-size="24.5" text-anchor="middle" textLength="180.6" lengthAdjust="spacingAndGlyphs" fill="#231815" stroke="#231815">Lung metastasis</text>
<text x="1519.5" y="719.7" font-size="24.5" text-anchor="middle" textLength="91.2" lengthAdjust="spacingAndGlyphs" fill="#231815" stroke="#231815">pre DBT</text>
<g transform="translate(1274 738) scale(1.0018 0.9989)">
<rect width="228" height="190" fill="#020202"/>
<path d="M208 190L228 181" stroke="#e8e8e8" stroke-width="1"/><path d="M0 185.5L9 190" stroke="#ccc" stroke-width="0.9"/>
<path d="M224.1 100L223.8 110.8L223 118.7L221.7 125.8L219.8 132.2L217.4 138.3L214.5 143.9L211 149.1L207.1 153.9L202.6 158.4L197.6 162.5L192.2 166.3L186.2 169.6L179.8 172.6L172.9 175.2L165.5 177.4L157.5 179.3L148.9 180.7L139.6 181.7L129.1 182.3L114.8 182.5L100.5 182.3L90 181.7L80.7 180.7L72.1 179.3L64.1 177.4L56.7 175.2L49.8 172.6L43.4 169.6L37.4 166.3L32 162.5L27 158.4L22.5 153.9L18.6 149.1L15.1 143.9L12.2 138.3L9.8 132.2L7.9 125.8L6.6 118.7L5.8 110.8L5.5 100L5.8 92.3L6.8 84.7L8.5 77.1L10.8 69.7L13.8 62.5L17.4 55.5L21.6 48.8L26.4 42.4L31.7 36.4L37.5 30.7L43.8 25.5L50.6 20.7L57.7 16.4L65.2 12.7L73 9.5L81 6.8L89.3 4.7L97.7 3.2L106.2 2.3L114.8 2L123.4 2.3L131.9 3.2L140.3 4.7L148.6 6.8L156.6 9.5L164.4 12.7L171.9 16.4L179 20.7L185.8 25.5L192.1 30.7L197.9 36.4L203.2 42.4L208 48.8L212.2 55.5L215.8 62.5L218.8 69.7L221.1 77.1L222.8 84.7L223.8 92.3Z" fill="#424242" stroke="#8c8c8c" stroke-width="1.1"/>
<g clip-path="url(#ct1)">
<path d="M214.8 100L214.6 110.6L213.9 117.7L212.7 123.8L211.1 129.3L209.1 134.4L206.6 139L203.6 143.3L200.2 147.2L196.4 150.8L192.1 154.2L187.4 157.1L182.2 159.8L176.6 162.2L170.4 164.3L163.8 166L156.6 167.4L148.7 168.6L140 169.4L129.8 169.8L114.6 170L99.4 169.8L89.2 169.4L80.5 168.6L72.6 167.4L65.4 166L58.8 164.3L52.6 162.2L47 159.8L41.8 157.1L37.1 154.2L32.8 150.8L29 147.2L25.6 143.3L22.6 139L20.1 134.4L18.1 129.3L16.5 123.8L15.3 117.7L14.6 110.6L14.4 100L14.7 93.3L15.6 86.6L17.2 80L19.3 73.6L22 67.3L25.3 61.2L29.2 55.3L33.5 49.7L38.4 44.5L43.7 39.5L49.5 35L55.7 30.8L62.2 27.1L69.1 23.8L76.3 21L83.6 18.7L91.2 16.9L98.9 15.6L106.7 14.8L114.6 14.5L122.5 14.8L130.3 15.6L138 16.9L145.6 18.7L152.9 21L160.1 23.8L167 27.1L173.5 30.8L179.7 35L185.5 39.5L190.8 44.5L195.7 49.7L200 55.3L203.9 61.2L207.2 67.3L209.9 73.6L212 80L213.6 86.6L214.5 93.3Z" fill="#030303"/>
<path d="M44 176L58 168Q76 164 86 159L98 146L131 146L143 159Q153 164 171 168L186 176L186 190L44 190Z" fill="#545454"/>
<path d="M113.5 172L115.5 172L116.5 186L112.5 186Z" fill="#2a2a2a"/>
<path d="M78 4L182 4L184 26Q168 19 150 20Q124 20 106 27Q98 30 92 24Q86 17 78 17Z" fill="#424242"/>
<path d="M102 17Q118 22 128 17Q140 13 160 19L160 21Q140 17 128 21Q116 25 102 20Z" fill="#1c1c1c"/>
<path d="M21.8 64.6Q24.1 56.3 29.2 49.4" fill="none" stroke="#e6e6e6" stroke-width="3.2" stroke-linecap="round"/><path d="M19.1 100.5Q18.2 90.9 20.5 81.5" fill="none" stroke="#e6e6e6" stroke-width="3.2" stroke-linecap="round"/><path d="M18.5 114.1Q18.2 123.2 21.1 131.9" fill="none" stroke="#e6e6e6" stroke-width="3.2" stroke-linecap="round"/><path d="M33.9 157Q41.6 164.3 51.1 169" fill="none" stroke="#e6e6e6" stroke-width="3.2" stroke-linecap="round"/><path d="M201.3 50.4Q206.4 57.3 208.7 65.6" fill="none" stroke="#e6e6e6" stroke-width="3.2" stroke-linecap="round"/><path d="M210.3 81.5Q212.6 90.9 211.7 100.5" fill="none" stroke="#e6e6e6" stroke-width="3.2" stroke-linecap="round"/><path d="M208.7 130.9Q211.6 122.2 211.3 113.1" fill="none" stroke="#e6e6e6" stroke-width="3.2" stroke-linecap="round"/><path d="M175.9 169Q185.4 164.3 193.1 157" fill="none" stroke="#e6e6e6" stroke-width="3.2" stroke-linecap="round"/><path d="M77.7 11.7Q85.2 8.4 93.3 8.3" fill="none" stroke="#cfcfcf" stroke-width="3.2" stroke-linecap="round"/><path d="M136.7 13.7Q151.8 13.9 166.5 17.3" fill="none" stroke="#e6e6e6" stroke-width="3.2" stroke-linecap="round"/>
</g>
<path d="M96 44C95.5 39.5 97.2 34.5 100 31C102.8 27.5 107 24.6 113 23C119 21.4 128.5 21.2 136 21.5C143.5 21.8 154 23.6 158 25C162 26.4 163.6 29.2 160 30C156.4 30.8 144.2 24.7 136.2 30C128.2 35.3 117.5 57.3 112 62C106.5 66.7 105.7 61 103 58C100.3 55 96.5 48.5 96 44Z" fill="#2c2c2c"/>
<path d="M103.1 43.3C103.4 40 104.5 36.9 107 34.2C109.5 31.5 112.9 28.7 117.8 27.3C122.7 25.9 129.8 25.5 136.2 25.8C142.6 26.1 151.1 27 156.2 28.9C161.3 30.8 164.6 33.8 167 37.2C169.4 40.6 170.5 45.4 170.9 49.4C171.3 53.4 170.7 57.5 169.3 61.5C167.9 65.5 165.6 70.2 162.4 73.7C159.2 77.2 154.5 80.4 150.1 82.8C145.7 85.2 140.3 87.8 136.2 88.1C132.1 88.3 128.1 86.4 125.5 84.3C122.9 82.2 122.1 78.5 120.8 75.2C119.5 71.9 119.3 67.1 117.8 64.6C116.3 62.1 113.7 61.8 111.6 60C109.5 58.2 106.8 56.7 105.4 53.9C104 51.1 102.8 46.6 103.1 43.3Z" fill="#808080"/>
<ellipse cx="98.5" cy="75" rx="11.4" ry="9.4" fill="#808080"/>
<path d="M121.5 86L126.5 86L125.5 101L123 101Z" fill="#5e5e5e"/><circle cx="124.2" cy="93" r="1.3" fill="#111"/>
<circle cx="124.3" cy="111.8" r="9" fill="#7d7d7d"/>
<g transform="translate(0 0)">
<path d="M102.4 145L85.4 160L90.4 164.5L104.9 157L111.2 165L111.6 178L117.2 178L117.6 165L123.9 157L138.4 164.5L143.4 160L126.4 145Z" fill="#e6e6e6"/>
<circle cx="114.4" cy="134.2" r="15.5" fill="#efefef"/>
<circle cx="114.4" cy="133.4" r="10.9" fill="#b9b9b9"/>
<circle cx="114.4" cy="152" r="4.4" fill="#606060"/>
</g>
<circle cx="31.8" cy="135.2" r="4.3" fill="#7f7f7f"/>
<circle cx="72.8" cy="109.5" r="2.2" fill="#666"/>
</g>
<g transform="translate(1540.8 738) scale(1.0044 0.9989)">
<rect width="228" height="190" fill="#020202"/>
<path d="M208 190L228 181" stroke="#e8e8e8" stroke-width="1"/><path d="M0 185.5L9 190" stroke="#ccc" stroke-width="0.9"/>
<path d="M224.1 100L223.8 110.8L223 118.7L221.7 125.8L219.8 132.2L217.4 138.3L214.5 143.9L211 149.1L207.1 153.9L202.6 158.4L197.6 162.5L192.2 166.3L186.2 169.6L179.8 172.6L172.9 175.2L165.5 177.4L157.5 179.3L148.9 180.7L139.6 181.7L129.1 182.3L114.8 182.5L100.5 182.3L90 181.7L80.7 180.7L72.1 179.3L64.1 177.4L56.7 175.2L49.8 172.6L43.4 169.6L37.4 166.3L32 162.5L27 158.4L22.5 153.9L18.6 149.1L15.1 143.9L12.2 138.3L9.8 132.2L7.9 125.8L6.6 118.7L5.8 110.8L5.5 100L5.8 89.3L6.7 80.5L8.1 72.3L10.2 64.7L12.8 57.5L15.9 50.7L19.6 44.3L23.9 38.3L28.7 32.7L33.9 27.5L39.7 22.8L45.9 18.5L52.6 14.7L59.8 11.4L67.4 8.5L75.4 6.2L84 4.4L93 3.1L102.8 2.3L114.8 2L126.8 2.3L136.6 3.1L145.6 4.4L154.2 6.2L162.2 8.5L169.8 11.4L177 14.7L183.7 18.5L189.9 22.8L195.7 27.5L200.9 32.7L205.7 38.3L210 44.3L213.7 50.7L216.8 57.5L219.4 64.7L221.5 72.3L222.9 80.5L223.8 89.3Z" fill="#424242" stroke="#8c8c8c" stroke-width="1.1"/>
<g clip-path="url(#ct2)">
<path d="M214.8 100L214.6 110.6L213.9 117.7L212.7 123.8L211.1 129.3L209.1 134.4L206.6 139L203.6 143.3L200.2 147.2L196.4 150.8L192.1 154.2L187.4 157.1L182.2 159.8L176.6 162.2L170.4 164.3L163.8 166L156.6 167.4L148.7 168.6L140 169.4L129.8 169.8L114.6 170L99.4 169.8L89.2 169.4L80.5 168.6L72.6 167.4L65.4 166L58.8 164.3L52.6 162.2L47 159.8L41.8 157.1L37.1 154.2L32.8 150.8L29 147.2L25.6 143.3L22.6 139L20.1 134.4L18.1 129.3L16.5 123.8L15.3 117.7L14.6 110.6L14.4 100L14.7 90.7L15.5 83L16.8 75.9L18.7 69.2L21.1 62.9L24 57L27.4 51.4L31.3 46.1L35.6 41.3L40.5 36.7L45.8 32.6L51.5 28.9L57.6 25.6L64.2 22.7L71.1 20.2L78.5 18.2L86.3 16.6L94.6 15.4L103.6 14.7L114.6 14.5L125.6 14.7L134.6 15.4L142.9 16.6L150.7 18.2L158.1 20.2L165 22.7L171.6 25.6L177.7 28.9L183.4 32.6L188.7 36.7L193.6 41.3L197.9 46.1L201.8 51.4L205.2 57L208.1 62.9L210.5 69.2L212.4 75.9L213.7 83L214.5 90.7Z" fill="#030303"/>
<path d="M44 176L58 168Q76 164 86 159L98 146L131 146L143 159Q153 164 171 168L186 176L186 190L44 190Z" fill="#545454"/>
<path d="M113.5 172L115.5 172L116.5 186L112.5 186Z" fill="#2a2a2a"/>
<path d="M62 4L186 4L188 24L168 19L62 19Z" fill="#424242"/>
<path d="M92 13Q112 17 122 23Q134 17 152 13L146 12Q132 15 122 19Q110 15 98 12Z" fill="#1a1a1a"/>
<path d="M28.2 45.5Q31.2 39 36.8 34.5" fill="none" stroke="#e6e6e6" stroke-width="3.2" stroke-linecap="round"/><path d="M18.8 77.9Q18.4 70.7 21.2 64.1" fill="none" stroke="#e6e6e6" stroke-width="3.2" stroke-linecap="round"/><path d="M16.2 94.3Q14.9 102.9 16.8 111.3" fill="none" stroke="#e6e6e6" stroke-width="3.2" stroke-linecap="round"/><path d="M23.4 134.1Q27.6 143.8 34.6 151.9" fill="none" stroke="#e6e6e6" stroke-width="3.2" stroke-linecap="round"/><path d="M194.2 31.5Q199.8 36 202.8 42.5" fill="none" stroke="#e6e6e6" stroke-width="3.2" stroke-linecap="round"/><path d="M207.3 62.1Q210.1 68.7 209.7 75.9" fill="none" stroke="#e6e6e6" stroke-width="3.2" stroke-linecap="round"/><path d="M211.2 105Q213.1 97.1 211.8 89" fill="none" stroke="#e6e6e6" stroke-width="3.2" stroke-linecap="round"/><path d="M196.2 146.1Q202.9 137.8 206.8 127.9" fill="none" stroke="#e6e6e6" stroke-width="3.2" stroke-linecap="round"/><path d="M56.9 15.7Q62.5 12 69.1 11.3" fill="none" stroke="#cfcfcf" stroke-width="3.2" stroke-linecap="round"/><path d="M159.9 11.3Q166.5 12 172.1 15.7" fill="none" stroke="#cfcfcf" stroke-width="3.2" stroke-linecap="round"/>
<ellipse cx="67" cy="164.6" rx="8" ry="2.6" fill="#f4f4f4"/><ellipse cx="165.5" cy="163" rx="8.5" ry="2.6" fill="#f4f4f4"/>
</g>
<path d="M64.7 19L160 19Q164 38 166.5 59.5L150 61.3Q139 70 127.8 75.1Q108 83 87.7 85.9Q74 86 66.2 81.3Q58 75 57 68Q58 58 58.5 44Q59 28 64.7 19Z" fill="#808080"/>
<path d="M160 19L176 19Q172 30 171 44L166.5 59.5Q164 38 160 19Z" fill="#3a3a3a"/>
<circle cx="120.8" cy="108.2" r="9" fill="#7d7d7d"/>
<g transform="translate(0 0)">
<path d="M101.2 145L84.2 160L89.2 164.5L103.7 157L110 165L110.4 178L116 178L116.4 165L122.7 157L137.2 164.5L142.2 160L125.2 145Z" fill="#e6e6e6"/>
<circle cx="113.2" cy="134.2" r="18" fill="#efefef"/>
<circle cx="113.2" cy="133.4" r="13.4" fill="#d0d0d0"/>
<circle cx="113.2" cy="152" r="4.4" fill="#606060"/>
</g>
<circle cx="93.9" cy="115.9" r="4.6" fill="#7f7f7f"/>
</g>
<rect x="1299.7" y="867" width="14.8" height="13.6" fill="none" stroke="#e0291f" stroke-width="1.4"/>
<rect x="1628.2" y="846.7" width="12.6" height="14.9" fill="none" stroke="#e0291f" stroke-width="1.4"/>
<path d="M1687.6 798.3L1663.3 822.4L1660.5 813.9L1649.8 839.3L1675.2 828.7L1666.8 825.9L1691 801.7Z" fill="#fc0a12"/>
<text x="1521.5" y="996.6" font-size="24.5" text-anchor="middle" textLength="193.8" lengthAdjust="spacingAndGlyphs" fill="#231815" stroke="#231815">2nd therapy cycle</text>
<g transform="translate(1274.1 1017.1) scale(0.9982 1.0132)">
<rect width="228" height="190" fill="#020202"/>
<path d="M208 190L228 181" stroke="#e8e8e8" stroke-width="1"/><path d="M0 185.5L9 190" stroke="#ccc" stroke-width="0.9"/>
<path d="M224.1 100L223.8 110.8L223 118.7L221.7 125.8L219.8 132.2L217.4 138.3L214.5 143.9L211 149.1L207.1 153.9L202.6 158.4L197.6 162.5L192.2 166.3L186.2 169.6L179.8 172.6L172.9 175.2L165.5 177.4L157.5 179.3L148.9 180.7L139.6 181.7L129.1 182.3L114.8 182.5L100.5 182.3L90 181.7L80.7 180.7L72.1 179.3L64.1 177.4L56.7 175.2L49.8 172.6L43.4 169.6L37.4 166.3L32 162.5L27 158.4L22.5 153.9L18.6 149.1L15.1 143.9L12.2 138.3L9.8 132.2L7.9 125.8L6.6 118.7L5.8 110.8L5.5 100L5.8 92.3L6.8 84.7L8.5 77.1L10.8 69.7L13.8 62.5L17.4 55.5L21.6 48.8L26.4 42.4L31.7 36.4L37.5 30.7L43.8 25.5L50.6 20.7L57.7 16.4L65.2 12.7L73 9.5L81 6.8L89.3 4.7L97.7 3.2L106.2 2.3L114.8 2L123.4 2.3L131.9 3.2L140.3 4.7L148.6 6.8L156.6 9.5L164.4 12.7L171.9 16.4L179 20.7L185.8 25.5L192.1 30.7L197.9 36.4L203.2 42.4L208 48.8L212.2 55.5L215.8 62.5L218.8 69.7L221.1 77.1L222.8 84.7L223.8 92.3Z" fill="#424242" stroke="#8c8c8c" stroke-width="1.1"/>
<g clip-path="url(#ct3)">
<path d="M214.8 100L214.6 110.6L213.9 117.7L212.7 123.8L211.1 129.3L209.1 134.4L206.6 139L203.6 143.3L200.2 147.2L196.4 150.8L192.1 154.2L187.4 157.1L182.2 159.8L176.6 162.2L170.4 164.3L163.8 166L156.6 167.4L148.7 168.6L140 169.4L129.8 169.8L114.6 170L99.4 169.8L89.2 169.4L80.5 168.6L72.6 167.4L65.4 166L58.8 164.3L52.6 162.2L47 159.8L41.8 157.1L37.1 154.2L32.8 150.8L29 147.2L25.6 143.3L22.6 139L20.1 134.4L18.1 129.3L16.5 123.8L15.3 117.7L14.6 110.6L14.4 100L14.7 93.3L15.6 86.6L17.2 80L19.3 73.6L22 67.3L25.3 61.2L29.2 55.3L33.5 49.7L38.4 44.5L43.7 39.5L49.5 35L55.7 30.8L62.2 27.1L69.1 23.8L76.3 21L83.6 18.7L91.2 16.9L98.9 15.6L106.7 14.8L114.6 14.5L122.5 14.8L130.3 15.6L138 16.9L145.6 18.7L152.9 21L160.1 23.8L167 27.1L173.5 30.8L179.7 35L185.5 39.5L190.8 44.5L195.7 49.7L200 55.3L203.9 61.2L207.2 67.3L209.9 73.6L212 80L213.6 86.6L214.5 93.3Z" fill="#030303"/>
<path d="M44 176L58 168Q76 164 86 159L98 146L131 146L143 159Q153 164 171 168L186 176L186 190L44 190Z" fill="#545454"/>
<path d="M113.5 172L115.5 172L116.5 186L112.5 186Z" fill="#2a2a2a"/>
<path d="M78 4L182 4L184 26Q168 19 150 20Q124 20 106 27Q98 30 92 24Q86 17 78 17Z" fill="#424242"/>
<path d="M102 17Q118 22 128 17Q140 13 160 19L160 21Q140 17 128 21Q116 25 102 20Z" fill="#1c1c1c"/>
<path d="M21.8 64.6Q24.1 56.3 29.2 49.4" fill="none" stroke="#e6e6e6" stroke-width="3.2" stroke-linecap="round"/><path d="M19.1 100.5Q18.2 90.9 20.5 81.5" fill="none" stroke="#e6e6e6" stroke-width="3.2" stroke-linecap="round"/><path d="M18.5 114.1Q18.2 123.2 21.1 131.9" fill="none" stroke="#e6e6e6" stroke-width="3.2" stroke-linecap="round"/><path d="M33.9 157Q41.6 164.3 51.1 169" fill="none" stroke="#e6e6e6" stroke-width="3.2" stroke-linecap="round"/><path d="M201.3 50.4Q206.4 57.3 208.7 65.6" fill="none" stroke="#e6e6e6" stroke-width="3.2" stroke-linecap="round"/><path d="M210.3 81.5Q212.6 90.9 211.7 100.5" fill="none" stroke="#e6e6e6" stroke-width="3.2" stroke-linecap="round"/><path d="M208.7 130.9Q211.6 122.2 211.3 113.1" fill="none" stroke="#e6e6e6" stroke-width="3.2" stroke-linecap="round"/><path d="M175.9 169Q185.4 164.3 193.1 157" fill="none" stroke="#e6e6e6" stroke-width="3.2" stroke-linecap="round"/><path d="M77.7 11.7Q85.2 8.4 93.3 8.3" fill="none" stroke="#cfcfcf" stroke-width="3.2" stroke-linecap="round"/><path d="M136.7 13.7Q151.8 13.9 166.5 17.3" fill="none" stroke="#e6e6e6" stroke-width="3.2" stroke-linecap="round"/>
</g>
<path d="M96 44C95.5 39.5 97.2 34.5 100 31C102.8 27.5 107 24.6 113 23C119 21.4 128.5 21.2 136 21.5C143.5 21.8 154 23.6 158 25C162 26.4 163.6 29.2 160 30C156.4 30.8 144.2 24.7 136.2 30C128.2 35.3 117.5 57.3 112 62C106.5 66.7 105.7 61 103 58C100.3 55 96.5 48.5 96 44Z" fill="#2c2c2c"/>
<path d="M103.1 43.3C103.4 40 104.5 36.9 107 34.2C109.5 31.5 112.9 28.7 117.8 27.3C122.7 25.9 129.8 25.5 136.2 25.8C142.6 26.1 151.1 27 156.2 28.9C161.3 30.8 164.6 33.8 167 37.2C169.4 40.6 170.5 45.4 170.9 49.4C171.3 53.4 170.7 57.5 169.3 61.5C167.9 65.5 165.6 70.2 162.4 73.7C159.2 77.2 154.5 80.4 150.1 82.8C145.7 85.2 140.3 87.8 136.2 88.1C132.1 88.3 128.1 86.4 125.5 84.3C122.9 82.2 122.1 78.5 120.8 75.2C119.5 71.9 119.3 67.1 117.8 64.6C116.3 62.1 113.7 61.8 111.6 60C109.5 58.2 106.8 56.7 105.4 53.9C104 51.1 102.8 46.6 103.1 43.3Z" fill="#808080"/>
<ellipse cx="98.5" cy="75" rx="11.4" ry="9.4" fill="#808080"/>
<path d="M121.5 86L126.5 86L125.5 101L123 101Z" fill="#5e5e5e"/><circle cx="124.2" cy="93" r="1.3" fill="#111"/>
<circle cx="124.3" cy="111.8" r="9" fill="#7d7d7d"/>
<g transform="translate(0 0)">
<path d="M102.4 145L85.4 160L90.4 164.5L104.9 157L111.2 165L111.6 178L117.2 178L117.6 165L123.9 157L138.4 164.5L143.4 160L126.4 145Z" fill="#e6e6e6"/>
<circle cx="114.4" cy="134.2" r="15.5" fill="#efefef"/>
<circle cx="114.4" cy="133.4" r="10.9" fill="#b9b9b9"/>
<circle cx="114.4" cy="152" r="4.4" fill="#606060"/>
</g>
<circle cx="33.5" cy="134.5" r="7.2" fill="#7f7f7f"/>
</g>
<g transform="translate(1546.9 1017.1) scale(0.9491 1.0132)">
<rect width="228" height="190" fill="#020202"/>
<path d="M208 190L228 181" stroke="#e8e8e8" stroke-width="1"/><path d="M0 185.5L9 190" stroke="#ccc" stroke-width="0.9"/>
<path d="M224.1 100L223.8 110.8L223 118.7L221.7 125.8L219.8 132.2L217.4 138.3L214.5 143.9L211 149.1L207.1 153.9L202.6 158.4L197.6 162.5L192.2 166.3L186.2 169.6L179.8 172.6L172.9 175.2L165.5 177.4L157.5 179.3L148.9 180.7L139.6 181.7L129.1 182.3L114.8 182.5L100.5 182.3L90 181.7L80.7 180.7L72.1 179.3L64.1 177.4L56.7 175.2L49.8 172.6L43.4 169.6L37.4 166.3L32 162.5L27 158.4L22.5 153.9L18.6 149.1L15.1 143.9L12.2 138.3L9.8 132.2L7.9 125.8L6.6 118.7L5.8 110.8L5.5 100L5.8 89.3L6.7 80.5L8.1 72.3L10.2 64.7L12.8 57.5L15.9 50.7L19.6 44.3L23.9 38.3L28.7 32.7L33.9 27.5L39.7 22.8L45.9 18.5L52.6 14.7L59.8 11.4L67.4 8.5L75.4 6.2L84 4.4L93 3.1L102.8 2.3L114.8 2L126.8 2.3L136.6 3.1L145.6 4.4L154.2 6.2L162.2 8.5L169.8 11.4L177 14.7L183.7 18.5L189.9 22.8L195.7 27.5L200.9 32.7L205.7 38.3L210 44.3L213.7 50.7L216.8 57.5L219.4 64.7L221.5 72.3L222.9 80.5L223.8 89.3Z" fill="#424242" stroke="#8c8c8c" stroke-width="1.1"/>
<g clip-path="url(#ct4)">
<path d="M214.8 100L214.6 110.6L213.9 117.7L212.7 123.8L211.1 129.3L209.1 134.4L206.6 139L203.6 143.3L200.2 147.2L196.4 150.8L192.1 154.2L187.4 157.1L182.2 159.8L176.6 162.2L170.4 164.3L163.8 166L156.6 167.4L148.7 168.6L140 169.4L129.8 169.8L114.6 170L99.4 169.8L89.2 169.4L80.5 168.6L72.6 167.4L65.4 166L58.8 164.3L52.6 162.2L47 159.8L41.8 157.1L37.1 154.2L32.8 150.8L29 147.2L25.6 143.3L22.6 139L20.1 134.4L18.1 129.3L16.5 123.8L15.3 117.7L14.6 110.6L14.4 100L14.7 90.7L15.5 83L16.8 75.9L18.7 69.2L21.1 62.9L24 57L27.4 51.4L31.3 46.1L35.6 41.3L40.5 36.7L45.8 32.6L51.5 28.9L57.6 25.6L64.2 22.7L71.1 20.2L78.5 18.2L86.3 16.6L94.6 15.4L103.6 14.7L114.6 14.5L125.6 14.7L134.6 15.4L142.9 16.6L150.7 18.2L158.1 20.2L165 22.7L171.6 25.6L177.7 28.9L183.4 32.6L188.7 36.7L193.6 41.3L197.9 46.1L201.8 51.4L205.2 57L208.1 62.9L210.5 69.2L212.4 75.9L213.7 83L214.5 90.7Z" fill="#030303"/>
<path d="M44 176L58 168Q76 164 86 159L98 146L131 146L143 159Q153 164 171 168L186 176L186 190L44 190Z" fill="#545454"/>
<path d="M113.5 172L115.5 172L116.5 186L112.5 186Z" fill="#2a2a2a"/>
<path d="M62 4L186 4L188 24L168 19L62 19Z" fill="#424242"/>
<path d="M92 13Q112 17 122 23Q134 17 152 13L146 12Q132 15 122 19Q110 15 98 12Z" fill="#1a1a1a"/>
<path d="M28.2 45.5Q31.2 39 36.8 34.5" fill="none" stroke="#e6e6e6" stroke-width="3.2" stroke-linecap="round"/><path d="M18.8 77.9Q18.4 70.7 21.2 64.1" fill="none" stroke="#e6e6e6" stroke-width="3.2" stroke-linecap="round"/><path d="M16.2 94.3Q14.9 102.9 16.8 111.3" fill="none" stroke="#e6e6e6" stroke-width="3.2" stroke-linecap="round"/><path d="M23.4 134.1Q27.6 143.8 34.6 151.9" fill="none" stroke="#e6e6e6" stroke-width="3.2" stroke-linecap="round"/><path d="M194.2 31.5Q199.8 36 202.8 42.5" fill="none" stroke="#e6e6e6" stroke-width="3.2" stroke-linecap="round"/><path d="M207.3 62.1Q210.1 68.7 209.7 75.9" fill="none" stroke="#e6e6e6" stroke-width="3.2" stroke-linecap="round"/><path d="M211.2 105Q213.1 97.1 211.8 89" fill="none" stroke="#e6e6e6" stroke-width="3.2" stroke-linecap="round"/><path d="M196.2 146.1Q202.9 137.8 206.8 127.9" fill="none" stroke="#e6e6e6" stroke-width="3.2" stroke-linecap="round"/><path d="M56.9 15.7Q62.5 12 69.1 11.3" fill="none" stroke="#cfcfcf" stroke-width="3.2" stroke-linecap="round"/><path d="M159.9 11.3Q166.5 12 172.1 15.7" fill="none" stroke="#cfcfcf" stroke-width="3.2" stroke-linecap="round"/>
<ellipse cx="67" cy="164.6" rx="8" ry="2.6" fill="#f4f4f4"/><ellipse cx="165.5" cy="163" rx="8.5" ry="2.6" fill="#f4f4f4"/>
</g>
<path d="M64.7 19L160 19Q164 38 166.5 59.5L150 61.3Q139 70 127.8 75.1Q108 83 87.7 85.9Q74 86 66.2 81.3Q58 75 57 68Q58 58 58.5 44Q59 28 64.7 19Z" fill="#808080"/>
<path d="M160 19L176 19Q172 30 171 44L166.5 59.5Q164 38 160 19Z" fill="#3a3a3a"/>
<circle cx="120.8" cy="108.2" r="9" fill="#7d7d7d"/>
<g transform="translate(0 0)">
<path d="M101.2 145L84.2 160L89.2 164.5L103.7 157L110 165L110.4 178L116 178L116.4 165L122.7 157L137.2 164.5L142.2 160L125.2 145Z" fill="#e6e6e6"/>
<circle cx="113.2" cy="134.2" r="18" fill="#efefef"/>
<circle cx="113.2" cy="133.4" r="13.4" fill="#d0d0d0"/>
<circle cx="113.2" cy="152" r="4.4" fill="#606060"/>
</g>
<circle cx="98" cy="118" r="5.5" fill="#7f7f7f"/>
</g>
<rect x="1297.2" y="1142" width="19.8" height="19.5" fill="none" stroke="#e0291f" stroke-width="1.4"/>
<rect x="1627.5" y="1128.7" width="16" height="15.6" fill="none" stroke="#e0291f" stroke-width="1.4"/>
<path d="M1358.3 1093.3L1333.6 1117.7L1330.8 1109.3L1320 1134.6L1345.4 1124.1L1337 1121.2L1361.7 1096.7Z" fill="#fc0a12"/>
<path d="M1690.3 1070.3L1665.5 1095L1662.7 1086.5L1652 1111.9L1677.4 1101.3L1669 1098.5L1693.7 1073.7Z" fill="#fc0a12"/>
<text x="1520.7" y="1277.9" font-size="24.5" text-anchor="middle" textLength="186.9" lengthAdjust="spacingAndGlyphs" fill="#231815" stroke="#231815">4th therapy cycle</text>
<g transform="translate(1271.1 1295) scale(1.0259 1.0137)">
<rect width="228" height="190" fill="#020202"/>
<path d="M208 190L228 181" stroke="#e8e8e8" stroke-width="1"/><path d="M0 185.5L9 190" stroke="#ccc" stroke-width="0.9"/>
<path d="M224.1 100L223.8 110.8L223 118.7L221.7 125.8L219.8 132.2L217.4 138.3L214.5 143.9L211 149.1L207.1 153.9L202.6 158.4L197.6 162.5L192.2 166.3L186.2 169.6L179.8 172.6L172.9 175.2L165.5 177.4L157.5 179.3L148.9 180.7L139.6 181.7L129.1 182.3L114.8 182.5L100.5 182.3L90 181.7L80.7 180.7L72.1 179.3L64.1 177.4L56.7 175.2L49.8 172.6L43.4 169.6L37.4 166.3L32 162.5L27 158.4L22.5 153.9L18.6 149.1L15.1 143.9L12.2 138.3L9.8 132.2L7.9 125.8L6.6 118.7L5.8 110.8L5.5 100L5.8 92.3L6.8 84.7L8.5 77.1L10.8 69.7L13.8 62.5L17.4 55.5L21.6 48.8L26.4 42.4L31.7 36.4L37.5 30.7L43.8 25.5L50.6 20.7L57.7 16.4L65.2 12.7L73 9.5L81 6.8L89.3 4.7L97.7 3.2L106.2 2.3L114.8 2L123.4 2.3L131.9 3.2L140.3 4.7L148.6 6.8L156.6 9.5L164.4 12.7L171.9 16.4L179 20.7L185.8 25.5L192.1 30.7L197.9 36.4L203.2 42.4L208 48.8L212.2 55.5L215.8 62.5L218.8 69.7L221.1 77.1L222.8 84.7L223.8 92.3Z" fill="#424242" stroke="#8c8c8c" stroke-width="1.1"/>
<g clip-path="url(#ct5)">
<path d="M214.8 100L214.6 110.6L213.9 117.7L212.7 123.8L211.1 129.3L209.1 134.4L206.6 139L203.6 143.3L200.2 147.2L196.4 150.8L192.1 154.2L187.4 157.1L182.2 159.8L176.6 162.2L170.4 164.3L163.8 166L156.6 167.4L148.7 168.6L140 169.4L129.8 169.8L114.6 170L99.4 169.8L89.2 169.4L80.5 168.6L72.6 167.4L65.4 166L58.8 164.3L52.6 162.2L47 159.8L41.8 157.1L37.1 154.2L32.8 150.8L29 147.2L25.6 143.3L22.6 139L20.1 134.4L18.1 129.3L16.5 123.8L15.3 117.7L14.6 110.6L14.4 100L14.7 93.3L15.6 86.6L17.2 80L19.3 73.6L22 67.3L25.3 61.2L29.2 55.3L33.5 49.7L38.4 44.5L43.7 39.5L49.5 35L55.7 30.8L62.2 27.1L69.1 23.8L76.3 21L83.6 18.7L91.2 16.9L98.9 15.6L106.7 14.8L114.6 14.5L122.5 14.8L130.3 15.6L138 16.9L145.6 18.7L152.9 21L160.1 23.8L167 27.1L173.5 30.8L179.7 35L185.5 39.5L190.8 44.5L195.7 49.7L200 55.3L203.9 61.2L207.2 67.3L209.9 73.6L212 80L213.6 86.6L214.5 93.3Z" fill="#030303"/>
<path d="M44 176L58 168Q76 164 86 159L98 146L131 146L143 159Q153 164 171 168L186 176L186 190L44 190Z" fill="#545454"/>
<path d="M113.5 172L115.5 172L116.5 186L112.5 186Z" fill="#2a2a2a"/>
<path d="M78 4L182 4L184 26Q168 19 150 20Q124 20 106 27Q98 30 92 24Q86 17 78 17Z" fill="#424242"/>
<path d="M102 17Q118 22 128 17Q140 13 160 19L160 21Q140 17 128 21Q116 25 102 20Z" fill="#1c1c1c"/>
<path d="M21.8 64.6Q24.1 56.3 29.2 49.4" fill="none" stroke="#e6e6e6" stroke-width="3.2" stroke-linecap="round"/><path d="M19.1 100.5Q18.2 90.9 20.5 81.5" fill="none" stroke="#e6e6e6" stroke-width="3.2" stroke-linecap="round"/><path d="M18.5 114.1Q18.2 123.2 21.1 131.9" fill="none" stroke="#e6e6e6" stroke-width="3.2" stroke-linecap="round"/><path d="M33.9 157Q41.6 164.3 51.1 169" fill="none" stroke="#e6e6e6" stroke-width="3.2" stroke-linecap="round"/><path d="M201.3 50.4Q206.4 57.3 208.7 65.6" fill="none" stroke="#e6e6e6" stroke-width="3.2" stroke-linecap="round"/><path d="M210.3 81.5Q212.6 90.9 211.7 100.5" fill="none" stroke="#e6e6e6" stroke-width="3.2" stroke-linecap="round"/><path d="M208.7 130.9Q211.6 122.2 211.3 113.1" fill="none" stroke="#e6e6e6" stroke-width="3.2" stroke-linecap="round"/><path d="M175.9 169Q185.4 164.3 193.1 157" fill="none" stroke="#e6e6e6" stroke-width="3.2" stroke-linecap="round"/><path d="M77.7 11.7Q85.2 8.4 93.3 8.3" fill="none" stroke="#cfcfcf" stroke-width="3.2" stroke-linecap="round"/><path d="M136.7 13.7Q151.8 13.9 166.5 17.3" fill="none" stroke="#e6e6e6" stroke-width="3.2" stroke-linecap="round"/>
</g>
<path d="M100.8 43.6C103.1 38.9 106.8 32.8 111.8 29.4C116.8 26 124.3 23.9 130.5 23.1C136.7 22.3 143.7 22.8 149.2 24.6C154.7 26.4 159.9 29.9 163.3 34.1C166.7 38.3 169 44.6 169.5 49.9C170 55.2 168.7 60.7 166.4 65.7C164.1 70.7 159.9 75.7 155.5 79.9C151.1 84.1 144.1 88.6 139.9 91C135.7 93.4 133.4 95.2 130.5 94.2C127.6 93.2 125 87.9 122.7 84.7C120.4 81.5 118.8 75.5 116.4 75.2C114.1 74.9 111.4 81.8 108.6 83.1C105.8 84.4 101.5 84.9 99.3 83.1C97.1 81.2 95.8 76.2 95.5 72C95.2 67.8 96.8 62.5 97.7 57.8C98.6 53.1 98.5 48.3 100.8 43.6Z" fill="#808080"/>
<path d="M121.5 86L126.5 86L125.5 101L123 101Z" fill="#5e5e5e"/><circle cx="124.2" cy="93" r="1.3" fill="#111"/>
<circle cx="126.8" cy="113.8" r="9" fill="#7d7d7d"/>
<g transform="translate(0 3)">
<path d="M102.4 145L85.4 160L90.4 164.5L104.9 157L111.2 165L111.6 178L117.2 178L117.6 165L123.9 157L138.4 164.5L143.4 160L126.4 145Z" fill="#e6e6e6"/>
<circle cx="114.4" cy="134.2" r="15.5" fill="#efefef"/>
<circle cx="114.4" cy="133.4" r="10.9" fill="#b9b9b9"/>
<circle cx="114.4" cy="152" r="4.4" fill="#606060"/>
</g>
<circle cx="33" cy="138" r="4" fill="#7f7f7f"/>
</g>
<g transform="translate(1543.9 1295.8) scale(0.9737 1.0116)">
<rect width="228" height="190" fill="#020202"/>
<path d="M208 190L228 181" stroke="#e8e8e8" stroke-width="1"/><path d="M0 185.5L9 190" stroke="#ccc" stroke-width="0.9"/>
<path d="M224.1 100L223.8 110.8L223 118.7L221.7 125.8L219.8 132.2L217.4 138.3L214.5 143.9L211 149.1L207.1 153.9L202.6 158.4L197.6 162.5L192.2 166.3L186.2 169.6L179.8 172.6L172.9 175.2L165.5 177.4L157.5 179.3L148.9 180.7L139.6 181.7L129.1 182.3L114.8 182.5L100.5 182.3L90 181.7L80.7 180.7L72.1 179.3L64.1 177.4L56.7 175.2L49.8 172.6L43.4 169.6L37.4 166.3L32 162.5L27 158.4L22.5 153.9L18.6 149.1L15.1 143.9L12.2 138.3L9.8 132.2L7.9 125.8L6.6 118.7L5.8 110.8L5.5 100L5.8 89.3L6.7 80.5L8.1 72.3L10.2 64.7L12.8 57.5L15.9 50.7L19.6 44.3L23.9 38.3L28.7 32.7L33.9 27.5L39.7 22.8L45.9 18.5L52.6 14.7L59.8 11.4L67.4 8.5L75.4 6.2L84 4.4L93 3.1L102.8 2.3L114.8 2L126.8 2.3L136.6 3.1L145.6 4.4L154.2 6.2L162.2 8.5L169.8 11.4L177 14.7L183.7 18.5L189.9 22.8L195.7 27.5L200.9 32.7L205.7 38.3L210 44.3L213.7 50.7L216.8 57.5L219.4 64.7L221.5 72.3L222.9 80.5L223.8 89.3Z" fill="#424242" stroke="#8c8c8c" stroke-width="1.1"/>
<g clip-path="url(#ct6)">
<path d="M214.8 100L214.6 110.6L213.9 117.7L212.7 123.8L211.1 129.3L209.1 134.4L206.6 139L203.6 143.3L200.2 147.2L196.4 150.8L192.1 154.2L187.4 157.1L182.2 159.8L176.6 162.2L170.4 164.3L163.8 166L156.6 167.4L148.7 168.6L140 169.4L129.8 169.8L114.6 170L99.4 169.8L89.2 169.4L80.5 168.6L72.6 167.4L65.4 166L58.8 164.3L52.6 162.2L47 159.8L41.8 157.1L37.1 154.2L32.8 150.8L29 147.2L25.6 143.3L22.6 139L20.1 134.4L18.1 129.3L16.5 123.8L15.3 117.7L14.6 110.6L14.4 100L14.7 90.7L15.5 83L16.8 75.9L18.7 69.2L21.1 62.9L24 57L27.4 51.4L31.3 46.1L35.6 41.3L40.5 36.7L45.8 32.6L51.5 28.9L57.6 25.6L64.2 22.7L71.1 20.2L78.5 18.2L86.3 16.6L94.6 15.4L103.6 14.7L114.6 14.5L125.6 14.7L134.6 15.4L142.9 16.6L150.7 18.2L158.1 20.2L165 22.7L171.6 25.6L177.7 28.9L183.4 32.6L188.7 36.7L193.6 41.3L197.9 46.1L201.8 51.4L205.2 57L208.1 62.9L210.5 69.2L212.4 75.9L213.7 83L214.5 90.7Z" fill="#030303"/>
<path d="M44 176L58 168Q76 164 86 159L98 146L131 146L143 159Q153 164 171 168L186 176L186 190L44 190Z" fill="#545454"/>
<path d="M113.5 172L115.5 172L116.5 186L112.5 186Z" fill="#2a2a2a"/>
<path d="M62 4L186 4L188 24L168 19L62 19Z" fill="#424242"/>
<path d="M92 13Q112 17 122 23Q134 17 152 13L146 12Q132 15 122 19Q110 15 98 12Z" fill="#1a1a1a"/>
<path d="M28.2 45.5Q31.2 39 36.8 34.5" fill="none" stroke="#e6e6e6" stroke-width="3.2" stroke-linecap="round"/><path d="M18.8 77.9Q18.4 70.7 21.2 64.1" fill="none" stroke="#e6e6e6" stroke-width="3.2" stroke-linecap="round"/><path d="M16.2 94.3Q14.9 102.9 16.8 111.3" fill="none" stroke="#e6e6e6" stroke-width="3.2" stroke-linecap="round"/><path d="M23.4 134.1Q27.6 143.8 34.6 151.9" fill="none" stroke="#e6e6e6" stroke-width="3.2" stroke-linecap="round"/><path d="M194.2 31.5Q199.8 36 202.8 42.5" fill="none" stroke="#e6e6e6" stroke-width="3.2" stroke-linecap="round"/><path d="M207.3 62.1Q210.1 68.7 209.7 75.9" fill="none" stroke="#e6e6e6" stroke-width="3.2" stroke-linecap="round"/><path d="M211.2 105Q213.1 97.1 211.8 89" fill="none" stroke="#e6e6e6" stroke-width="3.2" stroke-linecap="round"/><path d="M196.2 146.1Q202.9 137.8 206.8 127.9" fill="none" stroke="#e6e6e6" stroke-width="3.2" stroke-linecap="round"/><path d="M56.9 15.7Q62.5 12 69.1 11.3" fill="none" stroke="#cfcfcf" stroke-width="3.2" stroke-linecap="round"/><path d="M159.9 11.3Q166.5 12 172.1 15.7" fill="none" stroke="#cfcfcf" stroke-width="3.2" stroke-linecap="round"/>
<ellipse cx="67" cy="164.6" rx="8" ry="2.6" fill="#f4f4f4"/><ellipse cx="165.5" cy="163" rx="8.5" ry="2.6" fill="#f4f4f4"/>
</g>
<path d="M102.1 20.7C95.8 23.9 104.6 38.2 102.1 43C99.6 47.8 91.7 46.9 87.3 49.3C82.9 51.7 77.4 52 75.8 57.3C74.2 62.6 74.9 75.5 77.4 81.1C79.9 86.7 85.6 88.8 90.6 90.7C95.5 92.6 102.7 93.9 107.1 92.3C111.5 90.7 112.1 84 117 81.1C121.9 78.2 130.7 78 136.7 74.8C142.7 71.6 148.8 67.3 153.2 62C157.6 56.7 161.7 48.8 163.1 43C164.5 37.2 165.3 30.2 161.5 27C157.7 23.8 149.9 24.9 140 23.9C130.1 22.8 108.4 17.5 102.1 20.7Z" fill="#808080"/>
<circle cx="120.5" cy="112" r="9" fill="#7d7d7d"/>
<g transform="translate(0 0)">
<path d="M101.2 145L84.2 160L89.2 164.5L103.7 157L110 165L110.4 178L116 178L116.4 165L122.7 157L137.2 164.5L142.2 160L125.2 145Z" fill="#e6e6e6"/>
<circle cx="113.2" cy="134.2" r="18" fill="#efefef"/>
<circle cx="113.2" cy="133.4" r="13.4" fill="#d0d0d0"/>
<circle cx="113.2" cy="152" r="4.4" fill="#606060"/>
</g>
<circle cx="94" cy="124" r="2.2" fill="#7f7f7f"/>
</g>
<rect x="1629.7" y="1416" width="8.2" height="8.6" fill="none" stroke="#e0291f" stroke-width="1.4"/>
<path d="M1358.3 1377L1333.6 1401.3L1330.8 1392.9L1320 1418.2L1345.5 1407.7L1337 1404.8L1361.7 1380.4Z" fill="#fc0a12"/>
<path d="M1690.3 1359.3L1665.5 1384.1L1662.7 1375.6L1652 1401L1677.4 1390.3L1668.9 1387.5L1693.7 1362.7Z" fill="#fc0a12"/>
<text x="1520.7" y="1556.3" font-size="24.5" text-anchor="middle" textLength="186.9" lengthAdjust="spacingAndGlyphs" fill="#231815" stroke="#231815">5th therapy cycle</text>
<g transform="translate(1274.9 1573) scale(0.9917 1.0253)">
<rect width="228" height="190" fill="#020202"/>
<path d="M208 190L228 181" stroke="#e8e8e8" stroke-width="1"/><path d="M0 185.5L9 190" stroke="#ccc" stroke-width="0.9"/>
<path d="M224.1 100L223.8 110.8L223 118.7L221.7 125.8L219.8 132.2L217.4 138.3L214.5 143.9L211 149.1L207.1 153.9L202.6 158.4L197.6 162.5L192.2 166.3L186.2 169.6L179.8 172.6L172.9 175.2L165.5 177.4L157.5 179.3L148.9 180.7L139.6 181.7L129.1 182.3L114.8 182.5L100.5 182.3L90 181.7L80.7 180.7L72.1 179.3L64.1 177.4L56.7 175.2L49.8 172.6L43.4 169.6L37.4 166.3L32 162.5L27 158.4L22.5 153.9L18.6 149.1L15.1 143.9L12.2 138.3L9.8 132.2L7.9 125.8L6.6 118.7L5.8 110.8L5.5 100L5.8 92.3L6.8 84.7L8.5 77.1L10.8 69.7L13.8 62.5L17.4 55.5L21.6 48.8L26.4 42.4L31.7 36.4L37.5 30.7L43.8 25.5L50.6 20.7L57.7 16.4L65.2 12.7L73 9.5L81 6.8L89.3 4.7L97.7 3.2L106.2 2.3L114.8 2L123.4 2.3L131.9 3.2L140.3 4.7L148.6 6.8L156.6 9.5L164.4 12.7L171.9 16.4L179 20.7L185.8 25.5L192.1 30.7L197.9 36.4L203.2 42.4L208 48.8L212.2 55.5L215.8 62.5L218.8 69.7L221.1 77.1L222.8 84.7L223.8 92.3Z" fill="#424242" stroke="#8c8c8c" stroke-width="1.1"/>
<g clip-path="url(#ct7)">
<path d="M214.8 100L214.6 110.6L213.9 117.7L212.7 123.8L211.1 129.3L209.1 134.4L206.6 139L203.6 143.3L200.2 147.2L196.4 150.8L192.1 154.2L187.4 157.1L182.2 159.8L176.6 162.2L170.4 164.3L163.8 166L156.6 167.4L148.7 168.6L140 169.4L129.8 169.8L114.6 170L99.4 169.8L89.2 169.4L80.5 168.6L72.6 167.4L65.4 166L58.8 164.3L52.6 162.2L47 159.8L41.8 157.1L37.1 154.2L32.8 150.8L29 147.2L25.6 143.3L22.6 139L20.1 134.4L18.1 129.3L16.5 123.8L15.3 117.7L14.6 110.6L14.4 100L14.7 93.3L15.6 86.6L17.2 80L19.3 73.6L22 67.3L25.3 61.2L29.2 55.3L33.5 49.7L38.4 44.5L43.7 39.5L49.5 35L55.7 30.8L62.2 27.1L69.1 23.8L76.3 21L83.6 18.7L91.2 16.9L98.9 15.6L106.7 14.8L114.6 14.5L122.5 14.8L130.3 15.6L138 16.9L145.6 18.7L152.9 21L160.1 23.8L167 27.1L173.5 30.8L179.7 35L185.5 39.5L190.8 44.5L195.7 49.7L200 55.3L203.9 61.2L207.2 67.3L209.9 73.6L212 80L213.6 86.6L214.5 93.3Z" fill="#030303"/>
<path d="M44 176L58 168Q76 164 86 159L98 146L131 146L143 159Q153 164 171 168L186 176L186 190L44 190Z" fill="#545454"/>
<path d="M113.5 172L115.5 172L116.5 186L112.5 186Z" fill="#2a2a2a"/>
<path d="M78 4L182 4L184 26Q168 19 150 20Q124 20 106 27Q98 30 92 24Q86 17 78 17Z" fill="#424242"/>
<path d="M102 17Q118 22 128 17Q140 13 160 19L160 21Q140 17 128 21Q116 25 102 20Z" fill="#1c1c1c"/>
<path d="M21.8 64.6Q24.1 56.3 29.2 49.4" fill="none" stroke="#e6e6e6" stroke-width="3.2" stroke-linecap="round"/><path d="M19.1 100.5Q18.2 90.9 20.5 81.5" fill="none" stroke="#e6e6e6" stroke-width="3.2" stroke-linecap="round"/><path d="M18.5 114.1Q18.2 123.2 21.1 131.9" fill="none" stroke="#e6e6e6" stroke-width="3.2" stroke-linecap="round"/><path d="M33.9 157Q41.6 164.3 51.1 169" fill="none" stroke="#e6e6e6" stroke-width="3.2" stroke-linecap="round"/><path d="M201.3 50.4Q206.4 57.3 208.7 65.6" fill="none" stroke="#e6e6e6" stroke-width="3.2" stroke-linecap="round"/><path d="M210.3 81.5Q212.6 90.9 211.7 100.5" fill="none" stroke="#e6e6e6" stroke-width="3.2" stroke-linecap="round"/><path d="M208.7 130.9Q211.6 122.2 211.3 113.1" fill="none" stroke="#e6e6e6" stroke-width="3.2" stroke-linecap="round"/><path d="M175.9 169Q185.4 164.3 193.1 157" fill="none" stroke="#e6e6e6" stroke-width="3.2" stroke-linecap="round"/><path d="M77.7 11.7Q85.2 8.4 93.3 8.3" fill="none" stroke="#cfcfcf" stroke-width="3.2" stroke-linecap="round"/><path d="M136.7 13.7Q151.8 13.9 166.5 17.3" fill="none" stroke="#e6e6e6" stroke-width="3.2" stroke-linecap="round"/>
</g>
<path d="M96 44C95.5 39.5 97.2 34.5 100 31C102.8 27.5 107 24.6 113 23C119 21.4 128.5 21.2 136 21.5C143.5 21.8 154 23.6 158 25C162 26.4 163.6 29.2 160 30C156.4 30.8 144.2 24.7 136.2 30C128.2 35.3 117.5 57.3 112 62C106.5 66.7 105.7 61 103 58C100.3 55 96.5 48.5 96 44Z" fill="#2c2c2c"/>
<path d="M103.1 43.3C103.4 40 104.5 36.9 107 34.2C109.5 31.5 112.9 28.7 117.8 27.3C122.7 25.9 129.8 25.5 136.2 25.8C142.6 26.1 151.1 27 156.2 28.9C161.3 30.8 164.6 33.8 167 37.2C169.4 40.6 170.5 45.4 170.9 49.4C171.3 53.4 170.7 57.5 169.3 61.5C167.9 65.5 165.6 70.2 162.4 73.7C159.2 77.2 154.5 80.4 150.1 82.8C145.7 85.2 140.3 87.8 136.2 88.1C132.1 88.3 128.1 86.4 125.5 84.3C122.9 82.2 122.1 78.5 120.8 75.2C119.5 71.9 119.3 67.1 117.8 64.6C116.3 62.1 113.7 61.8 111.6 60C109.5 58.2 106.8 56.7 105.4 53.9C104 51.1 102.8 46.6 103.1 43.3Z" fill="#808080"/>
<ellipse cx="98.5" cy="75" rx="11.4" ry="9.4" fill="#808080"/>
<path d="M121.5 86L126.5 86L125.5 101L123 101Z" fill="#5e5e5e"/><circle cx="124.2" cy="93" r="1.3" fill="#111"/>
<circle cx="124.3" cy="111.8" r="9" fill="#7d7d7d"/>
<g transform="translate(0 0)">
<path d="M102.4 145L85.4 160L90.4 164.5L104.9 157L111.2 165L111.6 178L117.2 178L117.6 165L123.9 157L138.4 164.5L143.4 160L126.4 145Z" fill="#e6e6e6"/>
<circle cx="114.4" cy="134.2" r="15.5" fill="#efefef"/>
<circle cx="114.4" cy="133.4" r="10.9" fill="#b9b9b9"/>
<circle cx="114.4" cy="152" r="4.4" fill="#606060"/>
</g>
<circle cx="32" cy="140" r="2.5" fill="#7f7f7f"/>
</g>
<g transform="translate(1541.6 1572.2) scale(0.9934 1.0332)">
<rect width="228" height="190" fill="#020202"/>
<path d="M208 190L228 181" stroke="#e8e8e8" stroke-width="1"/><path d="M0 185.5L9 190" stroke="#ccc" stroke-width="0.9"/>
<path d="M224.1 100L223.8 110.8L223 118.7L221.7 125.8L219.8 132.2L217.4 138.3L214.5 143.9L211 149.1L207.1 153.9L202.6 158.4L197.6 162.5L192.2 166.3L186.2 169.6L179.8 172.6L172.9 175.2L165.5 177.4L157.5 179.3L148.9 180.7L139.6 181.7L129.1 182.3L114.8 182.5L100.5 182.3L90 181.7L80.7 180.7L72.1 179.3L64.1 177.4L56.7 175.2L49.8 172.6L43.4 169.6L37.4 166.3L32 162.5L27 158.4L22.5 153.9L18.6 149.1L15.1 143.9L12.2 138.3L9.8 132.2L7.9 125.8L6.6 118.7L5.8 110.8L5.5 100L5.8 89.3L6.7 80.5L8.1 72.3L10.2 64.7L12.8 57.5L15.9 50.7L19.6 44.3L23.9 38.3L28.7 32.7L33.9 27.5L39.7 22.8L45.9 18.5L52.6 14.7L59.8 11.4L67.4 8.5L75.4 6.2L84 4.4L93 3.1L102.8 2.3L114.8 2L126.8 2.3L136.6 3.1L145.6 4.4L154.2 6.2L162.2 8.5L169.8 11.4L177 14.7L183.7 18.5L189.9 22.8L195.7 27.5L200.9 32.7L205.7 38.3L210 44.3L213.7 50.7L216.8 57.5L219.4 64.7L221.5 72.3L222.9 80.5L223.8 89.3Z" fill="#424242" stroke="#8c8c8c" stroke-width="1.1"/>
<g clip-path="url(#ct8)">
<path d="M214.8 100L214.6 110.6L213.9 117.7L212.7 123.8L211.1 129.3L209.1 134.4L206.6 139L203.6 143.3L200.2 147.2L196.4 150.8L192.1 154.2L187.4 157.1L182.2 159.8L176.6 162.2L170.4 164.3L163.8 166L156.6 167.4L148.7 168.6L140 169.4L129.8 169.8L114.6 170L99.4 169.8L89.2 169.4L80.5 168.6L72.6 167.4L65.4 166L58.8 164.3L52.6 162.2L47 159.8L41.8 157.1L37.1 154.2L32.8 150.8L29 147.2L25.6 143.3L22.6 139L20.1 134.4L18.1 129.3L16.5 123.8L15.3 117.7L14.6 110.6L14.4 100L14.7 90.7L15.5 83L16.8 75.9L18.7 69.2L21.1 62.9L24 57L27.4 51.4L31.3 46.1L35.6 41.3L40.5 36.7L45.8 32.6L51.5 28.9L57.6 25.6L64.2 22.7L71.1 20.2L78.5 18.2L86.3 16.6L94.6 15.4L103.6 14.7L114.6 14.5L125.6 14.7L134.6 15.4L142.9 16.6L150.7 18.2L158.1 20.2L165 22.7L171.6 25.6L177.7 28.9L183.4 32.6L188.7 36.7L193.6 41.3L197.9 46.1L201.8 51.4L205.2 57L208.1 62.9L210.5 69.2L212.4 75.9L213.7 83L214.5 90.7Z" fill="#030303"/>
<path d="M44 176L58 168Q76 164 86 159L98 146L131 146L143 159Q153 164 171 168L186 176L186 190L44 190Z" fill="#545454"/>
<path d="M113.5 172L115.5 172L116.5 186L112.5 186Z" fill="#2a2a2a"/>
<path d="M62 4L186 4L188 24L168 19L62 19Z" fill="#424242"/>
<path d="M92 13Q112 17 122 23Q134 17 152 13L146 12Q132 15 122 19Q110 15 98 12Z" fill="#1a1a1a"/>
<path d="M28.2 45.5Q31.2 39 36.8 34.5" fill="none" stroke="#e6e6e6" stroke-width="3.2" stroke-linecap="round"/><path d="M18.8 77.9Q18.4 70.7 21.2 64.1" fill="none" stroke="#e6e6e6" stroke-width="3.2" stroke-linecap="round"/><path d="M16.2 94.3Q14.9 102.9 16.8 111.3" fill="none" stroke="#e6e6e6" stroke-width="3.2" stroke-linecap="round"/><path d="M23.4 134.1Q27.6 143.8 34.6 151.9" fill="none" stroke="#e6e6e6" stroke-width="3.2" stroke-linecap="round"/><path d="M194.2 31.5Q199.8 36 202.8 42.5" fill="none" stroke="#e6e6e6" stroke-width="3.2" stroke-linecap="round"/><path d="M207.3 62.1Q210.1 68.7 209.7 75.9" fill="none" stroke="#e6e6e6" stroke-width="3.2" stroke-linecap="round"/><path d="M211.2 105Q213.1 97.1 211.8 89" fill="none" stroke="#e6e6e6" stroke-width="3.2" stroke-linecap="round"/><path d="M196.2 146.1Q202.9 137.8 206.8 127.9" fill="none" stroke="#e6e6e6" stroke-width="3.2" stroke-linecap="round"/><path d="M56.9 15.7Q62.5 12 69.1 11.3" fill="none" stroke="#cfcfcf" stroke-width="3.2" stroke-linecap="round"/><path d="M159.9 11.3Q166.5 12 172.1 15.7" fill="none" stroke="#cfcfcf" stroke-width="3.2" stroke-linecap="round"/>
<ellipse cx="67" cy="164.6" rx="8" ry="2.6" fill="#f4f4f4"/><ellipse cx="165.5" cy="163" rx="8.5" ry="2.6" fill="#f4f4f4"/>
</g>
<path d="M64.7 19L160 19Q164 38 166.5 59.5L150 61.3Q139 70 127.8 75.1Q108 83 87.7 85.9Q74 86 66.2 81.3Q58 75 57 68Q58 58 58.5 44Q59 28 64.7 19Z" fill="#808080"/>
<path d="M160 19L176 19Q172 30 171 44L166.5 59.5Q164 38 160 19Z" fill="#3a3a3a"/>
<circle cx="120.8" cy="108.2" r="9" fill="#7d7d7d"/>
<g transform="translate(0 0)">
<path d="M101.2 145L84.2 160L89.2 164.5L103.7 157L110 165L110.4 178L116 178L116.4 165L122.7 157L137.2 164.5L142.2 160L125.2 145Z" fill="#e6e6e6"/>
<circle cx="113.2" cy="134.2" r="18" fill="#efefef"/>
<circle cx="113.2" cy="133.4" r="13.4" fill="#d0d0d0"/>
<circle cx="113.2" cy="152" r="4.4" fill="#606060"/>
</g>
</g>
<rect x="1302" y="1711" width="10.5" height="10.5" fill="none" stroke="#e0291f" stroke-width="1.4"/>
<path d="M1358.3 1662L1333.5 1686.7L1330.7 1678.2L1320 1703.6L1345.4 1693L1337 1690.2L1361.7 1665.4Z" fill="#fc0a12"/>
<text x="1520.7" y="1834.6" font-size="24.5" text-anchor="middle" textLength="186.9" lengthAdjust="spacingAndGlyphs" fill="#231815" stroke="#231815">7th therapy cycle</text>
<g transform="translate(1268.1 1854) scale(1.0522 1.0289)">
<rect width="228" height="190" fill="#020202"/>
<path d="M208 190L228 181" stroke="#e8e8e8" stroke-width="1"/><path d="M0 185.5L9 190" stroke="#ccc" stroke-width="0.9"/>
<path d="M224.1 100L223.8 110.8L223 118.7L221.7 125.8L219.8 132.2L217.4 138.3L214.5 143.9L211 149.1L207.1 153.9L202.6 158.4L197.6 162.5L192.2 166.3L186.2 169.6L179.8 172.6L172.9 175.2L165.5 177.4L157.5 179.3L148.9 180.7L139.6 181.7L129.1 182.3L114.8 182.5L100.5 182.3L90 181.7L80.7 180.7L72.1 179.3L64.1 177.4L56.7 175.2L49.8 172.6L43.4 169.6L37.4 166.3L32 162.5L27 158.4L22.5 153.9L18.6 149.1L15.1 143.9L12.2 138.3L9.8 132.2L7.9 125.8L6.6 118.7L5.8 110.8L5.5 100L5.8 92.3L6.8 84.7L8.5 77.1L10.8 69.7L13.8 62.5L17.4 55.5L21.6 48.8L26.4 42.4L31.7 36.4L37.5 30.7L43.8 25.5L50.6 20.7L57.7 16.4L65.2 12.7L73 9.5L81 6.8L89.3 4.7L97.7 3.2L106.2 2.3L114.8 2L123.4 2.3L131.9 3.2L140.3 4.7L148.6 6.8L156.6 9.5L164.4 12.7L171.9 16.4L179 20.7L185.8 25.5L192.1 30.7L197.9 36.4L203.2 42.4L208 48.8L212.2 55.5L215.8 62.5L218.8 69.7L221.1 77.1L222.8 84.7L223.8 92.3Z" fill="#424242" stroke="#8c8c8c" stroke-width="1.1"/>
<g clip-path="url(#ct9)">
<path d="M214.8 100L214.6 110.6L213.9 117.7L212.7 123.8L211.1 129.3L209.1 134.4L206.6 139L203.6 143.3L200.2 147.2L196.4 150.8L192.1 154.2L187.4 157.1L182.2 159.8L176.6 162.2L170.4 164.3L163.8 166L156.6 167.4L148.7 168.6L140 169.4L129.8 169.8L114.6 170L99.4 169.8L89.2 169.4L80.5 168.6L72.6 167.4L65.4 166L58.8 164.3L52.6 162.2L47 159.8L41.8 157.1L37.1 154.2L32.8 150.8L29 147.2L25.6 143.3L22.6 139L20.1 134.4L18.1 129.3L16.5 123.8L15.3 117.7L14.6 110.6L14.4 100L14.7 93.3L15.6 86.6L17.2 80L19.3 73.6L22 67.3L25.3 61.2L29.2 55.3L33.5 49.7L38.4 44.5L43.7 39.5L49.5 35L55.7 30.8L62.2 27.1L69.1 23.8L76.3 21L83.6 18.7L91.2 16.9L98.9 15.6L106.7 14.8L114.6 14.5L122.5 14.8L130.3 15.6L138 16.9L145.6 18.7L152.9 21L160.1 23.8L167 27.1L173.5 30.8L179.7 35L185.5 39.5L190.8 44.5L195.7 49.7L200 55.3L203.9 61.2L207.2 67.3L209.9 73.6L212 80L213.6 86.6L214.5 93.3Z" fill="#030303"/>
<path d="M44 176L58 168Q76 164 86 159L98 146L131 146L143 159Q153 164 171 168L186 176L186 190L44 190Z" fill="#545454"/>
<path d="M113.5 172L115.5 172L116.5 186L112.5 186Z" fill="#2a2a2a"/>
<path d="M78 4L182 4L184 26Q168 19 150 20Q124 20 106 27Q98 30 92 24Q86 17 78 17Z" fill="#424242"/>
<path d="M102 17Q118 22 128 17Q140 13 160 19L160 21Q140 17 128 21Q116 25 102 20Z" fill="#1c1c1c"/>
<path d="M21.8 64.6Q24.1 56.3 29.2 49.4" fill="none" stroke="#e6e6e6" stroke-width="3.2" stroke-linecap="round"/><path d="M19.1 100.5Q18.2 90.9 20.5 81.5" fill="none" stroke="#e6e6e6" stroke-width="3.2" stroke-linecap="round"/><path d="M18.5 114.1Q18.2 123.2 21.1 131.9" fill="none" stroke="#e6e6e6" stroke-width="3.2" stroke-linecap="round"/><path d="M33.9 157Q41.6 164.3 51.1 169" fill="none" stroke="#e6e6e6" stroke-width="3.2" stroke-linecap="round"/><path d="M201.3 50.4Q206.4 57.3 208.7 65.6" fill="none" stroke="#e6e6e6" stroke-width="3.2" stroke-linecap="round"/><path d="M210.3 81.5Q212.6 90.9 211.7 100.5" fill="none" stroke="#e6e6e6" stroke-width="3.2" stroke-linecap="round"/><path d="M208.7 130.9Q211.6 122.2 211.3 113.1" fill="none" stroke="#e6e6e6" stroke-width="3.2" stroke-linecap="round"/><path d="M175.9 169Q185.4 164.3 193.1 157" fill="none" stroke="#e6e6e6" stroke-width="3.2" stroke-linecap="round"/><path d="M77.7 11.7Q85.2 8.4 93.3 8.3" fill="none" stroke="#cfcfcf" stroke-width="3.2" stroke-linecap="round"/><path d="M136.7 13.7Q151.8 13.9 166.5 17.3" fill="none" stroke="#e6e6e6" stroke-width="3.2" stroke-linecap="round"/>
</g>
<path d="M100.8 43.6C103.1 38.9 106.8 32.8 111.8 29.4C116.8 26 124.3 23.9 130.5 23.1C136.7 22.3 143.7 22.8 149.2 24.6C154.7 26.4 159.9 29.9 163.3 34.1C166.7 38.3 169 44.6 169.5 49.9C170 55.2 168.7 60.7 166.4 65.7C164.1 70.7 159.9 75.7 155.5 79.9C151.1 84.1 144.1 88.6 139.9 91C135.7 93.4 133.4 95.2 130.5 94.2C127.6 93.2 125 87.9 122.7 84.7C120.4 81.5 118.8 75.5 116.4 75.2C114.1 74.9 111.4 81.8 108.6 83.1C105.8 84.4 101.5 84.9 99.3 83.1C97.1 81.2 95.8 76.2 95.5 72C95.2 67.8 96.8 62.5 97.7 57.8C98.6 53.1 98.5 48.3 100.8 43.6Z" fill="#808080"/>
<path d="M121.5 86L126.5 86L125.5 101L123 101Z" fill="#5e5e5e"/><circle cx="124.2" cy="93" r="1.3" fill="#111"/>
<circle cx="126.8" cy="113.8" r="9" fill="#7d7d7d"/>
<g transform="translate(0 3)">
<path d="M102.4 145L85.4 160L90.4 164.5L104.9 157L111.2 165L111.6 178L117.2 178L117.6 165L123.9 157L138.4 164.5L143.4 160L126.4 145Z" fill="#e6e6e6"/>
<circle cx="114.4" cy="134.2" r="15.5" fill="#efefef"/>
<circle cx="114.4" cy="133.4" r="10.9" fill="#b9b9b9"/>
<circle cx="114.4" cy="152" r="4.4" fill="#606060"/>
</g>
<circle cx="35" cy="136" r="1.8" fill="#7f7f7f"/>
</g>
<rect x="1300.2" y="1993.1" width="10.5" height="8.2" fill="none" stroke="#e0291f" stroke-width="1.4"/>
<path d="M1366.8 1941.1L1341.8 1965.8L1339 1957.4L1328.2 1982.7L1353.6 1972.1L1345.2 1969.3L1370.2 1944.5Z" fill="#fc0a12"/>
<text x="1520.7" y="2113.4" font-size="24.5" text-anchor="middle" textLength="186.9" lengthAdjust="spacingAndGlyphs" fill="#231815" stroke="#231815">9th therapy cycle</text>
<g transform="translate(1273 2137.8) scale(1.0096 1.0153)">
<rect width="228" height="190" fill="#020202"/>
<path d="M224.1 100L223.8 110.8L223 118.7L221.7 125.8L219.8 132.2L217.4 138.3L214.5 143.9L211 149.1L207.1 153.9L202.6 158.4L197.6 162.5L192.2 166.3L186.2 169.6L179.8 172.6L172.9 175.2L165.5 177.4L157.5 179.3L148.9 180.7L139.6 181.7L129.1 182.3L114.8 182.5L100.5 182.3L90 181.7L80.7 180.7L72.1 179.3L64.1 177.4L56.7 175.2L49.8 172.6L43.4 169.6L37.4 166.3L32 162.5L27 158.4L22.5 153.9L18.6 149.1L15.1 143.9L12.2 138.3L9.8 132.2L7.9 125.8L6.6 118.7L5.8 110.8L5.5 100L5.8 92.3L6.8 84.7L8.5 77.1L10.8 69.7L13.8 62.5L17.4 55.5L21.6 48.8L26.4 42.4L31.7 36.4L37.5 30.7L43.8 25.5L50.6 20.7L57.7 16.4L65.2 12.7L73 9.5L81 6.8L89.3 4.7L97.7 3.2L106.2 2.3L114.8 2L123.4 2.3L131.9 3.2L140.3 4.7L148.6 6.8L156.6 9.5L164.4 12.7L171.9 16.4L179 20.7L185.8 25.5L192.1 30.7L197.9 36.4L203.2 42.4L208 48.8L212.2 55.5L215.8 62.5L218.8 69.7L221.1 77.1L222.8 84.7L223.8 92.3Z" fill="#6a6a6a" stroke="#8c8c8c" stroke-width="1.1"/>
<g clip-path="url(#ct10)">
<path d="M214.8 100L214.6 110.6L213.9 117.7L212.7 123.8L211.1 129.3L209.1 134.4L206.6 139L203.6 143.3L200.2 147.2L196.4 150.8L192.1 154.2L187.4 157.1L182.2 159.8L176.6 162.2L170.4 164.3L163.8 166L156.6 167.4L148.7 168.6L140 169.4L129.8 169.8L114.6 170L99.4 169.8L89.2 169.4L80.5 168.6L72.6 167.4L65.4 166L58.8 164.3L52.6 162.2L47 159.8L41.8 157.1L37.1 154.2L32.8 150.8L29 147.2L25.6 143.3L22.6 139L20.1 134.4L18.1 129.3L16.5 123.8L15.3 117.7L14.6 110.6L14.4 100L14.7 93.3L15.6 86.6L17.2 80L19.3 73.6L22 67.3L25.3 61.2L29.2 55.3L33.5 49.7L38.4 44.5L43.7 39.5L49.5 35L55.7 30.8L62.2 27.1L69.1 23.8L76.3 21L83.6 18.7L91.2 16.9L98.9 15.6L106.7 14.8L114.6 14.5L122.5 14.8L130.3 15.6L138 16.9L145.6 18.7L152.9 21L160.1 23.8L167 27.1L173.5 30.8L179.7 35L185.5 39.5L190.8 44.5L195.7 49.7L200 55.3L203.9 61.2L207.2 67.3L209.9 73.6L212 80L213.6 86.6L214.5 93.3Z" fill="#030303"/>
<path d="M44 176L58 168Q76 164 86 159L98 146L131 146L143 159Q153 164 171 168L186 176L186 190L44 190Z" fill="#7a7a7a"/>
<path d="M113.5 172L115.5 172L116.5 186L112.5 186Z" fill="#2a2a2a"/>
<path d="M78 4L182 4L184 26Q168 19 150 20Q124 20 106 27Q98 30 92 24Q86 17 78 17Z" fill="#6a6a6a"/>
<path d="M102 17Q118 22 128 17Q140 13 160 19L160 21Q140 17 128 21Q116 25 102 20Z" fill="#1c1c1c"/>
<path d="M21.8 64.6Q24.1 56.3 29.2 49.4" fill="none" stroke="#e6e6e6" stroke-width="3.2" stroke-linecap="round"/><path d="M19.1 100.5Q18.2 90.9 20.5 81.5" fill="none" stroke="#e6e6e6" stroke-width="3.2" stroke-linecap="round"/><path d="M18.5 114.1Q18.2 123.2 21.1 131.9" fill="none" stroke="#e6e6e6" stroke-width="3.2" stroke-linecap="round"/><path d="M33.9 157Q41.6 164.3 51.1 169" fill="none" stroke="#e6e6e6" stroke-width="3.2" stroke-linecap="round"/><path d="M201.3 50.4Q206.4 57.3 208.7 65.6" fill="none" stroke="#e6e6e6" stroke-width="3.2" stroke-linecap="round"/><path d="M210.3 81.5Q212.6 90.9 211.7 100.5" fill="none" stroke="#e6e6e6" stroke-width="3.2" stroke-linecap="round"/><path d="M208.7 130.9Q211.6 122.2 211.3 113.1" fill="none" stroke="#e6e6e6" stroke-width="3.2" stroke-linecap="round"/><path d="M175.9 169Q185.4 164.3 193.1 157" fill="none" stroke="#e6e6e6" stroke-width="3.2" stroke-linecap="round"/><path d="M77.7 11.7Q85.2 8.4 93.3 8.3" fill="none" stroke="#cfcfcf" stroke-width="3.2" stroke-linecap="round"/><path d="M136.7 13.7Q151.8 13.9 166.5 17.3" fill="none" stroke="#e6e6e6" stroke-width="3.2" stroke-linecap="round"/>
</g>
<path d="M95.1 46.8C95.4 43.1 96.7 39.5 99.4 36.5C102.1 33.5 105.9 30.3 111.3 28.7C116.6 27.1 124.5 26.7 131.5 27C138.6 27.3 147.9 28.4 153.5 30.5C159.2 32.6 162.7 36 165.4 39.9C168.1 43.7 169.3 49.1 169.7 53.7C170.1 58.2 169.5 62.8 167.9 67.3C166.4 71.9 163.9 77.1 160.3 81.1C156.8 85.1 151.6 88.7 146.8 91.4C142 94.1 136 97.1 131.5 97.4C127 97.7 122.6 95.5 119.8 93.1C116.9 90.7 116 86.5 114.6 82.8C113.2 79.1 113 73.7 111.3 70.8C109.6 68 106.7 67.7 104.5 65.6C102.2 63.6 99.2 61.9 97.6 58.8C96.1 55.6 94.8 50.5 95.1 46.8Z" fill="#f1f1f1"/>
<ellipse cx="97" cy="82" rx="10" ry="8.6" fill="#e9e9e9"/>
<path d="M121 88Q132 58 150 40" stroke="#b8b8b8" stroke-width="4.5" fill="none"/>
<path d="M121.5 86L126.5 86L125.5 101L123 101Z" fill="#5e5e5e"/><circle cx="124.2" cy="93" r="1.3" fill="#111"/>
<circle cx="127" cy="115" r="9" fill="#f4f4f4"/>
<g transform="translate(0 5.5)">
<path d="M103.4 145L86.4 160L91.4 164.5L105.9 157L112.2 165L112.6 178L118.2 178L118.6 165L124.9 157L139.4 164.5L144.4 160L127.4 145Z" fill="#e6e6e6"/>
<circle cx="115.4" cy="134.2" r="15.5" fill="#efefef"/>
<circle cx="115.4" cy="133.4" r="10.9" fill="#f6f6f6"/>
<circle cx="115.4" cy="152" r="4.4" fill="#606060"/>
</g>
</g>
<g transform="translate(1540.9 2138.6) scale(1.0000 1.0111)">
<rect width="228" height="190" fill="#020202"/>
<path d="M224.1 100L223.8 110.8L223 118.7L221.7 125.8L219.8 132.2L217.4 138.3L214.5 143.9L211 149.1L207.1 153.9L202.6 158.4L197.6 162.5L192.2 166.3L186.2 169.6L179.8 172.6L172.9 175.2L165.5 177.4L157.5 179.3L148.9 180.7L139.6 181.7L129.1 182.3L114.8 182.5L100.5 182.3L90 181.7L80.7 180.7L72.1 179.3L64.1 177.4L56.7 175.2L49.8 172.6L43.4 169.6L37.4 166.3L32 162.5L27 158.4L22.5 153.9L18.6 149.1L15.1 143.9L12.2 138.3L9.8 132.2L7.9 125.8L6.6 118.7L5.8 110.8L5.5 100L5.8 89.3L6.7 80.5L8.1 72.3L10.2 64.7L12.8 57.5L15.9 50.7L19.6 44.3L23.9 38.3L28.7 32.7L33.9 27.5L39.7 22.8L45.9 18.5L52.6 14.7L59.8 11.4L67.4 8.5L75.4 6.2L84 4.4L93 3.1L102.8 2.3L114.8 2L126.8 2.3L136.6 3.1L145.6 4.4L154.2 6.2L162.2 8.5L169.8 11.4L177 14.7L183.7 18.5L189.9 22.8L195.7 27.5L200.9 32.7L205.7 38.3L210 44.3L213.7 50.7L216.8 57.5L219.4 64.7L221.5 72.3L222.9 80.5L223.8 89.3Z" fill="#6a6a6a" stroke="#8c8c8c" stroke-width="1.1"/>
<g clip-path="url(#ct11)">
<path d="M214.8 100L214.6 110.6L213.9 117.7L212.7 123.8L211.1 129.3L209.1 134.4L206.6 139L203.6 143.3L200.2 147.2L196.4 150.8L192.1 154.2L187.4 157.1L182.2 159.8L176.6 162.2L170.4 164.3L163.8 166L156.6 167.4L148.7 168.6L140 169.4L129.8 169.8L114.6 170L99.4 169.8L89.2 169.4L80.5 168.6L72.6 167.4L65.4 166L58.8 164.3L52.6 162.2L47 159.8L41.8 157.1L37.1 154.2L32.8 150.8L29 147.2L25.6 143.3L22.6 139L20.1 134.4L18.1 129.3L16.5 123.8L15.3 117.7L14.6 110.6L14.4 100L14.7 90.7L15.5 83L16.8 75.9L18.7 69.2L21.1 62.9L24 57L27.4 51.4L31.3 46.1L35.6 41.3L40.5 36.7L45.8 32.6L51.5 28.9L57.6 25.6L64.2 22.7L71.1 20.2L78.5 18.2L86.3 16.6L94.6 15.4L103.6 14.7L114.6 14.5L125.6 14.7L134.6 15.4L142.9 16.6L150.7 18.2L158.1 20.2L165 22.7L171.6 25.6L177.7 28.9L183.4 32.6L188.7 36.7L193.6 41.3L197.9 46.1L201.8 51.4L205.2 57L208.1 62.9L210.5 69.2L212.4 75.9L213.7 83L214.5 90.7Z" fill="#030303"/>
<path d="M44 176L58 168Q76 164 86 159L98 146L131 146L143 159Q153 164 171 168L186 176L186 190L44 190Z" fill="#7a7a7a"/>
<path d="M113.5 172L115.5 172L116.5 186L112.5 186Z" fill="#2a2a2a"/>
<path d="M62 4L186 4L188 24L168 19L62 19Z" fill="#6a6a6a"/>
<path d="M92 13Q112 17 122 23Q134 17 152 13L146 12Q132 15 122 19Q110 15 98 12Z" fill="#1a1a1a"/>
<path d="M28.2 45.5Q31.2 39 36.8 34.5" fill="none" stroke="#e6e6e6" stroke-width="3.2" stroke-linecap="round"/><path d="M18.8 77.9Q18.4 70.7 21.2 64.1" fill="none" stroke="#e6e6e6" stroke-width="3.2" stroke-linecap="round"/><path d="M16.2 94.3Q14.9 102.9 16.8 111.3" fill="none" stroke="#e6e6e6" stroke-width="3.2" stroke-linecap="round"/><path d="M23.4 134.1Q27.6 143.8 34.6 151.9" fill="none" stroke="#e6e6e6" stroke-width="3.2" stroke-linecap="round"/><path d="M194.2 31.5Q199.8 36 202.8 42.5" fill="none" stroke="#e6e6e6" stroke-width="3.2" stroke-linecap="round"/><path d="M207.3 62.1Q210.1 68.7 209.7 75.9" fill="none" stroke="#e6e6e6" stroke-width="3.2" stroke-linecap="round"/><path d="M211.2 105Q213.1 97.1 211.8 89" fill="none" stroke="#e6e6e6" stroke-width="3.2" stroke-linecap="round"/><path d="M196.2 146.1Q202.9 137.8 206.8 127.9" fill="none" stroke="#e6e6e6" stroke-width="3.2" stroke-linecap="round"/><path d="M56.9 15.7Q62.5 12 69.1 11.3" fill="none" stroke="#cfcfcf" stroke-width="3.2" stroke-linecap="round"/><path d="M159.9 11.3Q166.5 12 172.1 15.7" fill="none" stroke="#cfcfcf" stroke-width="3.2" stroke-linecap="round"/>
<ellipse cx="67" cy="164.6" rx="8" ry="2.6" fill="#f4f4f4"/><ellipse cx="165.5" cy="163" rx="8.5" ry="2.6" fill="#f4f4f4"/>
</g>
<path d="M94 18C98.8 15.7 109 23.5 120 24C131 24.5 152.3 18.1 159.8 20.8C167.3 23.5 163.9 33.1 165 40C166.1 46.9 168.4 57.4 166.2 62.4C164 67.4 157.1 66.8 152 70C146.9 73.2 141.5 80.4 135.8 81.7C130.1 83 123.3 76.6 118 78C112.7 79.4 108.5 87.7 104 90C99.5 92.3 94.6 93.7 90.9 92C87.2 90.3 84.1 84.9 82 80C79.9 75.1 77.1 67.4 78.1 62.4C79.1 57.4 85.9 54.1 88 50C90.1 45.9 89.9 43.3 90.9 38C91.9 32.7 89.2 20.3 94 18Z" fill="#e6e6e6"/>
<ellipse cx="92" cy="80" rx="9" ry="9" fill="#f4f4f4"/><path d="M100 58Q124 36 152 34" stroke="#f7f7f7" stroke-width="10" fill="none" stroke-linecap="round"/>
<circle cx="120.8" cy="108.2" r="9" fill="#f4f4f4"/>
<g transform="translate(0 5.5)">
<path d="M102.2 145L85.2 160L90.2 164.5L104.7 157L111 165L111.4 178L117 178L117.4 165L123.7 157L138.2 164.5L143.2 160L126.2 145Z" fill="#e6e6e6"/>
<circle cx="114.2" cy="134.2" r="18" fill="#efefef"/>
<circle cx="114.2" cy="133.4" r="13.4" fill="#f6f6f6"/>
<circle cx="114.2" cy="152" r="4.4" fill="#606060"/>
</g>
</g>
</g>
</svg></body></html>
